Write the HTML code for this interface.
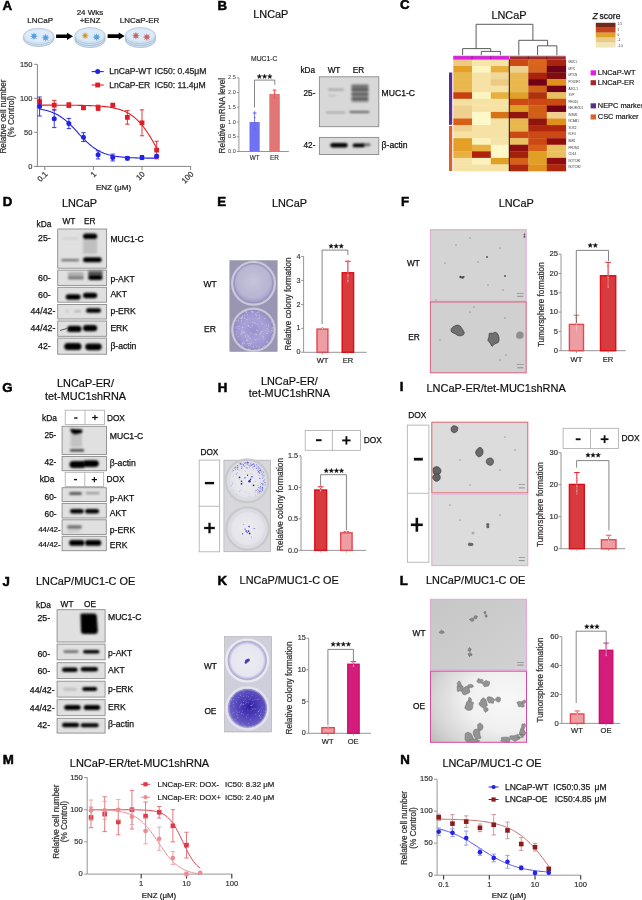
<!DOCTYPE html><html><head><meta charset="utf-8"><style>html,body{margin:0;padding:0;background:#fff;}svg{display:block;}</style></head><body><svg width="642" height="900" viewBox="0 0 642 900" font-family='"Liberation Sans", sans-serif'><defs><filter id="bl" x="-50%" y="-100%" width="200%" height="300%"><feGaussianBlur stdDeviation="0.8"/></filter><filter id="bl2" x="-50%" y="-50%" width="200%" height="200%"><feGaussianBlur stdDeviation="0.6"/></filter><radialGradient id="gE1" cx="0.5" cy="0.45" r="0.55"><stop offset="0" stop-color="#c6c4da"/><stop offset="0.75" stop-color="#b8b4d2"/><stop offset="1" stop-color="#9e98c8"/></radialGradient><radialGradient id="gE2" cx="0.5" cy="0.5" r="0.55"><stop offset="0" stop-color="#9890d0"/><stop offset="0.5" stop-color="#a8a2d8"/><stop offset="0.9" stop-color="#9890cc"/><stop offset="1" stop-color="#a0a0c0"/></radialGradient><radialGradient id="gH"><stop offset="0" stop-color="#ececf0"/><stop offset="0.8" stop-color="#e4e4ea"/><stop offset="1" stop-color="#d0d0da"/></radialGradient><radialGradient id="gK1"><stop offset="0" stop-color="#ececf2"/><stop offset="0.82" stop-color="#e6e6f0"/><stop offset="1" stop-color="#a8a0d8"/></radialGradient><radialGradient id="gK2" cx="0.55" cy="0.45" r="0.55"><stop offset="0" stop-color="#2e1ea0"/><stop offset="0.45" stop-color="#4e3eb8"/><stop offset="0.9" stop-color="#6a5ec4"/><stop offset="1" stop-color="#8a80d0"/></radialGradient><linearGradient id="gLw" x1="0" y1="0" x2="1" y2="1"><stop offset="0" stop-color="#c6c6c6"/><stop offset="1" stop-color="#d2d2d2"/></linearGradient><radialGradient id="gL" cx="0.78" cy="0.42" r="0.95" fx="0.8" fy="0.4"><stop offset="0" stop-color="#f8f8f8"/><stop offset="0.45" stop-color="#f0f0f0"/><stop offset="0.8" stop-color="#d4d4d4"/><stop offset="1" stop-color="#bcbcbc"/></radialGradient><filter id="soft" x="0" y="0" width="642" height="900" filterUnits="userSpaceOnUse"><feGaussianBlur stdDeviation="0.35"/></filter></defs><rect width="642" height="900" fill="#fff"/><g filter="url(#soft)"><text x="2.55" y="10.3" font-size="12.9" font-weight="bold" stroke="#000" stroke-width="0.5" transform="translate(2.55 0) scale(1.03 1) translate(-2.55 0)">A</text>
<text x="40.2" y="23.23" font-size="8" text-anchor="middle" fill="#222" stroke="#222" stroke-width="0.22">LNCaP</text>
<text x="90" y="15.33" font-size="8" text-anchor="middle" fill="#222" stroke="#222" stroke-width="0.22">24 Wks</text>
<text x="90" y="23.23" font-size="8" text-anchor="middle" fill="#222" stroke="#222" stroke-width="0.22">+ENZ</text>
<text x="139.6" y="23.23" font-size="8" text-anchor="middle" fill="#222" stroke="#222" stroke-width="0.22">LNCaP-ER</text>
<ellipse cx="38.7" cy="38.4" rx="15.4" ry="8.1" fill="#cfe0f2" stroke="#8fa8c0" stroke-width="0.6"/>
<ellipse cx="38.7" cy="36.4" rx="15.4" ry="8.1" fill="#d9e8f7" stroke="#9fb4c8" stroke-width="0.6"/>
<ellipse cx="38.7" cy="35.9" rx="14.2" ry="6.9" fill="#dcebf9" stroke="#bcd0e4" stroke-width="0.4"/>
<path d="M34 32.3 L34.8 34.26 L36.76 33.44 L35.94 35.4 L37.9 36.2 L35.94 37 L36.76 38.96 L34.8 38.14 L34 40.1 L33.2 38.14 L31.24 38.96 L32.06 37 L30.1 36.2 L32.06 35.4 L31.24 33.44 L33.2 34.26Z" fill="#5aa8e8" stroke="none" stroke-width="1"/>
<circle cx="34" cy="36.2" r="1.16" fill="#7890a8" stroke="none" stroke-width="1"/>
<path d="M45.6 33.8 L46.4 35.76 L48.36 34.94 L47.54 36.9 L49.5 37.7 L47.54 38.5 L48.36 40.46 L46.4 39.64 L45.6 41.6 L44.8 39.64 L42.84 40.46 L43.66 38.5 L41.7 37.7 L43.66 36.9 L42.84 34.94 L44.8 35.76Z" fill="#5aa8e8" stroke="none" stroke-width="1"/>
<circle cx="45.6" cy="37.7" r="1.16" fill="#7890a8" stroke="none" stroke-width="1"/>
<path d="M56.1 34.5 L67 34.5 L67 32.7 L73 36.3 L67 39.9 L67 38.1 L56.1 38.1 Z" fill="#000" stroke="none" stroke-width="1"/>
<ellipse cx="90" cy="39.6" rx="15.2" ry="8" fill="#cfe0f2" stroke="#8fa8c0" stroke-width="0.6"/>
<ellipse cx="90" cy="37.6" rx="15.2" ry="8" fill="#cfe0f2" stroke="#8fa8c0" stroke-width="0.6"/>
<ellipse cx="90" cy="35.6" rx="15.2" ry="8" fill="#d9e8f7" stroke="#9fb4c8" stroke-width="0.6"/>
<ellipse cx="90" cy="35.1" rx="14" ry="6.8" fill="#dcebf9" stroke="#bcd0e4" stroke-width="0.4"/>
<path d="M85.1 31.8 L85.9 33.76 L87.86 32.94 L87.04 34.9 L89 35.7 L87.04 36.5 L87.86 38.46 L85.9 37.64 L85.1 39.6 L84.3 37.64 L82.34 38.46 L83.16 36.5 L81.2 35.7 L83.16 34.9 L82.34 32.94 L84.3 33.76Z" fill="#e8b040" stroke="none" stroke-width="1"/>
<circle cx="85.1" cy="35.7" r="1.16" fill="#a08860" stroke="none" stroke-width="1"/>
<path d="M96.6 33.2 L97.4 35.16 L99.36 34.34 L98.54 36.3 L100.5 37.1 L98.54 37.9 L99.36 39.86 L97.4 39.04 L96.6 41 L95.8 39.04 L93.84 39.86 L94.66 37.9 L92.7 37.1 L94.66 36.3 L93.84 34.34 L95.8 35.16Z" fill="#5aa8e8" stroke="none" stroke-width="1"/>
<circle cx="96.6" cy="37.1" r="1.16" fill="#7890a8" stroke="none" stroke-width="1"/>
<path d="M107.6 34.3 L118.7 34.3 L118.7 32.5 L124.7 36.1 L118.7 39.7 L118.7 37.9 L107.6 37.9 Z" fill="#000" stroke="none" stroke-width="1"/>
<ellipse cx="140.4" cy="39.6" rx="15.2" ry="8" fill="#cfe0f2" stroke="#8fa8c0" stroke-width="0.6"/>
<ellipse cx="140.4" cy="37.6" rx="15.2" ry="8" fill="#cfe0f2" stroke="#8fa8c0" stroke-width="0.6"/>
<ellipse cx="140.4" cy="35.6" rx="15.2" ry="8" fill="#d9e8f7" stroke="#9fb4c8" stroke-width="0.6"/>
<ellipse cx="140.4" cy="35.1" rx="14" ry="6.8" fill="#dcebf9" stroke="#bcd0e4" stroke-width="0.4"/>
<path d="M135.9 31.8 L136.7 33.76 L138.66 32.94 L137.84 34.9 L139.8 35.7 L137.84 36.5 L138.66 38.46 L136.7 37.64 L135.9 39.6 L135.1 37.64 L133.14 38.46 L133.96 36.5 L132 35.7 L133.96 34.9 L133.14 32.94 L135.1 33.76Z" fill="#d87070" stroke="none" stroke-width="1"/>
<circle cx="135.9" cy="35.7" r="1.16" fill="#907070" stroke="none" stroke-width="1"/>
<path d="M146.8 33.2 L147.6 35.16 L149.56 34.34 L148.74 36.3 L150.7 37.1 L148.74 37.9 L149.56 39.86 L147.6 39.04 L146.8 41 L146 39.04 L144.04 39.86 L144.86 37.9 L142.9 37.1 L144.86 36.3 L144.04 34.34 L146 35.16Z" fill="#d87070" stroke="none" stroke-width="1"/>
<circle cx="146.8" cy="37.1" r="1.16" fill="#907070" stroke="none" stroke-width="1"/>
<line x1="37.4" y1="64.3" x2="37.4" y2="166.9" stroke="#858585" stroke-width="1"/>
<line x1="36.9" y1="166.4" x2="191.2" y2="166.4" stroke="#858585" stroke-width="1"/>
<line x1="34.2" y1="166.4" x2="37.4" y2="166.4" stroke="#858585" stroke-width="1"/>
<text x="32.4" y="168.63" font-size="7.5" text-anchor="end" fill="#333" stroke="#333" stroke-width="0.18">0</text>
<line x1="34.2" y1="132.37" x2="37.4" y2="132.37" stroke="#858585" stroke-width="1"/>
<text x="32.4" y="134.6" font-size="7.5" text-anchor="end" fill="#333" stroke="#333" stroke-width="0.18">50</text>
<line x1="34.2" y1="98.33" x2="37.4" y2="98.33" stroke="#858585" stroke-width="1"/>
<text x="32.4" y="100.57" font-size="7.5" text-anchor="end" fill="#333" stroke="#333" stroke-width="0.18">100</text>
<line x1="34.2" y1="64.3" x2="37.4" y2="64.3" stroke="#858585" stroke-width="1"/>
<text x="32.4" y="66.53" font-size="7.5" text-anchor="end" fill="#333" stroke="#333" stroke-width="0.18">150</text>
<line x1="44.8" y1="166.4" x2="44.8" y2="170" stroke="#858585" stroke-width="1"/>
<text x="48.2" y="174.6" font-size="7.9" text-anchor="end" fill="#333" stroke="#333" stroke-width="0.22" transform="rotate(-45 48.2 174.6)">0.1</text>
<line x1="93.4" y1="166.4" x2="93.4" y2="170" stroke="#858585" stroke-width="1"/>
<text x="96.8" y="174.6" font-size="7.9" text-anchor="end" fill="#333" stroke="#333" stroke-width="0.22" transform="rotate(-45 96.8 174.6)">1</text>
<line x1="142" y1="166.4" x2="142" y2="170" stroke="#858585" stroke-width="1"/>
<text x="145.4" y="174.6" font-size="7.9" text-anchor="end" fill="#333" stroke="#333" stroke-width="0.22" transform="rotate(-45 145.4 174.6)">10</text>
<line x1="190.6" y1="166.4" x2="190.6" y2="170" stroke="#858585" stroke-width="1"/>
<text x="194" y="174.6" font-size="7.9" text-anchor="end" fill="#333" stroke="#333" stroke-width="0.22" transform="rotate(-45 194 174.6)">100</text>
<text x="113.5" y="190.3" font-size="8.1" text-anchor="middle" fill="#222" stroke="#222" stroke-width="0.23">ENZ (μM)</text>
<text x="6.4" y="116.5" font-size="8.2" text-anchor="middle" fill="#333" stroke="#333" stroke-width="0.24" transform="rotate(-90 6.4 116.5)">Relative cell number</text>
<text x="14.4" y="116.5" font-size="8.2" text-anchor="middle" fill="#333" stroke="#333" stroke-width="0.24" transform="rotate(-90 14.4 116.5)">(% Control)</text>
<path d="M39.56 109.05 L40.73 109.24 L41.9 109.44 L43.07 109.67 L44.24 109.92 L45.41 110.19 L46.58 110.48 L47.75 110.81 L48.92 111.16 L50.09 111.54 L51.26 111.95 L52.43 112.4 L53.6 112.89 L54.78 113.41 L55.95 113.98 L57.12 114.59 L58.29 115.25 L59.46 115.95 L60.63 116.7 L61.8 117.49 L62.97 118.34 L64.14 119.24 L65.31 120.18 L66.48 121.17 L67.65 122.21 L68.82 123.29 L70 124.41 L71.17 125.56 L72.34 126.75 L73.51 127.97 L74.68 129.21 L75.85 130.47 L77.02 131.74 L78.19 133.01 L79.36 134.29 L80.53 135.55 L81.7 136.8 L82.87 138.03 L84.04 139.24 L85.21 140.41 L86.39 141.55 L87.56 142.65 L88.73 143.71 L89.9 144.73 L91.07 145.69 L92.24 146.62 L93.41 147.49 L94.58 148.31 L95.75 149.08 L96.92 149.81 L98.09 150.49 L99.26 151.12 L100.43 151.71 L101.61 152.26 L102.78 152.76 L103.95 153.23 L105.12 153.67 L106.29 154.06 L107.46 154.43 L108.63 154.77 L109.8 155.08 L110.97 155.36 L112.14 155.62 L113.31 155.86 L114.48 156.07 L115.65 156.27 L116.82 156.45 L118 156.61 L119.17 156.76 L120.34 156.9 L121.51 157.02 L122.68 157.13 L123.85 157.24 L125.02 157.33 L126.19 157.41 L127.36 157.49 L128.53 157.56 L129.7 157.62 L130.87 157.68 L132.04 157.73 L133.22 157.78 L134.39 157.82 L135.56 157.86 L136.73 157.9 L137.9 157.93 L139.07 157.96 L140.24 157.98 L141.41 158.01 L142.58 158.03 L143.75 158.05 L144.92 158.06 L146.09 158.08 L147.26 158.09 L148.43 158.11 L149.61 158.12 L150.78 158.13 L151.95 158.14 L153.12 158.15 L154.29 158.16 L155.46 158.16 L156.63 158.17" fill="none" stroke="#2323e6" stroke-width="1.1"/>
<path d="M39.56 105.15 L40.73 105.15 L41.9 105.15 L43.07 105.15 L44.24 105.16 L45.41 105.16 L46.58 105.16 L47.75 105.16 L48.92 105.16 L50.09 105.16 L51.26 105.17 L52.43 105.17 L53.6 105.17 L54.78 105.17 L55.95 105.18 L57.12 105.18 L58.29 105.18 L59.46 105.19 L60.63 105.19 L61.8 105.2 L62.97 105.2 L64.14 105.21 L65.31 105.21 L66.48 105.22 L67.65 105.23 L68.82 105.24 L70 105.25 L71.17 105.26 L72.34 105.27 L73.51 105.28 L74.68 105.29 L75.85 105.3 L77.02 105.32 L78.19 105.34 L79.36 105.35 L80.53 105.37 L81.7 105.4 L82.87 105.42 L84.04 105.45 L85.21 105.47 L86.39 105.51 L87.56 105.54 L88.73 105.58 L89.9 105.62 L91.07 105.66 L92.24 105.71 L93.41 105.76 L94.58 105.82 L95.75 105.88 L96.92 105.95 L98.09 106.02 L99.26 106.1 L100.43 106.19 L101.61 106.29 L102.78 106.39 L103.95 106.51 L105.12 106.63 L106.29 106.77 L107.46 106.92 L108.63 107.08 L109.8 107.26 L110.97 107.45 L112.14 107.66 L113.31 107.88 L114.48 108.13 L115.65 108.4 L116.82 108.69 L118 109.01 L119.17 109.35 L120.34 109.73 L121.51 110.13 L122.68 110.57 L123.85 111.04 L125.02 111.56 L126.19 112.11 L127.36 112.71 L128.53 113.35 L129.7 114.05 L130.87 114.8 L132.04 115.6 L133.22 116.46 L134.39 117.38 L135.56 118.37 L136.73 119.42 L137.9 120.55 L139.07 121.74 L140.24 123.01 L141.41 124.35 L142.58 125.77 L143.75 127.26 L144.92 128.83 L146.09 130.48 L147.26 132.2 L148.43 133.99 L149.61 135.85 L150.78 137.78 L151.95 139.77 L153.12 141.81 L154.29 143.9 L155.46 146.04 L156.63 148.21" fill="none" stroke="#e01f26" stroke-width="1.1"/>
<line x1="39.59" y1="99.01" x2="39.59" y2="104.46" stroke="#e01f26" stroke-width="0.9"/>
<line x1="37.39" y1="99.01" x2="41.79" y2="99.01" stroke="#e01f26" stroke-width="0.9"/>
<line x1="37.39" y1="104.46" x2="41.79" y2="104.46" stroke="#e01f26" stroke-width="0.9"/>
<rect x="37.19" y="99.34" width="4.8" height="4.8" fill="#e01f26" stroke="none" stroke-width="1"/>
<line x1="39.59" y1="96.97" x2="39.59" y2="116.03" stroke="#2323e6" stroke-width="0.9"/>
<line x1="37.39" y1="96.97" x2="41.79" y2="96.97" stroke="#2323e6" stroke-width="0.9"/>
<line x1="37.39" y1="116.03" x2="41.79" y2="116.03" stroke="#2323e6" stroke-width="0.9"/>
<circle cx="39.59" cy="106.5" r="2.5" fill="#2323e6" stroke="none" stroke-width="1"/>
<line x1="54.22" y1="100.38" x2="54.22" y2="109.9" stroke="#e01f26" stroke-width="0.9"/>
<line x1="52.02" y1="100.38" x2="56.42" y2="100.38" stroke="#e01f26" stroke-width="0.9"/>
<line x1="52.02" y1="109.9" x2="56.42" y2="109.9" stroke="#e01f26" stroke-width="0.9"/>
<rect x="51.82" y="102.74" width="4.8" height="4.8" fill="#e01f26" stroke="none" stroke-width="1"/>
<line x1="54.22" y1="109.9" x2="54.22" y2="127.6" stroke="#2323e6" stroke-width="0.9"/>
<line x1="52.02" y1="109.9" x2="56.42" y2="109.9" stroke="#2323e6" stroke-width="0.9"/>
<line x1="52.02" y1="127.6" x2="56.42" y2="127.6" stroke="#2323e6" stroke-width="0.9"/>
<circle cx="54.22" cy="118.75" r="2.5" fill="#2323e6" stroke="none" stroke-width="1"/>
<line x1="68.85" y1="102.76" x2="68.85" y2="107.52" stroke="#e01f26" stroke-width="0.9"/>
<line x1="66.65" y1="102.76" x2="71.05" y2="102.76" stroke="#e01f26" stroke-width="0.9"/>
<line x1="66.65" y1="107.52" x2="71.05" y2="107.52" stroke="#e01f26" stroke-width="0.9"/>
<rect x="66.45" y="102.74" width="4.8" height="4.8" fill="#e01f26" stroke="none" stroke-width="1"/>
<line x1="68.85" y1="118.41" x2="68.85" y2="128.62" stroke="#2323e6" stroke-width="0.9"/>
<line x1="66.65" y1="118.41" x2="71.05" y2="118.41" stroke="#2323e6" stroke-width="0.9"/>
<line x1="66.65" y1="128.62" x2="71.05" y2="128.62" stroke="#2323e6" stroke-width="0.9"/>
<circle cx="68.85" cy="123.52" r="2.5" fill="#2323e6" stroke="none" stroke-width="1"/>
<line x1="83.48" y1="106.5" x2="83.48" y2="109.22" stroke="#e01f26" stroke-width="0.9"/>
<line x1="81.28" y1="106.5" x2="85.68" y2="106.5" stroke="#e01f26" stroke-width="0.9"/>
<line x1="81.28" y1="109.22" x2="85.68" y2="109.22" stroke="#e01f26" stroke-width="0.9"/>
<rect x="81.08" y="105.46" width="4.8" height="4.8" fill="#e01f26" stroke="none" stroke-width="1"/>
<line x1="83.48" y1="132.71" x2="83.48" y2="141.56" stroke="#2323e6" stroke-width="0.9"/>
<line x1="81.28" y1="132.71" x2="85.68" y2="132.71" stroke="#2323e6" stroke-width="0.9"/>
<line x1="81.28" y1="141.56" x2="85.68" y2="141.56" stroke="#2323e6" stroke-width="0.9"/>
<circle cx="83.48" cy="137.13" r="2.5" fill="#2323e6" stroke="none" stroke-width="1"/>
<line x1="98.11" y1="105.14" x2="98.11" y2="110.59" stroke="#e01f26" stroke-width="0.9"/>
<line x1="95.91" y1="105.14" x2="100.31" y2="105.14" stroke="#e01f26" stroke-width="0.9"/>
<line x1="95.91" y1="110.59" x2="100.31" y2="110.59" stroke="#e01f26" stroke-width="0.9"/>
<rect x="95.71" y="105.46" width="4.8" height="4.8" fill="#e01f26" stroke="none" stroke-width="1"/>
<line x1="98.11" y1="150.74" x2="98.11" y2="158.91" stroke="#2323e6" stroke-width="0.9"/>
<line x1="95.91" y1="150.74" x2="100.31" y2="150.74" stroke="#2323e6" stroke-width="0.9"/>
<line x1="95.91" y1="158.91" x2="100.31" y2="158.91" stroke="#2323e6" stroke-width="0.9"/>
<circle cx="98.11" cy="154.83" r="2.5" fill="#2323e6" stroke="none" stroke-width="1"/>
<rect x="110.34" y="102.74" width="4.8" height="4.8" fill="#e01f26" stroke="none" stroke-width="1"/>
<line x1="112.74" y1="154.15" x2="112.74" y2="160.95" stroke="#2323e6" stroke-width="0.9"/>
<line x1="110.54" y1="154.15" x2="114.94" y2="154.15" stroke="#2323e6" stroke-width="0.9"/>
<line x1="110.54" y1="160.95" x2="114.94" y2="160.95" stroke="#2323e6" stroke-width="0.9"/>
<circle cx="112.74" cy="157.55" r="2.5" fill="#2323e6" stroke="none" stroke-width="1"/>
<line x1="127.37" y1="110.59" x2="127.37" y2="124.2" stroke="#e01f26" stroke-width="0.9"/>
<line x1="125.17" y1="110.59" x2="129.57" y2="110.59" stroke="#e01f26" stroke-width="0.9"/>
<line x1="125.17" y1="124.2" x2="129.57" y2="124.2" stroke="#e01f26" stroke-width="0.9"/>
<rect x="124.97" y="114.99" width="4.8" height="4.8" fill="#e01f26" stroke="none" stroke-width="1"/>
<line x1="127.37" y1="156.53" x2="127.37" y2="159.93" stroke="#2323e6" stroke-width="0.9"/>
<line x1="125.17" y1="156.53" x2="129.57" y2="156.53" stroke="#2323e6" stroke-width="0.9"/>
<line x1="125.17" y1="159.93" x2="129.57" y2="159.93" stroke="#2323e6" stroke-width="0.9"/>
<circle cx="127.37" cy="158.23" r="2.5" fill="#2323e6" stroke="none" stroke-width="1"/>
<line x1="142" y1="109.9" x2="142" y2="135.77" stroke="#e01f26" stroke-width="0.9"/>
<line x1="139.8" y1="109.9" x2="144.2" y2="109.9" stroke="#e01f26" stroke-width="0.9"/>
<line x1="139.8" y1="135.77" x2="144.2" y2="135.77" stroke="#e01f26" stroke-width="0.9"/>
<rect x="139.6" y="120.44" width="4.8" height="4.8" fill="#e01f26" stroke="none" stroke-width="1"/>
<line x1="142" y1="155.51" x2="142" y2="159.59" stroke="#2323e6" stroke-width="0.9"/>
<line x1="139.8" y1="155.51" x2="144.2" y2="155.51" stroke="#2323e6" stroke-width="0.9"/>
<line x1="139.8" y1="159.59" x2="144.2" y2="159.59" stroke="#2323e6" stroke-width="0.9"/>
<circle cx="142" cy="157.55" r="2.5" fill="#2323e6" stroke="none" stroke-width="1"/>
<line x1="156.63" y1="141.22" x2="156.63" y2="158.91" stroke="#e01f26" stroke-width="0.9"/>
<line x1="154.43" y1="141.22" x2="158.83" y2="141.22" stroke="#e01f26" stroke-width="0.9"/>
<line x1="154.43" y1="158.91" x2="158.83" y2="158.91" stroke="#e01f26" stroke-width="0.9"/>
<rect x="154.23" y="147.66" width="4.8" height="4.8" fill="#e01f26" stroke="none" stroke-width="1"/>
<line x1="156.63" y1="154.83" x2="156.63" y2="157.55" stroke="#2323e6" stroke-width="0.9"/>
<line x1="154.43" y1="154.83" x2="158.83" y2="154.83" stroke="#2323e6" stroke-width="0.9"/>
<line x1="154.43" y1="157.55" x2="158.83" y2="157.55" stroke="#2323e6" stroke-width="0.9"/>
<circle cx="156.63" cy="156.19" r="2.5" fill="#2323e6" stroke="none" stroke-width="1"/>
<line x1="91.7" y1="71.6" x2="103.7" y2="71.6" stroke="#2323e6" stroke-width="1.1"/>
<circle cx="97.7" cy="71.6" r="2.5" fill="#2323e6" stroke="none" stroke-width="1"/>
<text x="109.2" y="74.23" font-size="8.6" text-anchor="start" fill="#222" stroke="#222" stroke-width="0.25">LnCaP-WT</text>
<text x="154.6" y="74.23" font-size="8.6" text-anchor="start" fill="#222" stroke="#222" stroke-width="0.25">IC50: 0.45μM</text>
<line x1="91.7" y1="85" x2="103.7" y2="85" stroke="#e01f26" stroke-width="1.1"/>
<rect x="95.3" y="82.6" width="4.8" height="4.8" fill="#e01f26" stroke="none" stroke-width="1"/>
<text x="109.2" y="87.63" font-size="8.6" text-anchor="start" fill="#222" stroke="#222" stroke-width="0.25">LnCaP-ER</text>
<text x="154.6" y="87.63" font-size="8.6" text-anchor="start" fill="#222" stroke="#222" stroke-width="0.25">IC50: 11.4μM</text>
<text x="217.45" y="10.4" font-size="12.9" font-weight="bold" stroke="#000" stroke-width="0.5" transform="translate(217.45 0) scale(1.03 1) translate(-217.45 0)">B</text>
<text x="270.8" y="18.35" font-size="10.9" text-anchor="middle" fill="#111" stroke="#111" stroke-width="0.2">LNCaP</text>
<text x="264.2" y="61.26" font-size="6.8" text-anchor="middle" fill="#222" stroke="#222" stroke-width="0.13">MUC1-C</text>
<line x1="238.9" y1="77.75" x2="238.9" y2="151.5" stroke="#8a8a8a" stroke-width="0.9"/>
<line x1="238.9" y1="151.5" x2="288.8" y2="151.5" stroke="#8a8a8a" stroke-width="0.9"/>
<line x1="236.9" y1="151.5" x2="238.9" y2="151.5" stroke="#8a8a8a" stroke-width="0.9"/>
<text x="235.8" y="153.04" font-size="5.6" text-anchor="end" fill="#444" stroke="#444" stroke-width="0.03">0.0</text>
<line x1="236.9" y1="136.75" x2="238.9" y2="136.75" stroke="#8a8a8a" stroke-width="0.9"/>
<text x="235.8" y="138.29" font-size="5.6" text-anchor="end" fill="#444" stroke="#444" stroke-width="0.03">0.5</text>
<line x1="236.9" y1="122" x2="238.9" y2="122" stroke="#8a8a8a" stroke-width="0.9"/>
<text x="235.8" y="123.54" font-size="5.6" text-anchor="end" fill="#444" stroke="#444" stroke-width="0.03">1.0</text>
<line x1="236.9" y1="107.25" x2="238.9" y2="107.25" stroke="#8a8a8a" stroke-width="0.9"/>
<text x="235.8" y="108.79" font-size="5.6" text-anchor="end" fill="#444" stroke="#444" stroke-width="0.03">1.5</text>
<line x1="236.9" y1="92.5" x2="238.9" y2="92.5" stroke="#8a8a8a" stroke-width="0.9"/>
<text x="235.8" y="94.04" font-size="5.6" text-anchor="end" fill="#444" stroke="#444" stroke-width="0.03">2.0</text>
<line x1="236.9" y1="77.75" x2="238.9" y2="77.75" stroke="#8a8a8a" stroke-width="0.9"/>
<text x="235.8" y="79.29" font-size="5.6" text-anchor="end" fill="#444" stroke="#444" stroke-width="0.03">2.5</text>
<text x="224.8" y="115.6" font-size="8.3" text-anchor="middle" fill="#333" stroke="#333" stroke-width="0.25" transform="rotate(-90 224.8 115.6)">Relative mRNA level</text>
<rect x="249.5" y="122" width="10.2" height="29.5" fill="#6f6ff2" stroke="none" stroke-width="1"/>
<rect x="269.3" y="93.97" width="10.5" height="57.53" fill="#e27575" stroke="none" stroke-width="1"/>
<line x1="254.6" y1="113.15" x2="254.6" y2="130.26" stroke="#6a6af0" stroke-width="0.9"/>
<line x1="252.6" y1="113.15" x2="256.6" y2="113.15" stroke="#6a6af0" stroke-width="0.9"/>
<circle cx="254.6" cy="112.27" r="0.9" fill="#6a6af0" stroke="none" stroke-width="1"/>
<circle cx="254.6" cy="117.58" r="0.9" fill="#6a6af0" stroke="none" stroke-width="1"/>
<circle cx="254.6" cy="129.38" r="0.9" fill="#6a6af0" stroke="none" stroke-width="1"/>
<line x1="274.5" y1="90.14" x2="274.5" y2="97.81" stroke="#e05a5a" stroke-width="0.9"/>
<line x1="272.5" y1="90.14" x2="276.5" y2="90.14" stroke="#e05a5a" stroke-width="0.9"/>
<circle cx="274.5" cy="90.44" r="0.9" fill="#e05a5a" stroke="none" stroke-width="1"/>
<circle cx="274.5" cy="93.09" r="0.9" fill="#e05a5a" stroke="none" stroke-width="1"/>
<circle cx="274.5" cy="97.81" r="0.9" fill="#e05a5a" stroke="none" stroke-width="1"/>
<path d="M254.5 107.4 L254.5 80.1 L274.8 80.1 L274.8 84.8" fill="none" stroke="#555" stroke-width="0.7"/>
<path d="M259.4 74.05 L260.02 75.65 L261.73 75.74 L260.4 76.82 L260.84 78.48 L259.4 77.55 L257.96 78.48 L258.4 76.82 L257.07 75.74 L258.78 75.65Z" fill="#111" stroke="#111" stroke-width="0.35"/>
<path d="M264.6 74.05 L265.22 75.65 L266.93 75.74 L265.6 76.82 L266.04 78.48 L264.6 77.55 L263.16 78.48 L263.6 76.82 L262.27 75.74 L263.98 75.65Z" fill="#111" stroke="#111" stroke-width="0.35"/>
<path d="M269.8 74.05 L270.42 75.65 L272.13 75.74 L270.8 76.82 L271.24 78.48 L269.8 77.55 L268.36 78.48 L268.8 76.82 L267.47 75.74 L269.18 75.65Z" fill="#111" stroke="#111" stroke-width="0.35"/>
<text x="254.6" y="160.13" font-size="6.4" text-anchor="middle" fill="#222" stroke="#222" stroke-width="0.1">WT</text>
<text x="274.5" y="160.13" font-size="6.4" text-anchor="middle" fill="#222" stroke="#222" stroke-width="0.1">ER</text>
<text x="300.5" y="72.88" font-size="8.2" text-anchor="start" fill="#111" stroke="#111" stroke-width="0.24">kDa</text>
<text x="334" y="72.88" font-size="8.2" text-anchor="middle" fill="#111" stroke="#111" stroke-width="0.24">WT</text>
<text x="358.4" y="72.88" font-size="8.2" text-anchor="middle" fill="#111" stroke="#111" stroke-width="0.24">ER</text>
<text x="315.4" y="95.69" font-size="8.2" text-anchor="end" fill="#111" stroke="#111" stroke-width="0.24">25-</text>
<text x="315.4" y="147.79" font-size="8.2" text-anchor="end" fill="#111" stroke="#111" stroke-width="0.24">42-</text>
<text x="381.6" y="95.83" font-size="8.6" text-anchor="start" fill="#111" stroke="#111" stroke-width="0.25">MUC1-C</text>
<text x="381.6" y="147.93" font-size="8.6" text-anchor="start" fill="#111" stroke="#111" stroke-width="0.25">β-actin</text>
<rect x="319.4" y="76.8" width="59.4" height="49.9" fill="#d8d8d8" stroke="#8a8a8a" stroke-width="0.9"/>
<rect x="319.4" y="137.4" width="59.4" height="17.1" fill="#dadada" stroke="#8a8a8a" stroke-width="0.9"/>
<rect x="328" y="88.8" width="16" height="1.6" fill="#000" stroke="none" stroke-width="1" rx="0.8" opacity="0.28" filter="url(#bl)"/>
<rect x="328" y="95" width="8" height="1.2" fill="#000" stroke="none" stroke-width="1" rx="0.6" opacity="0.15" filter="url(#bl)"/>
<rect x="326" y="111.7" width="19.5" height="1.6" fill="#000" stroke="none" stroke-width="1" rx="0.8" opacity="0.28" filter="url(#bl)"/>
<rect x="351.5" y="84.2" width="16.9" height="18" fill="#000" stroke="none" stroke-width="1" opacity="0.3" filter="url(#bl)"/>
<rect x="351.5" y="85.4" width="16.9" height="2" fill="#000" stroke="none" stroke-width="1" rx="1" opacity="0.35" filter="url(#bl)"/>
<rect x="351.5" y="88.4" width="16.9" height="2.4" fill="#000" stroke="none" stroke-width="1" rx="1.2" opacity="0.5" filter="url(#bl)"/>
<rect x="351.5" y="93" width="16.9" height="2.4" fill="#000" stroke="none" stroke-width="1" rx="1.2" opacity="0.4" filter="url(#bl)"/>
<rect x="351.5" y="97.6" width="16.9" height="2.6" fill="#000" stroke="none" stroke-width="1" rx="1.3" opacity="0.4" filter="url(#bl)"/>
<rect x="349.4" y="110.9" width="20.1" height="2.2" fill="#000" stroke="none" stroke-width="1" rx="1.1" opacity="0.55" filter="url(#bl)"/>
<rect x="330.3" y="143" width="17.4" height="4.4" fill="#000" stroke="none" stroke-width="1" rx="2.2" opacity="1" filter="url(#bl)"/>
<rect x="352.6" y="143.5" width="11.9" height="3.8" fill="#000" stroke="none" stroke-width="1" rx="1.9" opacity="1" filter="url(#bl)"/>
<rect x="362" y="143.3" width="8.6" height="3" fill="#000" stroke="none" stroke-width="1" rx="1.5" opacity="0.5" filter="url(#bl)"/>
<text x="400.05" y="9.1" font-size="12.9" font-weight="bold" stroke="#000" stroke-width="0.5" transform="translate(400.05 0) scale(1.03 1) translate(-400.05 0)">C</text>
<text x="509" y="18.75" font-size="10.9" text-anchor="middle" fill="#111" stroke="#111" stroke-width="0.2">LNCaP</text>
<rect x="453.3" y="59.4" width="19" height="6.86" fill="#eecb85" stroke="none" stroke-width="1"/>
<rect x="472" y="59.4" width="19.1" height="6.86" fill="#f7e6a8" stroke="none" stroke-width="1"/>
<rect x="490.8" y="59.4" width="18.8" height="6.86" fill="#f5e2a4" stroke="none" stroke-width="1"/>
<rect x="509.3" y="59.4" width="19.3" height="6.86" fill="#cc4a12" stroke="none" stroke-width="1"/>
<rect x="528.3" y="59.4" width="18.8" height="6.86" fill="#d9661a" stroke="none" stroke-width="1"/>
<rect x="546.8" y="59.4" width="19.3" height="6.86" fill="#a8260e" stroke="none" stroke-width="1"/>
<text x="568.4" y="63.28" font-size="3" text-anchor="start" fill="#333">MUC1</text>
<rect x="453.3" y="65.96" width="19" height="6.86" fill="#e4a028" stroke="none" stroke-width="1"/>
<rect x="472" y="65.96" width="19.1" height="6.86" fill="#fdf5c0" stroke="none" stroke-width="1"/>
<rect x="490.8" y="65.96" width="18.8" height="6.86" fill="#e8b040" stroke="none" stroke-width="1"/>
<rect x="509.3" y="65.96" width="19.3" height="6.86" fill="#f0d090" stroke="none" stroke-width="1"/>
<rect x="528.3" y="65.96" width="18.8" height="6.86" fill="#d8641a" stroke="none" stroke-width="1"/>
<rect x="546.8" y="65.96" width="19.3" height="6.86" fill="#700018" stroke="none" stroke-width="1"/>
<text x="568.4" y="69.84" font-size="3" text-anchor="start" fill="#333">MYC</text>
<rect x="453.3" y="72.53" width="19" height="6.86" fill="#e8b850" stroke="none" stroke-width="1"/>
<rect x="472" y="72.53" width="19.1" height="6.86" fill="#f5e2a4" stroke="none" stroke-width="1"/>
<rect x="490.8" y="72.53" width="18.8" height="6.86" fill="#f0d898" stroke="none" stroke-width="1"/>
<rect x="509.3" y="72.53" width="19.3" height="6.86" fill="#e8b850" stroke="none" stroke-width="1"/>
<rect x="528.3" y="72.53" width="18.8" height="6.86" fill="#a82010" stroke="none" stroke-width="1"/>
<rect x="546.8" y="72.53" width="19.3" height="6.86" fill="#801010" stroke="none" stroke-width="1"/>
<text x="568.4" y="76.41" font-size="3" text-anchor="start" fill="#333">MYCN</text>
<rect x="453.3" y="79.09" width="19" height="6.86" fill="#e8b850" stroke="none" stroke-width="1"/>
<rect x="472" y="79.09" width="19.1" height="6.86" fill="#f5e2a4" stroke="none" stroke-width="1"/>
<rect x="490.8" y="79.09" width="18.8" height="6.86" fill="#eccb80" stroke="none" stroke-width="1"/>
<rect x="509.3" y="79.09" width="19.3" height="6.86" fill="#e8b850" stroke="none" stroke-width="1"/>
<rect x="528.3" y="79.09" width="18.8" height="6.86" fill="#700018" stroke="none" stroke-width="1"/>
<rect x="546.8" y="79.09" width="19.3" height="6.86" fill="#e0901e" stroke="none" stroke-width="1"/>
<text x="568.4" y="82.97" font-size="3" text-anchor="start" fill="#333">POU3F2</text>
<rect x="453.3" y="85.66" width="19" height="6.86" fill="#e8b850" stroke="none" stroke-width="1"/>
<rect x="472" y="85.66" width="19.1" height="6.86" fill="#f5e2a4" stroke="none" stroke-width="1"/>
<rect x="490.8" y="85.66" width="18.8" height="6.86" fill="#f5e2a4" stroke="none" stroke-width="1"/>
<rect x="509.3" y="85.66" width="19.3" height="6.86" fill="#e8b850" stroke="none" stroke-width="1"/>
<rect x="528.3" y="85.66" width="18.8" height="6.86" fill="#d06018" stroke="none" stroke-width="1"/>
<rect x="546.8" y="85.66" width="19.3" height="6.86" fill="#700018" stroke="none" stroke-width="1"/>
<text x="568.4" y="89.53" font-size="3" text-anchor="start" fill="#333">ASCL1</text>
<rect x="453.3" y="92.22" width="19" height="6.86" fill="#c8400e" stroke="none" stroke-width="1"/>
<rect x="472" y="92.22" width="19.1" height="6.86" fill="#fdf5c0" stroke="none" stroke-width="1"/>
<rect x="490.8" y="92.22" width="18.8" height="6.86" fill="#e8b040" stroke="none" stroke-width="1"/>
<rect x="509.3" y="92.22" width="19.3" height="6.86" fill="#e0a028" stroke="none" stroke-width="1"/>
<rect x="528.3" y="92.22" width="18.8" height="6.86" fill="#b03010" stroke="none" stroke-width="1"/>
<rect x="546.8" y="92.22" width="19.3" height="6.86" fill="#e8c060" stroke="none" stroke-width="1"/>
<text x="568.4" y="96.1" font-size="3" text-anchor="start" fill="#333">SYP</text>
<rect x="453.3" y="98.79" width="19" height="6.86" fill="#f5e0a0" stroke="none" stroke-width="1"/>
<rect x="472" y="98.79" width="19.1" height="6.86" fill="#f5e2a4" stroke="none" stroke-width="1"/>
<rect x="490.8" y="98.79" width="18.8" height="6.86" fill="#f5e2a4" stroke="none" stroke-width="1"/>
<rect x="509.3" y="98.79" width="19.3" height="6.86" fill="#cc4a12" stroke="none" stroke-width="1"/>
<rect x="528.3" y="98.79" width="18.8" height="6.86" fill="#cc4a12" stroke="none" stroke-width="1"/>
<rect x="546.8" y="98.79" width="19.3" height="6.86" fill="#cc4a12" stroke="none" stroke-width="1"/>
<text x="568.4" y="102.66" font-size="3" text-anchor="start" fill="#333">PEG10</text>
<rect x="453.3" y="105.35" width="19" height="6.86" fill="#efd090" stroke="none" stroke-width="1"/>
<rect x="472" y="105.35" width="19.1" height="6.86" fill="#f5e2a4" stroke="none" stroke-width="1"/>
<rect x="490.8" y="105.35" width="18.8" height="6.86" fill="#f5e2a4" stroke="none" stroke-width="1"/>
<rect x="509.3" y="105.35" width="19.3" height="6.86" fill="#e0a028" stroke="none" stroke-width="1"/>
<rect x="528.3" y="105.35" width="18.8" height="6.86" fill="#d06018" stroke="none" stroke-width="1"/>
<rect x="546.8" y="105.35" width="19.3" height="6.86" fill="#700018" stroke="none" stroke-width="1"/>
<text x="568.4" y="109.23" font-size="3" text-anchor="start" fill="#333">NEUROD1</text>
<rect x="453.3" y="111.92" width="19" height="6.86" fill="#efd090" stroke="none" stroke-width="1"/>
<rect x="472" y="111.92" width="19.1" height="6.86" fill="#fdf8c8" stroke="none" stroke-width="1"/>
<rect x="490.8" y="111.92" width="18.8" height="6.86" fill="#d87018" stroke="none" stroke-width="1"/>
<rect x="509.3" y="111.92" width="19.3" height="6.86" fill="#901810" stroke="none" stroke-width="1"/>
<rect x="528.3" y="111.92" width="18.8" height="6.86" fill="#d06018" stroke="none" stroke-width="1"/>
<rect x="546.8" y="111.92" width="19.3" height="6.86" fill="#f0d090" stroke="none" stroke-width="1"/>
<text x="568.4" y="115.79" font-size="3" text-anchor="start" fill="#333">INSM1</text>
<rect x="453.3" y="118.48" width="19" height="6.86" fill="#d86018" stroke="none" stroke-width="1"/>
<rect x="472" y="118.48" width="19.1" height="6.86" fill="#fdf8c8" stroke="none" stroke-width="1"/>
<rect x="490.8" y="118.48" width="18.8" height="6.86" fill="#f5e2a4" stroke="none" stroke-width="1"/>
<rect x="509.3" y="118.48" width="19.3" height="6.86" fill="#e8b850" stroke="none" stroke-width="1"/>
<rect x="528.3" y="118.48" width="18.8" height="6.86" fill="#901810" stroke="none" stroke-width="1"/>
<rect x="546.8" y="118.48" width="19.3" height="6.86" fill="#e0901e" stroke="none" stroke-width="1"/>
<text x="568.4" y="122.36" font-size="3" text-anchor="start" fill="#333">NCAM1</text>
<rect x="453.3" y="125.05" width="19" height="6.86" fill="#efd090" stroke="none" stroke-width="1"/>
<rect x="472" y="125.05" width="19.1" height="6.86" fill="#f5e2a4" stroke="none" stroke-width="1"/>
<rect x="490.8" y="125.05" width="18.8" height="6.86" fill="#f5e2a4" stroke="none" stroke-width="1"/>
<rect x="509.3" y="125.05" width="19.3" height="6.86" fill="#e8b850" stroke="none" stroke-width="1"/>
<rect x="528.3" y="125.05" width="18.8" height="6.86" fill="#b02810" stroke="none" stroke-width="1"/>
<rect x="546.8" y="125.05" width="19.3" height="6.86" fill="#b02810" stroke="none" stroke-width="1"/>
<text x="568.4" y="128.92" font-size="3" text-anchor="start" fill="#333">SOX2</text>
<rect x="453.3" y="131.61" width="19" height="6.86" fill="#f5e2a4" stroke="none" stroke-width="1"/>
<rect x="472" y="131.61" width="19.1" height="6.86" fill="#f5e2a4" stroke="none" stroke-width="1"/>
<rect x="490.8" y="131.61" width="18.8" height="6.86" fill="#f5e2a4" stroke="none" stroke-width="1"/>
<rect x="509.3" y="131.61" width="19.3" height="6.86" fill="#cc4a12" stroke="none" stroke-width="1"/>
<rect x="528.3" y="131.61" width="18.8" height="6.86" fill="#cc4a12" stroke="none" stroke-width="1"/>
<rect x="546.8" y="131.61" width="19.3" height="6.86" fill="#cc4a12" stroke="none" stroke-width="1"/>
<text x="568.4" y="135.49" font-size="3" text-anchor="start" fill="#333">KLF4</text>
<rect x="453.3" y="138.18" width="19" height="6.86" fill="#e4a028" stroke="none" stroke-width="1"/>
<rect x="472" y="138.18" width="19.1" height="6.86" fill="#fdf2bc" stroke="none" stroke-width="1"/>
<rect x="490.8" y="138.18" width="18.8" height="6.86" fill="#f5e2a4" stroke="none" stroke-width="1"/>
<rect x="509.3" y="138.18" width="19.3" height="6.86" fill="#e8c060" stroke="none" stroke-width="1"/>
<rect x="528.3" y="138.18" width="18.8" height="6.86" fill="#cc4a12" stroke="none" stroke-width="1"/>
<rect x="546.8" y="138.18" width="19.3" height="6.86" fill="#901010" stroke="none" stroke-width="1"/>
<text x="568.4" y="142.05" font-size="3" text-anchor="start" fill="#333">BMI1</text>
<rect x="453.3" y="144.74" width="19" height="6.86" fill="#e4a028" stroke="none" stroke-width="1"/>
<rect x="472" y="144.74" width="19.1" height="6.86" fill="#e8b040" stroke="none" stroke-width="1"/>
<rect x="490.8" y="144.74" width="18.8" height="6.86" fill="#fdf8c8" stroke="none" stroke-width="1"/>
<rect x="509.3" y="144.74" width="19.3" height="6.86" fill="#901010" stroke="none" stroke-width="1"/>
<rect x="528.3" y="144.74" width="18.8" height="6.86" fill="#d86018" stroke="none" stroke-width="1"/>
<rect x="546.8" y="144.74" width="19.3" height="6.86" fill="#e8c060" stroke="none" stroke-width="1"/>
<text x="568.4" y="148.62" font-size="3" text-anchor="start" fill="#333">PROM1</text>
<rect x="453.3" y="151.31" width="19" height="6.86" fill="#e8b040" stroke="none" stroke-width="1"/>
<rect x="472" y="151.31" width="19.1" height="6.86" fill="#b02010" stroke="none" stroke-width="1"/>
<rect x="490.8" y="151.31" width="18.8" height="6.86" fill="#fdf8c8" stroke="none" stroke-width="1"/>
<rect x="509.3" y="151.31" width="19.3" height="6.86" fill="#a02010" stroke="none" stroke-width="1"/>
<rect x="528.3" y="151.31" width="18.8" height="6.86" fill="#e0a028" stroke="none" stroke-width="1"/>
<rect x="546.8" y="151.31" width="19.3" height="6.86" fill="#e8c060" stroke="none" stroke-width="1"/>
<text x="568.4" y="155.18" font-size="3" text-anchor="start" fill="#333">CD44</text>
<rect x="453.3" y="157.87" width="19" height="6.86" fill="#f5e2a4" stroke="none" stroke-width="1"/>
<rect x="472" y="157.87" width="19.1" height="6.86" fill="#fdf2bc" stroke="none" stroke-width="1"/>
<rect x="490.8" y="157.87" width="18.8" height="6.86" fill="#e0a028" stroke="none" stroke-width="1"/>
<rect x="509.3" y="157.87" width="19.3" height="6.86" fill="#d86018" stroke="none" stroke-width="1"/>
<rect x="528.3" y="157.87" width="18.8" height="6.86" fill="#e0a028" stroke="none" stroke-width="1"/>
<rect x="546.8" y="157.87" width="19.3" height="6.86" fill="#901010" stroke="none" stroke-width="1"/>
<text x="568.4" y="161.75" font-size="3" text-anchor="start" fill="#333">NOTCH1</text>
<rect x="453.3" y="164.44" width="19" height="6.86" fill="#f5e2a4" stroke="none" stroke-width="1"/>
<rect x="472" y="164.44" width="19.1" height="6.86" fill="#f5e2a4" stroke="none" stroke-width="1"/>
<rect x="490.8" y="164.44" width="18.8" height="6.86" fill="#f5e2a4" stroke="none" stroke-width="1"/>
<rect x="509.3" y="164.44" width="19.3" height="6.86" fill="#b02810" stroke="none" stroke-width="1"/>
<rect x="528.3" y="164.44" width="18.8" height="6.86" fill="#e0901e" stroke="none" stroke-width="1"/>
<rect x="546.8" y="164.44" width="19.3" height="6.86" fill="#b02810" stroke="none" stroke-width="1"/>
<text x="568.4" y="168.31" font-size="3" text-anchor="start" fill="#333">NOTCH2</text>
<line x1="509.3" y1="59.4" x2="509.3" y2="171" stroke="#111" stroke-width="1"/>
<rect x="453.5" y="56.1" width="55.5" height="3.2" fill="#e21ee6" stroke="none" stroke-width="1"/>
<rect x="509.6" y="56.3" width="56" height="3" fill="#a8282e" stroke="none" stroke-width="1"/>
<line x1="472" y1="56.1" x2="472" y2="59.3" stroke="#5a1060" stroke-width="0.6"/>
<line x1="490.8" y1="56.1" x2="490.8" y2="59.3" stroke="#5a1060" stroke-width="0.6"/>
<line x1="528.3" y1="56.3" x2="528.3" y2="59.3" stroke="#501010" stroke-width="0.6"/>
<line x1="546.8" y1="56.3" x2="546.8" y2="59.3" stroke="#501010" stroke-width="0.6"/>
<rect x="453.5" y="56" width="112.1" height="3.4" fill="none" stroke="#555" stroke-width="0.4"/>
<rect x="449" y="72.5" width="3.2" height="52.3" fill="#5b2d8e" stroke="none" stroke-width="1"/>
<rect x="449" y="126" width="3.2" height="45" fill="#e0602c" stroke="none" stroke-width="1"/>
<path d="M462.6 55.1 L462.6 48.6 L490.7 48.6 L490.7 51.4" fill="none" stroke="#4a4a4a" stroke-width="0.9"/>
<path d="M481.3 55.1 L481.3 51.4 L500.4 51.4 L500.4 55.1" fill="none" stroke="#4a4a4a" stroke-width="0.9"/>
<path d="M476.1 48.6 L476.1 24.3 L532.9 24.3 L532.9 40.3" fill="none" stroke="#4a4a4a" stroke-width="0.9"/>
<path d="M518.8 55.3 L518.8 40.3 L547.6 40.3 L547.6 45.8" fill="none" stroke="#4a4a4a" stroke-width="0.9"/>
<path d="M537.6 55.3 L537.6 45.8 L556.9 45.8 L556.9 55.3" fill="none" stroke="#4a4a4a" stroke-width="0.9"/>
<text x="592.6" y="18.6" font-size="8.6" text-anchor="start" fill="#111" stroke="#111" stroke-width="0.25" style="font-style:italic">Z</text>
<text x="599.6" y="18.6" font-size="8.5" text-anchor="start" fill="#111" stroke="#111" stroke-width="0.25">score</text>
<rect x="595.8" y="22.8" width="19.7" height="4.96" fill="#6e2a1c" stroke="none" stroke-width="1"/>
<text x="617.6" y="24.75" font-size="3.2" text-anchor="start" fill="#333">1.5</text>
<rect x="595.8" y="27.76" width="19.7" height="4.96" fill="#c4441a" stroke="none" stroke-width="1"/>
<text x="617.6" y="30.91" font-size="3.2" text-anchor="start" fill="#333">1</text>
<rect x="595.8" y="32.72" width="19.7" height="4.96" fill="#dea42a" stroke="none" stroke-width="1"/>
<text x="617.6" y="35.87" font-size="3.2" text-anchor="start" fill="#333">0</text>
<rect x="595.8" y="37.68" width="19.7" height="4.96" fill="#e8cc86" stroke="none" stroke-width="1"/>
<text x="617.6" y="40.83" font-size="3.2" text-anchor="start" fill="#333">-1</text>
<rect x="595.8" y="42.64" width="19.7" height="4.96" fill="#f3e6b6" stroke="none" stroke-width="1"/>
<text x="617.6" y="46.99" font-size="3.2" text-anchor="start" fill="#333">-1.5</text>
<rect x="590.6" y="70.3" width="5.4" height="5.1" fill="#e81ee8" stroke="none" stroke-width="1"/>
<text x="597.8" y="75.1" font-size="7.4" text-anchor="start" fill="#111" stroke="#111" stroke-width="0.18">LNCaP-WT</text>
<rect x="590.6" y="80.2" width="5.4" height="5.1" fill="#a8282e" stroke="none" stroke-width="1"/>
<text x="597.8" y="85" font-size="7.4" text-anchor="start" fill="#111" stroke="#111" stroke-width="0.18">LNCaP-ER</text>
<rect x="590.6" y="103.3" width="5.4" height="5.1" fill="#5b2d8e" stroke="none" stroke-width="1"/>
<text x="597.8" y="108" font-size="7.4" text-anchor="start" fill="#111" stroke="#111" stroke-width="0.18">NEPC marker</text>
<rect x="590.6" y="114.4" width="5.4" height="5.1" fill="#e0602c" stroke="none" stroke-width="1"/>
<text x="597.8" y="119.2" font-size="7.4" text-anchor="start" fill="#111" stroke="#111" stroke-width="0.18">CSC marker</text>
<text x="2.65" y="206" font-size="12.9" font-weight="bold" stroke="#000" stroke-width="0.5" transform="translate(2.65 0) scale(1.03 1) translate(-2.65 0)">D</text>
<text x="79.5" y="206.75" font-size="10.9" text-anchor="middle" fill="#111" stroke="#111" stroke-width="0.2">LNCaP</text>
<text x="36.6" y="226.65" font-size="8.3" text-anchor="start" fill="#111" stroke="#111" stroke-width="0.25">kDa</text>
<text x="68.9" y="224.25" font-size="8.3" text-anchor="middle" fill="#111" stroke="#111" stroke-width="0.25">WT</text>
<text x="89.7" y="224.25" font-size="8.3" text-anchor="middle" fill="#111" stroke="#111" stroke-width="0.25">ER</text>
<rect x="57.7" y="229" width="48.9" height="39.2" fill="#e0e0e0" stroke="#8c8c8c" stroke-width="0.9"/>
<text x="110.4" y="242.23" font-size="8.6" text-anchor="start" fill="#111" stroke="#111" stroke-width="0.25">MUC1-C</text>
<text x="50.8" y="241.01" font-size="8.8" text-anchor="end" fill="#111" stroke="#111" stroke-width="0.25">25-</text>
<rect x="57.7" y="270.1" width="48.9" height="15.3" fill="#e0e0e0" stroke="#8c8c8c" stroke-width="0.9"/>
<text x="110.4" y="282.03" font-size="8.6" text-anchor="start" fill="#111" stroke="#111" stroke-width="0.25">p-AKT</text>
<text x="50.8" y="280.71" font-size="8.8" text-anchor="end" fill="#111" stroke="#111" stroke-width="0.25">60-</text>
<rect x="57.7" y="287.3" width="48.9" height="14.9" fill="#e0e0e0" stroke="#8c8c8c" stroke-width="0.9"/>
<text x="110.4" y="297.43" font-size="8.6" text-anchor="start" fill="#111" stroke="#111" stroke-width="0.25">AKT</text>
<text x="50.8" y="297.51" font-size="8.8" text-anchor="end" fill="#111" stroke="#111" stroke-width="0.25">60-</text>
<rect x="57.7" y="304.5" width="48.9" height="14.5" fill="#e0e0e0" stroke="#8c8c8c" stroke-width="0.9"/>
<text x="110.4" y="314.23" font-size="8.6" text-anchor="start" fill="#111" stroke="#111" stroke-width="0.25">p-ERK</text>
<text x="55.4" y="314.31" font-size="8.8" text-anchor="end" fill="#111" stroke="#111" stroke-width="0.25">44/42-</text>
<rect x="57.7" y="321" width="48.9" height="15.3" fill="#e0e0e0" stroke="#8c8c8c" stroke-width="0.9"/>
<text x="110.4" y="331.03" font-size="8.6" text-anchor="start" fill="#111" stroke="#111" stroke-width="0.25">ERK</text>
<text x="55.4" y="331.11" font-size="8.8" text-anchor="end" fill="#111" stroke="#111" stroke-width="0.25">44/42-</text>
<rect x="57.7" y="338.1" width="48.9" height="16.1" fill="#e0e0e0" stroke="#8c8c8c" stroke-width="0.9"/>
<text x="110.4" y="348.83" font-size="8.6" text-anchor="start" fill="#111" stroke="#111" stroke-width="0.25">β-actin</text>
<text x="50.8" y="348.91" font-size="8.8" text-anchor="end" fill="#111" stroke="#111" stroke-width="0.25">42-</text>
<rect x="61.2" y="259.1" width="18" height="2.2" fill="#000" stroke="none" stroke-width="1" rx="1.1" opacity="0.5" filter="url(#bl)"/>
<rect x="62" y="237.5" width="16" height="2" fill="#000" stroke="none" stroke-width="1" rx="1" opacity="0.08" filter="url(#bl)"/>
<rect x="83" y="233.4" width="14.2" height="5.6" fill="#000" stroke="none" stroke-width="1" rx="2.8" opacity="1" filter="url(#bl)"/>
<rect x="83" y="239" width="14.2" height="15" fill="#000" stroke="none" stroke-width="1" opacity="0.14" filter="url(#bl)"/>
<rect x="83" y="257.3" width="18.7" height="5" fill="#000" stroke="none" stroke-width="1" rx="2.5" opacity="1" filter="url(#bl)"/>
<rect x="68" y="272.2" width="15.7" height="7.5" fill="#000" stroke="none" stroke-width="1" opacity="0.22" filter="url(#bl)"/>
<rect x="68" y="276.7" width="15.7" height="2.2" fill="#000" stroke="none" stroke-width="1" rx="1.1" opacity="0.35" filter="url(#bl)"/>
<rect x="88.2" y="270.8" width="14.3" height="5.2" fill="#000" stroke="none" stroke-width="1" opacity="0.6" filter="url(#bl)"/>
<rect x="88.2" y="275" width="14.3" height="5" fill="#000" stroke="none" stroke-width="1" rx="2.5" opacity="1" filter="url(#bl)"/>
<rect x="65.7" y="294.2" width="15" height="5.6" fill="#000" stroke="none" stroke-width="1" rx="2.8" opacity="1" filter="url(#bl)"/>
<rect x="83" y="292.7" width="14.2" height="5.6" fill="#000" stroke="none" stroke-width="1" rx="2.8" opacity="1" filter="url(#bl)"/>
<rect x="65.5" y="310.6" width="3" height="1.4" fill="#000" stroke="none" stroke-width="1" rx="0.7" opacity="0.2" filter="url(#bl)"/>
<rect x="74" y="310.5" width="7" height="1.6" fill="#000" stroke="none" stroke-width="1" rx="0.8" opacity="0.28" filter="url(#bl)"/>
<rect x="86" y="308.3" width="15" height="4.4" fill="#000" stroke="none" stroke-width="1" rx="2.2" opacity="1" filter="url(#bl)"/>
<rect x="67.2" y="325.7" width="14.3" height="6.4" fill="#000" stroke="none" stroke-width="1" rx="3.2" opacity="1" filter="url(#bl)"/>
<rect x="83" y="324.9" width="14.2" height="6.4" fill="#000" stroke="none" stroke-width="1" rx="3.2" opacity="1" filter="url(#bl)"/>
<line x1="60" y1="330.5" x2="66.5" y2="328.5" stroke="#222" stroke-width="0.7"/>
<rect x="64.2" y="343" width="17.3" height="7" fill="#000" stroke="none" stroke-width="1" rx="3.5" opacity="1" filter="url(#bl)"/>
<rect x="85.2" y="343.4" width="16.5" height="6.8" fill="#000" stroke="none" stroke-width="1" rx="3.4" opacity="1" filter="url(#bl)"/>
<text x="217.25" y="206" font-size="12.9" font-weight="bold" stroke="#000" stroke-width="0.5" transform="translate(217.25 0) scale(1.03 1) translate(-217.25 0)">E</text>
<text x="289.5" y="206.75" font-size="10.9" text-anchor="middle" fill="#111" stroke="#111" stroke-width="0.2">LNCaP</text>
<text x="210.1" y="286.93" font-size="8.6" text-anchor="middle" fill="#111" stroke="#111" stroke-width="0.25">WT</text>
<text x="210.1" y="331.93" font-size="8.6" text-anchor="middle" fill="#111" stroke="#111" stroke-width="0.25">ER</text>
<rect x="229.8" y="260.5" width="47.4" height="91.1" fill="#9896b2" stroke="#999" stroke-width="0.5"/>
<circle cx="253.5" cy="283.3" r="21.4" fill="none" stroke="#cfcde0" stroke-width="2.2" opacity="0.9"/>
<circle cx="253.5" cy="283.3" r="19.8" fill="url(#gE1)" stroke="none" stroke-width="1"/>
<circle cx="253.5" cy="283.3" r="19.2" fill="none" stroke="#8e8aac" stroke-width="0.8" opacity="0.7"/>
<circle cx="253.5" cy="329.8" r="21.2" fill="none" stroke="#cccbde" stroke-width="2.2" opacity="0.9"/>
<circle cx="253.5" cy="329.8" r="19.6" fill="url(#gE2)" stroke="none" stroke-width="1"/>
<circle cx="253.5" cy="329.8" r="19" fill="none" stroke="#8e8aac" stroke-width="0.8" opacity="0.7"/>
<circle cx="241.16" cy="318.48" r="0.6" fill="#e0e0f0" stroke="none" stroke-width="1" opacity="0.6"/>
<circle cx="258.94" cy="311.86" r="0.6" fill="#e0e0f0" stroke="none" stroke-width="1" opacity="0.6"/>
<circle cx="252.28" cy="311.33" r="0.6" fill="#e0e0f0" stroke="none" stroke-width="1" opacity="0.6"/>
<circle cx="266.92" cy="332.97" r="0.6" fill="#e0e0f0" stroke="none" stroke-width="1" opacity="0.6"/>
<circle cx="268.6" cy="324.89" r="0.6" fill="#e0e0f0" stroke="none" stroke-width="1" opacity="0.6"/>
<circle cx="258.97" cy="326.58" r="0.6" fill="#e0e0f0" stroke="none" stroke-width="1" opacity="0.6"/>
<circle cx="243.76" cy="332.42" r="0.6" fill="#e0e0f0" stroke="none" stroke-width="1" opacity="0.6"/>
<circle cx="238.92" cy="326.39" r="0.6" fill="#e0e0f0" stroke="none" stroke-width="1" opacity="0.6"/>
<circle cx="262.78" cy="331.27" r="0.6" fill="#e0e0f0" stroke="none" stroke-width="1" opacity="0.6"/>
<circle cx="249.97" cy="349.32" r="0.6" fill="#e0e0f0" stroke="none" stroke-width="1" opacity="0.6"/>
<circle cx="254.29" cy="322.55" r="0.6" fill="#e0e0f0" stroke="none" stroke-width="1" opacity="0.6"/>
<circle cx="255.67" cy="323.37" r="0.6" fill="#e0e0f0" stroke="none" stroke-width="1" opacity="0.6"/>
<circle cx="248.23" cy="325.71" r="0.6" fill="#e0e0f0" stroke="none" stroke-width="1" opacity="0.6"/>
<circle cx="272.17" cy="330.71" r="0.6" fill="#e0e0f0" stroke="none" stroke-width="1" opacity="0.6"/>
<circle cx="255.84" cy="339.48" r="0.6" fill="#e0e0f0" stroke="none" stroke-width="1" opacity="0.6"/>
<circle cx="272.07" cy="328.44" r="0.6" fill="#e0e0f0" stroke="none" stroke-width="1" opacity="0.6"/>
<circle cx="248.71" cy="349.52" r="0.6" fill="#e0e0f0" stroke="none" stroke-width="1" opacity="0.6"/>
<circle cx="237.53" cy="326.48" r="0.6" fill="#e0e0f0" stroke="none" stroke-width="1" opacity="0.6"/>
<circle cx="258.94" cy="349.12" r="0.6" fill="#e0e0f0" stroke="none" stroke-width="1" opacity="0.6"/>
<circle cx="246.34" cy="312.19" r="0.6" fill="#e0e0f0" stroke="none" stroke-width="1" opacity="0.6"/>
<circle cx="262.08" cy="323.73" r="0.6" fill="#e0e0f0" stroke="none" stroke-width="1" opacity="0.6"/>
<circle cx="248.26" cy="336.74" r="0.6" fill="#e0e0f0" stroke="none" stroke-width="1" opacity="0.6"/>
<circle cx="256.61" cy="334.55" r="0.6" fill="#e0e0f0" stroke="none" stroke-width="1" opacity="0.6"/>
<circle cx="248.57" cy="345.23" r="0.6" fill="#e0e0f0" stroke="none" stroke-width="1" opacity="0.6"/>
<circle cx="269.96" cy="330.85" r="0.6" fill="#e0e0f0" stroke="none" stroke-width="1" opacity="0.6"/>
<circle cx="247.66" cy="339.98" r="0.6" fill="#e0e0f0" stroke="none" stroke-width="1" opacity="0.6"/>
<circle cx="259.29" cy="317.9" r="0.6" fill="#e0e0f0" stroke="none" stroke-width="1" opacity="0.6"/>
<circle cx="247.93" cy="343.21" r="0.6" fill="#e0e0f0" stroke="none" stroke-width="1" opacity="0.6"/>
<circle cx="252.16" cy="325.92" r="0.6" fill="#e0e0f0" stroke="none" stroke-width="1" opacity="0.6"/>
<circle cx="256.49" cy="330.03" r="0.6" fill="#e0e0f0" stroke="none" stroke-width="1" opacity="0.6"/>
<circle cx="253.48" cy="312.12" r="0.6" fill="#e0e0f0" stroke="none" stroke-width="1" opacity="0.6"/>
<circle cx="271.14" cy="332.51" r="0.6" fill="#e0e0f0" stroke="none" stroke-width="1" opacity="0.6"/>
<circle cx="243.36" cy="341.84" r="0.6" fill="#e0e0f0" stroke="none" stroke-width="1" opacity="0.6"/>
<circle cx="257.82" cy="330.75" r="0.6" fill="#e0e0f0" stroke="none" stroke-width="1" opacity="0.6"/>
<circle cx="261.72" cy="348.23" r="0.6" fill="#e0e0f0" stroke="none" stroke-width="1" opacity="0.6"/>
<circle cx="259.23" cy="346.91" r="0.6" fill="#e0e0f0" stroke="none" stroke-width="1" opacity="0.6"/>
<circle cx="271.05" cy="322.2" r="0.6" fill="#e0e0f0" stroke="none" stroke-width="1" opacity="0.6"/>
<circle cx="246.84" cy="340.38" r="0.6" fill="#e0e0f0" stroke="none" stroke-width="1" opacity="0.6"/>
<circle cx="236.1" cy="327.78" r="0.6" fill="#e0e0f0" stroke="none" stroke-width="1" opacity="0.6"/>
<circle cx="266.97" cy="341.36" r="0.6" fill="#e0e0f0" stroke="none" stroke-width="1" opacity="0.6"/>
<circle cx="258.92" cy="312.77" r="0.6" fill="#e0e0f0" stroke="none" stroke-width="1" opacity="0.6"/>
<circle cx="272.44" cy="334.94" r="0.6" fill="#e0e0f0" stroke="none" stroke-width="1" opacity="0.6"/>
<circle cx="263.31" cy="336.83" r="0.6" fill="#e0e0f0" stroke="none" stroke-width="1" opacity="0.6"/>
<circle cx="238.8" cy="318.21" r="0.6" fill="#e0e0f0" stroke="none" stroke-width="1" opacity="0.6"/>
<circle cx="243.2" cy="346.74" r="0.6" fill="#e0e0f0" stroke="none" stroke-width="1" opacity="0.6"/>
<circle cx="242.77" cy="327.37" r="0.6" fill="#e0e0f0" stroke="none" stroke-width="1" opacity="0.6"/>
<circle cx="250.07" cy="338.19" r="0.6" fill="#e0e0f0" stroke="none" stroke-width="1" opacity="0.6"/>
<circle cx="260.3" cy="334.14" r="0.6" fill="#e0e0f0" stroke="none" stroke-width="1" opacity="0.6"/>
<circle cx="246.05" cy="311.97" r="0.6" fill="#e0e0f0" stroke="none" stroke-width="1" opacity="0.6"/>
<circle cx="255.83" cy="334.24" r="0.6" fill="#e0e0f0" stroke="none" stroke-width="1" opacity="0.6"/>
<circle cx="268.06" cy="329.28" r="0.6" fill="#e0e0f0" stroke="none" stroke-width="1" opacity="0.6"/>
<circle cx="245.41" cy="335.93" r="0.6" fill="#e0e0f0" stroke="none" stroke-width="1" opacity="0.6"/>
<circle cx="238.4" cy="320.38" r="0.6" fill="#e0e0f0" stroke="none" stroke-width="1" opacity="0.6"/>
<circle cx="241.01" cy="334.07" r="0.6" fill="#e0e0f0" stroke="none" stroke-width="1" opacity="0.6"/>
<circle cx="271.48" cy="337.06" r="0.6" fill="#e0e0f0" stroke="none" stroke-width="1" opacity="0.6"/>
<circle cx="267.25" cy="333.37" r="0.6" fill="#e0e0f0" stroke="none" stroke-width="1" opacity="0.6"/>
<circle cx="257.31" cy="324.36" r="0.6" fill="#e0e0f0" stroke="none" stroke-width="1" opacity="0.6"/>
<circle cx="251.26" cy="311.14" r="0.6" fill="#e0e0f0" stroke="none" stroke-width="1" opacity="0.6"/>
<circle cx="241.38" cy="317.53" r="0.6" fill="#e0e0f0" stroke="none" stroke-width="1" opacity="0.6"/>
<circle cx="263.83" cy="338.69" r="0.6" fill="#e0e0f0" stroke="none" stroke-width="1" opacity="0.6"/>
<circle cx="264.37" cy="345.32" r="0.6" fill="#e0e0f0" stroke="none" stroke-width="1" opacity="0.6"/>
<circle cx="249.76" cy="343.43" r="0.6" fill="#e0e0f0" stroke="none" stroke-width="1" opacity="0.6"/>
<circle cx="271.96" cy="330.42" r="0.6" fill="#e0e0f0" stroke="none" stroke-width="1" opacity="0.6"/>
<circle cx="266.82" cy="328.48" r="0.6" fill="#e0e0f0" stroke="none" stroke-width="1" opacity="0.6"/>
<circle cx="236.47" cy="331.77" r="0.6" fill="#e0e0f0" stroke="none" stroke-width="1" opacity="0.6"/>
<circle cx="242.8" cy="331.92" r="0.6" fill="#e0e0f0" stroke="none" stroke-width="1" opacity="0.6"/>
<circle cx="247.2" cy="334.85" r="0.6" fill="#e0e0f0" stroke="none" stroke-width="1" opacity="0.6"/>
<circle cx="239.26" cy="344.38" r="0.6" fill="#e0e0f0" stroke="none" stroke-width="1" opacity="0.6"/>
<circle cx="268.83" cy="326.54" r="0.6" fill="#e0e0f0" stroke="none" stroke-width="1" opacity="0.6"/>
<circle cx="241.86" cy="330.55" r="0.6" fill="#e0e0f0" stroke="none" stroke-width="1" opacity="0.6"/>
<circle cx="262.34" cy="336.04" r="0.6" fill="#e0e0f0" stroke="none" stroke-width="1" opacity="0.6"/>
<circle cx="257.22" cy="312.25" r="0.6" fill="#e0e0f0" stroke="none" stroke-width="1" opacity="0.6"/>
<circle cx="242.08" cy="344.07" r="0.6" fill="#e0e0f0" stroke="none" stroke-width="1" opacity="0.6"/>
<circle cx="256.1" cy="314.04" r="0.6" fill="#e0e0f0" stroke="none" stroke-width="1" opacity="0.6"/>
<circle cx="244.53" cy="315.55" r="0.6" fill="#e0e0f0" stroke="none" stroke-width="1" opacity="0.6"/>
<circle cx="242.52" cy="343.2" r="0.6" fill="#e0e0f0" stroke="none" stroke-width="1" opacity="0.6"/>
<circle cx="250.81" cy="344.18" r="0.6" fill="#e0e0f0" stroke="none" stroke-width="1" opacity="0.6"/>
<circle cx="255.56" cy="314" r="0.6" fill="#e0e0f0" stroke="none" stroke-width="1" opacity="0.6"/>
<circle cx="248.21" cy="349.21" r="0.6" fill="#e0e0f0" stroke="none" stroke-width="1" opacity="0.6"/>
<circle cx="244.52" cy="318.19" r="0.6" fill="#e0e0f0" stroke="none" stroke-width="1" opacity="0.6"/>
<circle cx="268.25" cy="331.58" r="0.6" fill="#e0e0f0" stroke="none" stroke-width="1" opacity="0.6"/>
<circle cx="253.43" cy="346.89" r="0.6" fill="#e0e0f0" stroke="none" stroke-width="1" opacity="0.6"/>
<circle cx="235.91" cy="334.67" r="0.6" fill="#e0e0f0" stroke="none" stroke-width="1" opacity="0.6"/>
<circle cx="242.77" cy="316.22" r="0.6" fill="#e0e0f0" stroke="none" stroke-width="1" opacity="0.6"/>
<circle cx="244.24" cy="343.61" r="0.6" fill="#e0e0f0" stroke="none" stroke-width="1" opacity="0.6"/>
<circle cx="252.11" cy="312.35" r="0.6" fill="#e0e0f0" stroke="none" stroke-width="1" opacity="0.6"/>
<circle cx="242.7" cy="345.35" r="0.6" fill="#e0e0f0" stroke="none" stroke-width="1" opacity="0.6"/>
<circle cx="264.85" cy="318.4" r="0.6" fill="#e0e0f0" stroke="none" stroke-width="1" opacity="0.6"/>
<circle cx="272.84" cy="327.58" r="0.6" fill="#e0e0f0" stroke="none" stroke-width="1" opacity="0.6"/>
<circle cx="239.04" cy="328.85" r="0.6" fill="#e0e0f0" stroke="none" stroke-width="1" opacity="0.6"/>
<circle cx="262.7" cy="346.31" r="0.6" fill="#e0e0f0" stroke="none" stroke-width="1" opacity="0.6"/>
<circle cx="266.26" cy="325.2" r="0.6" fill="#e0e0f0" stroke="none" stroke-width="1" opacity="0.6"/>
<circle cx="247.4" cy="314.67" r="0.6" fill="#e0e0f0" stroke="none" stroke-width="1" opacity="0.6"/>
<circle cx="252.48" cy="322.27" r="0.6" fill="#e0e0f0" stroke="none" stroke-width="1" opacity="0.6"/>
<circle cx="256.39" cy="315.53" r="0.6" fill="#e0e0f0" stroke="none" stroke-width="1" opacity="0.6"/>
<circle cx="246.93" cy="319.31" r="0.6" fill="#e0e0f0" stroke="none" stroke-width="1" opacity="0.6"/>
<circle cx="240.95" cy="318.15" r="0.6" fill="#e0e0f0" stroke="none" stroke-width="1" opacity="0.6"/>
<circle cx="242.42" cy="317.64" r="0.6" fill="#e0e0f0" stroke="none" stroke-width="1" opacity="0.6"/>
<circle cx="261.38" cy="331.88" r="0.6" fill="#e0e0f0" stroke="none" stroke-width="1" opacity="0.6"/>
<circle cx="238.47" cy="336.34" r="0.6" fill="#e0e0f0" stroke="none" stroke-width="1" opacity="0.6"/>
<circle cx="256.7" cy="346.75" r="0.6" fill="#e0e0f0" stroke="none" stroke-width="1" opacity="0.6"/>
<circle cx="250.72" cy="327.5" r="0.6" fill="#e0e0f0" stroke="none" stroke-width="1" opacity="0.6"/>
<circle cx="244.14" cy="332.19" r="0.6" fill="#e0e0f0" stroke="none" stroke-width="1" opacity="0.6"/>
<circle cx="260.39" cy="332.94" r="0.6" fill="#e0e0f0" stroke="none" stroke-width="1" opacity="0.6"/>
<circle cx="250" cy="338.27" r="0.6" fill="#e0e0f0" stroke="none" stroke-width="1" opacity="0.6"/>
<circle cx="254.82" cy="334.04" r="0.6" fill="#e0e0f0" stroke="none" stroke-width="1" opacity="0.6"/>
<circle cx="241.46" cy="333.17" r="0.6" fill="#e0e0f0" stroke="none" stroke-width="1" opacity="0.6"/>
<circle cx="241.77" cy="320.57" r="0.6" fill="#e0e0f0" stroke="none" stroke-width="1" opacity="0.6"/>
<circle cx="254.95" cy="349.45" r="0.6" fill="#e0e0f0" stroke="none" stroke-width="1" opacity="0.6"/>
<circle cx="266.23" cy="330.55" r="0.6" fill="#e0e0f0" stroke="none" stroke-width="1" opacity="0.6"/>
<circle cx="251.22" cy="343.1" r="0.6" fill="#e0e0f0" stroke="none" stroke-width="1" opacity="0.6"/>
<circle cx="267.17" cy="342.57" r="0.6" fill="#e0e0f0" stroke="none" stroke-width="1" opacity="0.6"/>
<circle cx="250.83" cy="333.2" r="0.6" fill="#e0e0f0" stroke="none" stroke-width="1" opacity="0.6"/>
<circle cx="248.84" cy="326.47" r="0.6" fill="#e0e0f0" stroke="none" stroke-width="1" opacity="0.6"/>
<circle cx="242.32" cy="327.23" r="0.6" fill="#e0e0f0" stroke="none" stroke-width="1" opacity="0.6"/>
<circle cx="236.4" cy="320.97" r="0.6" fill="#e0e0f0" stroke="none" stroke-width="1" opacity="0.6"/>
<circle cx="258.9" cy="318.73" r="0.6" fill="#e0e0f0" stroke="none" stroke-width="1" opacity="0.6"/>
<circle cx="259.68" cy="315.71" r="0.6" fill="#e0e0f0" stroke="none" stroke-width="1" opacity="0.6"/>
<circle cx="248.36" cy="336.01" r="0.6" fill="#e0e0f0" stroke="none" stroke-width="1" opacity="0.6"/>
<circle cx="241.13" cy="321.99" r="0.6" fill="#e0e0f0" stroke="none" stroke-width="1" opacity="0.6"/>
<line x1="303.6" y1="256.5" x2="303.6" y2="352.3" stroke="#8a8a8a" stroke-width="0.9"/>
<line x1="303.6" y1="352.3" x2="366.7" y2="352.3" stroke="#8a8a8a" stroke-width="0.9"/>
<line x1="301.2" y1="352.3" x2="303.6" y2="352.3" stroke="#8a8a8a" stroke-width="0.9"/>
<text x="300.6" y="354.42" font-size="7.2" text-anchor="end" fill="#333" stroke="#333" stroke-width="0.16">0</text>
<line x1="301.2" y1="328.35" x2="303.6" y2="328.35" stroke="#8a8a8a" stroke-width="0.9"/>
<text x="300.6" y="330.47" font-size="7.2" text-anchor="end" fill="#333" stroke="#333" stroke-width="0.16">1</text>
<line x1="301.2" y1="304.4" x2="303.6" y2="304.4" stroke="#8a8a8a" stroke-width="0.9"/>
<text x="300.6" y="306.52" font-size="7.2" text-anchor="end" fill="#333" stroke="#333" stroke-width="0.16">2</text>
<line x1="301.2" y1="280.45" x2="303.6" y2="280.45" stroke="#8a8a8a" stroke-width="0.9"/>
<text x="300.6" y="282.57" font-size="7.2" text-anchor="end" fill="#333" stroke="#333" stroke-width="0.16">3</text>
<line x1="301.2" y1="256.5" x2="303.6" y2="256.5" stroke="#8a8a8a" stroke-width="0.9"/>
<text x="300.6" y="258.62" font-size="7.2" text-anchor="end" fill="#333" stroke="#333" stroke-width="0.16">4</text>
<rect x="317" y="329.05" width="10.9" height="23.25" fill="#ee9ea2" stroke="#e04850" stroke-width="1.4"/>
<line x1="322.45" y1="352.3" x2="322.45" y2="354.5" stroke="#8a8a8a" stroke-width="0.8"/>
<circle cx="322.45" cy="328.35" r="0.8" fill="#fff" stroke="#e04850" stroke-width="0.4"/>
<circle cx="322.45" cy="328.35" r="0.8" fill="#fff" stroke="#e04850" stroke-width="0.4"/>
<circle cx="322.45" cy="328.35" r="0.8" fill="#fff" stroke="#e04850" stroke-width="0.4"/>
<rect x="342.2" y="272.77" width="11.4" height="79.53" fill="#d83a3e" stroke="#dc0a14" stroke-width="1.4"/>
<line x1="347.9" y1="352.3" x2="347.9" y2="354.5" stroke="#8a8a8a" stroke-width="0.8"/>
<line x1="347.9" y1="261.29" x2="347.9" y2="272.07" stroke="#dc0a14" stroke-width="0.9"/>
<line x1="345.1" y1="261.29" x2="350.7" y2="261.29" stroke="#dc0a14" stroke-width="0.9"/>
<line x1="347.9" y1="272.07" x2="347.9" y2="282.85" stroke="#fff" stroke-width="0.6" opacity="0.6"/>
<circle cx="347.9" cy="261.29" r="0.8" fill="#fff" stroke="#dc0a14" stroke-width="0.4"/>
<circle cx="347.9" cy="275.66" r="0.8" fill="#fff" stroke="#dc0a14" stroke-width="0.4"/>
<circle cx="347.9" cy="280.45" r="0.8" fill="#fff" stroke="#dc0a14" stroke-width="0.4"/>
<path d="M322.1 324 L322.1 250.1 L347.9 250.1 L347.9 255" fill="none" stroke="#666" stroke-width="0.8"/>
<path d="M331.1 243.75 L331.72 245.35 L333.43 245.44 L332.1 246.52 L332.54 248.18 L331.1 247.25 L329.66 248.18 L330.1 246.52 L328.77 245.44 L330.48 245.35Z" fill="#111" stroke="#111" stroke-width="0.35"/>
<path d="M336.2 243.75 L336.82 245.35 L338.53 245.44 L337.2 246.52 L337.64 248.18 L336.2 247.25 L334.76 248.18 L335.2 246.52 L333.87 245.44 L335.58 245.35Z" fill="#111" stroke="#111" stroke-width="0.35"/>
<path d="M341.3 243.75 L341.92 245.35 L343.63 245.44 L342.3 246.52 L342.74 248.18 L341.3 247.25 L339.86 248.18 L340.3 246.52 L338.97 245.44 L340.68 245.35Z" fill="#111" stroke="#111" stroke-width="0.35"/>
<text x="322.5" y="363.23" font-size="7.5" text-anchor="middle" fill="#222" stroke="#222" stroke-width="0.18">WT</text>
<text x="347.9" y="363.23" font-size="7.5" text-anchor="middle" fill="#222" stroke="#222" stroke-width="0.18">ER</text>
<text x="291.2" y="304" font-size="8.3" text-anchor="middle" fill="#333" stroke="#333" stroke-width="0.25" transform="rotate(-90 291.2 304)">Relative colony formation</text>
<text x="401.05" y="206" font-size="12.9" font-weight="bold" stroke="#000" stroke-width="0.5" transform="translate(401.05 0) scale(1.03 1) translate(-401.05 0)">F</text>
<text x="516.2" y="206.75" font-size="10.9" text-anchor="middle" fill="#111" stroke="#111" stroke-width="0.2">LNCaP</text>
<text x="413.4" y="266.03" font-size="8.3" text-anchor="middle" fill="#111" stroke="#111" stroke-width="0.25">WT</text>
<text x="414" y="340.03" font-size="8.3" text-anchor="middle" fill="#111" stroke="#111" stroke-width="0.25">ER</text>
<rect x="430.4" y="229.7" width="95.8" height="71.6" fill="#d4d4d4" stroke="none" stroke-width="1"/>
<g opacity="1" filter="url(#bl2)"><circle cx="460.5" cy="277" r="1.2" fill="#4a4a4a"/><circle cx="462.5" cy="277.5" r="1.3" fill="#4a4a4a"/><circle cx="463.8" cy="276.8" r="0.9" fill="#4a4a4a"/></g>
<g opacity="1" filter="url(#bl2)"><circle cx="487" cy="257" r="1" fill="#555"/></g>
<g opacity="1" filter="url(#bl2)"><circle cx="505" cy="276" r="0.9" fill="#444"/></g>
<g opacity="1" filter="url(#bl2)"><circle cx="524.5" cy="234.5" r="0.9" fill="#555"/><circle cx="524.5" cy="236.8" r="1" fill="#555"/></g>
<circle cx="456" cy="245" r="0.55" fill="#555" stroke="none" stroke-width="1"/>
<circle cx="470" cy="238" r="0.55" fill="#555" stroke="none" stroke-width="1"/>
<circle cx="478" cy="262" r="0.55" fill="#555" stroke="none" stroke-width="1"/>
<circle cx="500" cy="248" r="0.55" fill="#555" stroke="none" stroke-width="1"/>
<circle cx="445" cy="263" r="0.55" fill="#555" stroke="none" stroke-width="1"/>
<circle cx="503" cy="290" r="0.55" fill="#555" stroke="none" stroke-width="1"/>
<circle cx="436" cy="300" r="0.55" fill="#555" stroke="none" stroke-width="1"/>
<circle cx="488" cy="285" r="0.55" fill="#555" stroke="none" stroke-width="1"/>
<line x1="517.2" y1="296.3" x2="523.2" y2="296.3" stroke="#444" stroke-width="0.5"/>
<text x="520.2" y="293.8" font-size="2.2" text-anchor="middle" fill="#444">100μM</text>
<rect x="430.4" y="229.7" width="95.8" height="71.6" fill="none" stroke="#e2a6cc" stroke-width="1"/>
<rect x="430.4" y="302" width="95.8" height="70.8" fill="#d0d0d0" stroke="none" stroke-width="1"/>
<g opacity="1" filter="url(#bl2)"><circle cx="520" cy="335.2" r="3.6" fill="#8e8e8e"/><circle cx="518.5" cy="336.2" r="2.4" fill="#8e8e8e"/></g>
<path d="M462.56 329.39 Q463.28 330.3 464.04 332.04 Q464.8 333.79 463.17 334.87 Q461.55 335.94 459.63 335.85 Q457.7 335.75 456.53 334.66 Q455.36 333.57 453.19 332.91 Q451.02 332.25 450.98 330.29 Q450.95 328.33 452.66 327.18 Q454.37 326.03 456.03 325.38 Q457.69 324.73 459.19 325.51 Q460.7 326.28 461.27 327.38 Q461.84 328.48 462.56 329.39 Z" fill="#707070" stroke="#383838" stroke-width="0.7" filter="url(#bl2)"/>
<path d="M498.73 336.54 Q499.2 338.6 498.91 340.81 Q498.62 343.02 496.68 343.14 Q494.74 343.27 493.35 345.34 Q491.96 347.41 491.09 344.97 Q490.22 342.52 488.71 341.6 Q487.2 340.68 488.25 338.98 Q489.3 337.27 489.06 334.99 Q488.83 332.71 490.62 333.19 Q492.42 333.66 493.99 332.7 Q495.57 331.73 496.91 333.1 Q498.26 334.47 498.73 336.54 Z" fill="#707070" stroke="#383838" stroke-width="0.7" filter="url(#bl2)"/>
<circle cx="440" cy="340" r="0.55" fill="#555" stroke="none" stroke-width="1"/>
<circle cx="505" cy="318" r="0.55" fill="#555" stroke="none" stroke-width="1"/>
<circle cx="500" cy="360" r="0.55" fill="#555" stroke="none" stroke-width="1"/>
<circle cx="470" cy="312" r="0.55" fill="#555" stroke="none" stroke-width="1"/>
<circle cx="506" cy="355" r="0.55" fill="#555" stroke="none" stroke-width="1"/>
<circle cx="474" cy="307" r="0.55" fill="#555" stroke="none" stroke-width="1"/>
<line x1="517.2" y1="367.8" x2="523.2" y2="367.8" stroke="#444" stroke-width="0.5"/>
<text x="520.2" y="365.3" font-size="2.2" text-anchor="middle" fill="#444">100μM</text>
<rect x="430.4" y="302" width="95.8" height="70.8" fill="none" stroke="#d8607e" stroke-width="1"/>
<line x1="561" y1="254.2" x2="561" y2="350.7" stroke="#8a8a8a" stroke-width="0.9"/>
<line x1="561" y1="350.7" x2="625.7" y2="350.7" stroke="#8a8a8a" stroke-width="0.9"/>
<line x1="558.6" y1="350.7" x2="561" y2="350.7" stroke="#8a8a8a" stroke-width="0.9"/>
<text x="558" y="352.97" font-size="7.6" text-anchor="end" fill="#333" stroke="#333" stroke-width="0.19">0</text>
<line x1="558.6" y1="331.4" x2="561" y2="331.4" stroke="#8a8a8a" stroke-width="0.9"/>
<text x="558" y="333.67" font-size="7.6" text-anchor="end" fill="#333" stroke="#333" stroke-width="0.19">5</text>
<line x1="558.6" y1="312.1" x2="561" y2="312.1" stroke="#8a8a8a" stroke-width="0.9"/>
<text x="558" y="314.37" font-size="7.6" text-anchor="end" fill="#333" stroke="#333" stroke-width="0.19">10</text>
<line x1="558.6" y1="292.8" x2="561" y2="292.8" stroke="#8a8a8a" stroke-width="0.9"/>
<text x="558" y="295.07" font-size="7.6" text-anchor="end" fill="#333" stroke="#333" stroke-width="0.19">15</text>
<line x1="558.6" y1="273.5" x2="561" y2="273.5" stroke="#8a8a8a" stroke-width="0.9"/>
<text x="558" y="275.77" font-size="7.6" text-anchor="end" fill="#333" stroke="#333" stroke-width="0.19">20</text>
<line x1="558.6" y1="254.2" x2="561" y2="254.2" stroke="#8a8a8a" stroke-width="0.9"/>
<text x="558" y="256.47" font-size="7.6" text-anchor="end" fill="#333" stroke="#333" stroke-width="0.19">25</text>
<rect x="569.4" y="324.38" width="14.1" height="26.32" fill="#ee9ea2" stroke="#e04850" stroke-width="1.4"/>
<line x1="576.45" y1="350.7" x2="576.45" y2="352.9" stroke="#8a8a8a" stroke-width="0.8"/>
<line x1="576.45" y1="315.19" x2="576.45" y2="323.68" stroke="#e04850" stroke-width="0.9"/>
<line x1="573.65" y1="315.19" x2="579.25" y2="315.19" stroke="#e04850" stroke-width="0.9"/>
<line x1="576.45" y1="323.68" x2="576.45" y2="332.17" stroke="#fff" stroke-width="0.6" opacity="0.6"/>
<circle cx="576.45" cy="331.4" r="0.8" fill="#fff" stroke="#e04850" stroke-width="0.4"/>
<circle cx="576.45" cy="323.68" r="0.8" fill="#fff" stroke="#e04850" stroke-width="0.4"/>
<circle cx="576.45" cy="317.89" r="0.8" fill="#fff" stroke="#e04850" stroke-width="0.4"/>
<rect x="600.5" y="275.74" width="15.2" height="74.96" fill="#d83a3e" stroke="#dc0a14" stroke-width="1.4"/>
<line x1="608.1" y1="350.7" x2="608.1" y2="352.9" stroke="#8a8a8a" stroke-width="0.8"/>
<line x1="608.1" y1="262.31" x2="608.1" y2="275.04" stroke="#dc0a14" stroke-width="0.9"/>
<line x1="605.3" y1="262.31" x2="610.9" y2="262.31" stroke="#dc0a14" stroke-width="0.9"/>
<line x1="608.1" y1="275.04" x2="608.1" y2="287.78" stroke="#fff" stroke-width="0.6" opacity="0.6"/>
<circle cx="608.1" cy="265.78" r="0.8" fill="#fff" stroke="#dc0a14" stroke-width="0.4"/>
<circle cx="608.1" cy="277.36" r="0.8" fill="#fff" stroke="#dc0a14" stroke-width="0.4"/>
<circle cx="608.1" cy="287.01" r="0.8" fill="#fff" stroke="#dc0a14" stroke-width="0.4"/>
<path d="M576.3 323 L576.3 250.4 L608.5 250.4 L608.5 261" fill="none" stroke="#666" stroke-width="0.8"/>
<path d="M590.25 242.95 L590.87 244.55 L592.58 244.64 L591.25 245.72 L591.69 247.38 L590.25 246.45 L588.81 247.38 L589.25 245.72 L587.92 244.64 L589.63 244.55Z" fill="#111" stroke="#111" stroke-width="0.35"/>
<path d="M595.35 242.95 L595.97 244.55 L597.68 244.64 L596.35 245.72 L596.79 247.38 L595.35 246.45 L593.91 247.38 L594.35 245.72 L593.02 244.64 L594.73 244.55Z" fill="#111" stroke="#111" stroke-width="0.35"/>
<text x="576.5" y="362.47" font-size="7.6" text-anchor="middle" fill="#222" stroke="#222" stroke-width="0.19">WT</text>
<text x="608" y="362.47" font-size="7.6" text-anchor="middle" fill="#222" stroke="#222" stroke-width="0.19">ER</text>
<text x="544" y="304.7" font-size="8.2" text-anchor="middle" fill="#333" stroke="#333" stroke-width="0.24" transform="rotate(-90 544 304.7)">Tumorsphere formation</text>
<text x="2.25" y="392.1" font-size="12.9" font-weight="bold" stroke="#000" stroke-width="0.5" transform="translate(2.25 0) scale(1.03 1) translate(-2.25 0)">G</text>
<text x="85.5" y="386.55" font-size="10.9" text-anchor="middle" fill="#111" stroke="#111" stroke-width="0.2">LNCaP-ER/</text>
<text x="85.5" y="399.65" font-size="10.9" text-anchor="middle" fill="#111" stroke="#111" stroke-width="0.2">tet-MUC1shRNA</text>
<rect x="65.2" y="410.2" width="39.2" height="14.2" fill="#fff" stroke="#aaa" stroke-width="0.8"/>
<line x1="85" y1="410.2" x2="85" y2="424.4" stroke="#aaa" stroke-width="0.8"/>
<rect x="74.2" y="417.3" width="3.3" height="1.4" fill="#111" stroke="none" stroke-width="1"/>
<rect x="92.1" y="416.9" width="5.7" height="1.2" fill="#111" stroke="none" stroke-width="1"/>
<rect x="94.35" y="414.9" width="1.2" height="5.2" fill="#111" stroke="none" stroke-width="1"/>
<text x="42" y="420.73" font-size="8.3" text-anchor="start" fill="#111" stroke="#111" stroke-width="0.25">kDa</text>
<text x="106.9" y="420.73" font-size="8.3" text-anchor="start" fill="#111" stroke="#111" stroke-width="0.25">DOX</text>
<rect x="62.1" y="426.3" width="44.4" height="28.3" fill="#e0e0e0" stroke="#8c8c8c" stroke-width="0.9"/>
<rect x="62.1" y="456.5" width="44.4" height="14.2" fill="#e0e0e0" stroke="#8c8c8c" stroke-width="0.9"/>
<text x="56.4" y="437.93" font-size="8.3" text-anchor="end" fill="#111" stroke="#111" stroke-width="0.25">25-</text>
<text x="56.4" y="465.03" font-size="8.3" text-anchor="end" fill="#111" stroke="#111" stroke-width="0.25">42-</text>
<text x="109.8" y="439.03" font-size="8.6" text-anchor="start" fill="#111" stroke="#111" stroke-width="0.25">MUC1-C</text>
<text x="109.8" y="466.13" font-size="8.6" text-anchor="start" fill="#111" stroke="#111" stroke-width="0.25">β-actin</text>
<path d="M70.0 428.8 L82.4 429.6 L82.0 433.0 L75.0 434.6 L71.5 433.0 Z" fill="#000" stroke="none" stroke-width="1" filter="url(#bl)"/>
<rect x="70.5" y="434" width="11.5" height="13" fill="#000" stroke="none" stroke-width="1" opacity="0.13" filter="url(#bl)"/>
<rect x="69.9" y="449.2" width="14.2" height="2.4" fill="#000" stroke="none" stroke-width="1" rx="1.2" opacity="0.8" filter="url(#bl)"/>
<rect x="69.5" y="460.9" width="16" height="7" fill="#000" stroke="none" stroke-width="1" rx="3.5" opacity="1" filter="url(#bl)"/>
<rect x="83" y="460.3" width="15.8" height="6.6" fill="#000" stroke="none" stroke-width="1" rx="3.3" opacity="1" filter="url(#bl)"/>
<rect x="65.2" y="472.3" width="38.5" height="14.2" fill="#fff" stroke="#aaa" stroke-width="0.8"/>
<line x1="84.8" y1="472.3" x2="84.8" y2="486.5" stroke="#aaa" stroke-width="0.8"/>
<rect x="74" y="478.9" width="3" height="1.4" fill="#111" stroke="none" stroke-width="1"/>
<rect x="91.7" y="479" width="5.3" height="1.2" fill="#111" stroke="none" stroke-width="1"/>
<rect x="93.75" y="477" width="1.2" height="5.2" fill="#111" stroke="none" stroke-width="1"/>
<text x="39.7" y="482.13" font-size="8.3" text-anchor="start" fill="#111" stroke="#111" stroke-width="0.25">kDa</text>
<text x="106.6" y="482.13" font-size="8.3" text-anchor="start" fill="#111" stroke="#111" stroke-width="0.25">DOX</text>
<rect x="62.1" y="487.7" width="44.2" height="13.8" fill="#e0e0e0" stroke="#8c8c8c" stroke-width="0.9"/>
<text x="109.8" y="500.93" font-size="8.6" text-anchor="start" fill="#111" stroke="#111" stroke-width="0.25">p-AKT</text>
<text x="56.6" y="499.93" font-size="8.3" text-anchor="end" fill="#111" stroke="#111" stroke-width="0.25">60-</text>
<rect x="62.1" y="503.4" width="44.2" height="14.6" fill="#e0e0e0" stroke="#8c8c8c" stroke-width="0.9"/>
<text x="109.8" y="516.43" font-size="8.6" text-anchor="start" fill="#111" stroke="#111" stroke-width="0.25">AKT</text>
<text x="56.6" y="517.13" font-size="8.3" text-anchor="end" fill="#111" stroke="#111" stroke-width="0.25">60-</text>
<rect x="62.1" y="519.8" width="44.2" height="14.6" fill="#e0e0e0" stroke="#8c8c8c" stroke-width="0.9"/>
<text x="109.8" y="532.63" font-size="8.6" text-anchor="start" fill="#111" stroke="#111" stroke-width="0.25">p-ERK</text>
<text x="60.6" y="532.38" font-size="7.9" text-anchor="end" fill="#111" stroke="#111" stroke-width="0.22">44/42-</text>
<rect x="62.1" y="536.3" width="44.2" height="14.4" fill="#e0e0e0" stroke="#8c8c8c" stroke-width="0.9"/>
<text x="109.8" y="547.63" font-size="8.6" text-anchor="start" fill="#111" stroke="#111" stroke-width="0.25">ERK</text>
<text x="60.6" y="547.38" font-size="7.9" text-anchor="end" fill="#111" stroke="#111" stroke-width="0.22">44/42-</text>
<rect x="69.1" y="492.1" width="12.9" height="3" fill="#000" stroke="none" stroke-width="1" rx="1.5" opacity="0.6" filter="url(#bl)"/>
<rect x="85.8" y="491.9" width="13.8" height="2.4" fill="#000" stroke="none" stroke-width="1" rx="1.2" opacity="0.32" filter="url(#bl)"/>
<rect x="70" y="508.9" width="13.7" height="4.6" fill="#000" stroke="none" stroke-width="1" rx="2.3" opacity="1" filter="url(#bl)"/>
<rect x="85" y="508.9" width="14.1" height="4.6" fill="#000" stroke="none" stroke-width="1" rx="2.3" opacity="1" filter="url(#bl)"/>
<rect x="67" y="525.3" width="15" height="3.4" fill="#000" stroke="none" stroke-width="1" rx="1.7" opacity="0.5" filter="url(#bl)"/>
<rect x="67" y="530.6" width="13" height="1.4" fill="#000" stroke="none" stroke-width="1" rx="0.7" opacity="0.15" filter="url(#bl)"/>
<rect x="69.1" y="540.1" width="15.4" height="5.6" fill="#000" stroke="none" stroke-width="1" rx="2.8" opacity="1" filter="url(#bl)"/>
<rect x="85" y="540.1" width="16.3" height="5.6" fill="#000" stroke="none" stroke-width="1" rx="2.8" opacity="1" filter="url(#bl)"/>
<text x="217.65" y="391.7" font-size="12.9" font-weight="bold" stroke="#000" stroke-width="0.5" transform="translate(217.65 0) scale(1.03 1) translate(-217.65 0)">H</text>
<text x="289.4" y="384.75" font-size="10.9" text-anchor="middle" fill="#111" stroke="#111" stroke-width="0.2">LNCaP-ER/</text>
<text x="289.4" y="396.95" font-size="10.9" text-anchor="middle" fill="#111" stroke="#111" stroke-width="0.2">tet-MUC1shRNA</text>
<text x="209.4" y="455.25" font-size="8.3" text-anchor="middle" fill="#111" stroke="#111" stroke-width="0.25">DOX</text>
<rect x="199.2" y="460.1" width="20.5" height="91.7" fill="#fff" stroke="#aaa" stroke-width="0.8"/>
<line x1="199.2" y1="506.3" x2="219.7" y2="506.3" stroke="#aaa" stroke-width="0.8"/>
<rect x="204.9" y="481.9" width="9.2" height="2.4" fill="#111" stroke="none" stroke-width="1"/>
<rect x="204.2" y="526.85" width="10.6" height="2.3" fill="#111" stroke="none" stroke-width="1"/>
<rect x="208.35" y="522.7" width="2.3" height="10.6" fill="#111" stroke="none" stroke-width="1"/>
<rect x="223.9" y="460.1" width="46.8" height="91.7" fill="#d8d8dc" stroke="#999" stroke-width="0.5"/>
<circle cx="247" cy="480.8" r="21.4" fill="none" stroke="#c6c6cc" stroke-width="2.2" opacity="0.9"/>
<circle cx="247" cy="480.8" r="19.8" fill="url(#gH)" stroke="none" stroke-width="1"/>
<circle cx="247" cy="480.8" r="19.2" fill="none" stroke="#ececf0" stroke-width="0.8" opacity="0.7"/>
<circle cx="247.6" cy="528.6" r="21.2" fill="none" stroke="#c6c6cc" stroke-width="2.2" opacity="0.9"/>
<circle cx="247.6" cy="528.6" r="19.6" fill="url(#gH)" stroke="none" stroke-width="1"/>
<circle cx="247.6" cy="528.6" r="19" fill="none" stroke="#ececf0" stroke-width="0.8" opacity="0.7"/>
<circle cx="243.91" cy="465.26" r="0.43" fill="#3a3ae0" stroke="none" stroke-width="1" opacity="0.78"/>
<circle cx="234.12" cy="468.29" r="0.25" fill="#3a3ae0" stroke="none" stroke-width="1" opacity="0.88"/>
<circle cx="244.85" cy="463.17" r="0.39" fill="#3a3ae0" stroke="none" stroke-width="1" opacity="0.88"/>
<circle cx="251.94" cy="474.13" r="0.44" fill="#3a3ae0" stroke="none" stroke-width="1" opacity="0.57"/>
<circle cx="262.03" cy="474.83" r="0.47" fill="#3a3ae0" stroke="none" stroke-width="1" opacity="0.8"/>
<circle cx="235.52" cy="469.76" r="0.48" fill="#3a3ae0" stroke="none" stroke-width="1" opacity="0.77"/>
<circle cx="247.32" cy="468.29" r="0.39" fill="#3a3ae0" stroke="none" stroke-width="1" opacity="0.82"/>
<circle cx="262.61" cy="488.84" r="0.46" fill="#3a3ae0" stroke="none" stroke-width="1" opacity="0.91"/>
<circle cx="253.12" cy="464.18" r="0.53" fill="#3a3ae0" stroke="none" stroke-width="1" opacity="0.9"/>
<circle cx="237.15" cy="468.82" r="0.29" fill="#3a3ae0" stroke="none" stroke-width="1" opacity="0.6"/>
<circle cx="257.43" cy="491.1" r="0.34" fill="#3a3ae0" stroke="none" stroke-width="1" opacity="0.73"/>
<circle cx="252.38" cy="464.63" r="0.36" fill="#3a3ae0" stroke="none" stroke-width="1" opacity="0.76"/>
<circle cx="259.58" cy="473" r="0.53" fill="#3a3ae0" stroke="none" stroke-width="1" opacity="0.89"/>
<circle cx="257.37" cy="493.06" r="0.45" fill="#3a3ae0" stroke="none" stroke-width="1" opacity="0.57"/>
<circle cx="258.02" cy="485.62" r="0.42" fill="#3a3ae0" stroke="none" stroke-width="1" opacity="0.82"/>
<circle cx="242.06" cy="464.25" r="0.5" fill="#3a3ae0" stroke="none" stroke-width="1" opacity="0.76"/>
<circle cx="246.59" cy="467.79" r="0.55" fill="#3a3ae0" stroke="none" stroke-width="1" opacity="0.54"/>
<circle cx="263.03" cy="484.08" r="0.37" fill="#3a3ae0" stroke="none" stroke-width="1" opacity="0.57"/>
<circle cx="246.99" cy="462.77" r="0.26" fill="#3a3ae0" stroke="none" stroke-width="1" opacity="0.78"/>
<circle cx="237.55" cy="472.86" r="0.47" fill="#3a3ae0" stroke="none" stroke-width="1" opacity="0.65"/>
<circle cx="260.31" cy="487.78" r="0.55" fill="#3a3ae0" stroke="none" stroke-width="1" opacity="0.64"/>
<circle cx="234.37" cy="467.5" r="0.43" fill="#3a3ae0" stroke="none" stroke-width="1" opacity="0.51"/>
<circle cx="241.98" cy="466.54" r="0.3" fill="#3a3ae0" stroke="none" stroke-width="1" opacity="0.52"/>
<circle cx="261.86" cy="487.74" r="0.34" fill="#3a3ae0" stroke="none" stroke-width="1" opacity="0.93"/>
<circle cx="260.95" cy="489.13" r="0.41" fill="#3a3ae0" stroke="none" stroke-width="1" opacity="0.79"/>
<circle cx="261.21" cy="472.75" r="0.42" fill="#3a3ae0" stroke="none" stroke-width="1" opacity="0.78"/>
<circle cx="258.86" cy="490.63" r="0.47" fill="#3a3ae0" stroke="none" stroke-width="1" opacity="0.61"/>
<circle cx="247.46" cy="462.16" r="0.54" fill="#3a3ae0" stroke="none" stroke-width="1" opacity="0.73"/>
<circle cx="259.04" cy="471.05" r="0.42" fill="#3a3ae0" stroke="none" stroke-width="1" opacity="0.51"/>
<circle cx="263.76" cy="472.81" r="0.44" fill="#3a3ae0" stroke="none" stroke-width="1" opacity="0.53"/>
<circle cx="259.95" cy="475.26" r="0.36" fill="#3a3ae0" stroke="none" stroke-width="1" opacity="0.82"/>
<circle cx="264.78" cy="480.5" r="0.26" fill="#3a3ae0" stroke="none" stroke-width="1" opacity="0.53"/>
<circle cx="262.98" cy="476.99" r="0.39" fill="#3a3ae0" stroke="none" stroke-width="1" opacity="0.77"/>
<circle cx="248.66" cy="462.63" r="0.36" fill="#3a3ae0" stroke="none" stroke-width="1" opacity="0.64"/>
<circle cx="251.3" cy="464.8" r="0.36" fill="#3a3ae0" stroke="none" stroke-width="1" opacity="0.85"/>
<circle cx="233.1" cy="470.54" r="0.42" fill="#3a3ae0" stroke="none" stroke-width="1" opacity="0.83"/>
<circle cx="247.99" cy="463.02" r="0.32" fill="#3a3ae0" stroke="none" stroke-width="1" opacity="0.58"/>
<circle cx="253.22" cy="469.26" r="0.46" fill="#3a3ae0" stroke="none" stroke-width="1" opacity="0.55"/>
<circle cx="248.54" cy="465.12" r="0.38" fill="#3a3ae0" stroke="none" stroke-width="1" opacity="0.88"/>
<circle cx="241.26" cy="468.51" r="0.35" fill="#3a3ae0" stroke="none" stroke-width="1" opacity="0.79"/>
<circle cx="261.61" cy="488.73" r="0.29" fill="#3a3ae0" stroke="none" stroke-width="1" opacity="0.74"/>
<circle cx="240.6" cy="463.86" r="0.49" fill="#3a3ae0" stroke="none" stroke-width="1" opacity="0.88"/>
<circle cx="240.3" cy="464.35" r="0.44" fill="#3a3ae0" stroke="none" stroke-width="1" opacity="0.86"/>
<circle cx="249.33" cy="467.92" r="0.29" fill="#3a3ae0" stroke="none" stroke-width="1" opacity="0.63"/>
<circle cx="265.12" cy="484.07" r="0.38" fill="#3a3ae0" stroke="none" stroke-width="1" opacity="0.69"/>
<circle cx="253.24" cy="466.2" r="0.53" fill="#3a3ae0" stroke="none" stroke-width="1" opacity="0.57"/>
<circle cx="236.29" cy="474.12" r="0.55" fill="#3a3ae0" stroke="none" stroke-width="1" opacity="0.7"/>
<circle cx="259.34" cy="491.75" r="0.53" fill="#3a3ae0" stroke="none" stroke-width="1" opacity="0.6"/>
<circle cx="263.35" cy="480.95" r="0.41" fill="#3a3ae0" stroke="none" stroke-width="1" opacity="0.63"/>
<circle cx="249.42" cy="466.24" r="0.32" fill="#3a3ae0" stroke="none" stroke-width="1" opacity="0.53"/>
<circle cx="261.98" cy="471.83" r="0.26" fill="#3a3ae0" stroke="none" stroke-width="1" opacity="0.91"/>
<circle cx="259.93" cy="478.55" r="0.53" fill="#3a3ae0" stroke="none" stroke-width="1" opacity="0.9"/>
<circle cx="262.65" cy="490.37" r="0.47" fill="#3a3ae0" stroke="none" stroke-width="1" opacity="0.58"/>
<circle cx="247.38" cy="462.25" r="0.45" fill="#3a3ae0" stroke="none" stroke-width="1" opacity="0.74"/>
<circle cx="252.99" cy="467.36" r="0.35" fill="#3a3ae0" stroke="none" stroke-width="1" opacity="0.61"/>
<circle cx="262.69" cy="487.73" r="0.39" fill="#3a3ae0" stroke="none" stroke-width="1" opacity="0.85"/>
<circle cx="250.52" cy="463.64" r="0.5" fill="#3a3ae0" stroke="none" stroke-width="1" opacity="0.58"/>
<circle cx="261.84" cy="483.36" r="0.53" fill="#3a3ae0" stroke="none" stroke-width="1" opacity="0.86"/>
<circle cx="260.74" cy="484.78" r="0.51" fill="#3a3ae0" stroke="none" stroke-width="1" opacity="0.52"/>
<circle cx="245.53" cy="462.27" r="0.33" fill="#3a3ae0" stroke="none" stroke-width="1" opacity="0.74"/>
<circle cx="252.82" cy="468.79" r="0.25" fill="#3a3ae0" stroke="none" stroke-width="1" opacity="0.52"/>
<circle cx="237.13" cy="465.91" r="0.29" fill="#3a3ae0" stroke="none" stroke-width="1" opacity="0.53"/>
<circle cx="259.37" cy="493.83" r="0.4" fill="#3a3ae0" stroke="none" stroke-width="1" opacity="0.64"/>
<circle cx="248.27" cy="463.12" r="0.36" fill="#3a3ae0" stroke="none" stroke-width="1" opacity="0.79"/>
<circle cx="261.92" cy="471.72" r="0.35" fill="#3a3ae0" stroke="none" stroke-width="1" opacity="0.56"/>
<circle cx="260.63" cy="470.31" r="0.46" fill="#3a3ae0" stroke="none" stroke-width="1" opacity="0.67"/>
<circle cx="235.11" cy="468.02" r="0.43" fill="#3a3ae0" stroke="none" stroke-width="1" opacity="0.85"/>
<circle cx="251.76" cy="465.51" r="0.49" fill="#3a3ae0" stroke="none" stroke-width="1" opacity="0.78"/>
<circle cx="254.5" cy="466.45" r="0.46" fill="#3a3ae0" stroke="none" stroke-width="1" opacity="0.69"/>
<circle cx="262.87" cy="478.07" r="0.39" fill="#3a3ae0" stroke="none" stroke-width="1" opacity="0.61"/>
<circle cx="260.77" cy="468.62" r="0.38" fill="#3a3ae0" stroke="none" stroke-width="1" opacity="0.69"/>
<circle cx="262.66" cy="488.93" r="0.53" fill="#3a3ae0" stroke="none" stroke-width="1" opacity="0.67"/>
<circle cx="262.56" cy="490.18" r="0.39" fill="#3a3ae0" stroke="none" stroke-width="1" opacity="0.56"/>
<circle cx="262.89" cy="484.79" r="0.45" fill="#3a3ae0" stroke="none" stroke-width="1" opacity="0.9"/>
<circle cx="262.98" cy="483.6" r="0.42" fill="#3a3ae0" stroke="none" stroke-width="1" opacity="0.55"/>
<circle cx="259.22" cy="473.42" r="0.25" fill="#3a3ae0" stroke="none" stroke-width="1" opacity="0.56"/>
<circle cx="264.34" cy="482.72" r="0.28" fill="#3a3ae0" stroke="none" stroke-width="1" opacity="0.9"/>
<circle cx="239.79" cy="463.86" r="0.26" fill="#3a3ae0" stroke="none" stroke-width="1" opacity="0.88"/>
<circle cx="237.83" cy="467.53" r="0.5" fill="#3a3ae0" stroke="none" stroke-width="1" opacity="0.93"/>
<circle cx="259.45" cy="472.76" r="0.49" fill="#3a3ae0" stroke="none" stroke-width="1" opacity="0.52"/>
<circle cx="260.69" cy="481.98" r="0.28" fill="#3a3ae0" stroke="none" stroke-width="1" opacity="0.84"/>
<circle cx="261.44" cy="492.26" r="0.27" fill="#3a3ae0" stroke="none" stroke-width="1" opacity="0.65"/>
<circle cx="261.32" cy="470.44" r="0.3" fill="#3a3ae0" stroke="none" stroke-width="1" opacity="0.61"/>
<circle cx="262.08" cy="473.63" r="0.48" fill="#3a3ae0" stroke="none" stroke-width="1" opacity="0.68"/>
<circle cx="251.18" cy="464.91" r="0.38" fill="#3a3ae0" stroke="none" stroke-width="1" opacity="0.54"/>
<circle cx="258.24" cy="468.04" r="0.54" fill="#3a3ae0" stroke="none" stroke-width="1" opacity="0.69"/>
<circle cx="263.19" cy="481.06" r="0.48" fill="#3a3ae0" stroke="none" stroke-width="1" opacity="0.8"/>
<circle cx="257.31" cy="470.39" r="0.4" fill="#3a3ae0" stroke="none" stroke-width="1" opacity="0.79"/>
<circle cx="262.39" cy="490.04" r="0.47" fill="#3a3ae0" stroke="none" stroke-width="1" opacity="0.91"/>
<circle cx="259.42" cy="468.27" r="0.38" fill="#3a3ae0" stroke="none" stroke-width="1" opacity="0.82"/>
<circle cx="240.15" cy="463.54" r="0.43" fill="#3a3ae0" stroke="none" stroke-width="1" opacity="0.64"/>
<circle cx="243.42" cy="464.51" r="0.46" fill="#3a3ae0" stroke="none" stroke-width="1" opacity="0.93"/>
<circle cx="247.11" cy="462.92" r="0.51" fill="#3a3ae0" stroke="none" stroke-width="1" opacity="0.76"/>
<circle cx="245.53" cy="465.24" r="0.32" fill="#3a3ae0" stroke="none" stroke-width="1" opacity="0.51"/>
<circle cx="257.48" cy="466.98" r="0.36" fill="#3a3ae0" stroke="none" stroke-width="1" opacity="0.64"/>
<circle cx="264.37" cy="482.71" r="0.29" fill="#3a3ae0" stroke="none" stroke-width="1" opacity="0.95"/>
<circle cx="256.6" cy="468.15" r="0.5" fill="#3a3ae0" stroke="none" stroke-width="1" opacity="0.87"/>
<circle cx="260.3" cy="470.69" r="0.39" fill="#3a3ae0" stroke="none" stroke-width="1" opacity="0.82"/>
<circle cx="260.44" cy="486.46" r="0.54" fill="#3a3ae0" stroke="none" stroke-width="1" opacity="0.71"/>
<circle cx="243.48" cy="465.45" r="0.32" fill="#3a3ae0" stroke="none" stroke-width="1" opacity="0.82"/>
<circle cx="259.38" cy="477.82" r="0.32" fill="#3a3ae0" stroke="none" stroke-width="1" opacity="0.59"/>
<circle cx="244.87" cy="463.74" r="0.31" fill="#3a3ae0" stroke="none" stroke-width="1" opacity="0.82"/>
<circle cx="262.45" cy="487.43" r="0.51" fill="#3a3ae0" stroke="none" stroke-width="1" opacity="0.64"/>
<circle cx="254.58" cy="465.19" r="0.47" fill="#3a3ae0" stroke="none" stroke-width="1" opacity="0.54"/>
<circle cx="235.68" cy="467.5" r="0.36" fill="#3a3ae0" stroke="none" stroke-width="1" opacity="0.76"/>
<circle cx="263.05" cy="476.95" r="0.25" fill="#3a3ae0" stroke="none" stroke-width="1" opacity="0.65"/>
<circle cx="254.93" cy="466.2" r="0.43" fill="#3a3ae0" stroke="none" stroke-width="1" opacity="0.93"/>
<circle cx="253.19" cy="463.25" r="0.41" fill="#3a3ae0" stroke="none" stroke-width="1" opacity="0.55"/>
<circle cx="245.78" cy="462.83" r="0.52" fill="#3a3ae0" stroke="none" stroke-width="1" opacity="0.91"/>
<circle cx="235.89" cy="467.34" r="0.53" fill="#3a3ae0" stroke="none" stroke-width="1" opacity="0.67"/>
<circle cx="265.58" cy="482.73" r="0.45" fill="#3a3ae0" stroke="none" stroke-width="1" opacity="0.79"/>
<circle cx="262.73" cy="484.34" r="0.33" fill="#3a3ae0" stroke="none" stroke-width="1" opacity="0.84"/>
<circle cx="259.23" cy="492.53" r="0.28" fill="#3a3ae0" stroke="none" stroke-width="1" opacity="0.72"/>
<circle cx="250.09" cy="465.82" r="0.47" fill="#3a3ae0" stroke="none" stroke-width="1" opacity="0.81"/>
<circle cx="260.77" cy="471.02" r="0.44" fill="#3a3ae0" stroke="none" stroke-width="1" opacity="0.58"/>
<circle cx="259.71" cy="487.99" r="0.45" fill="#3a3ae0" stroke="none" stroke-width="1" opacity="0.56"/>
<circle cx="260.41" cy="491.24" r="0.47" fill="#3a3ae0" stroke="none" stroke-width="1" opacity="0.77"/>
<circle cx="260.11" cy="470.67" r="0.44" fill="#3a3ae0" stroke="none" stroke-width="1" opacity="0.71"/>
<circle cx="248.17" cy="462.58" r="0.46" fill="#3a3ae0" stroke="none" stroke-width="1" opacity="0.84"/>
<circle cx="260.56" cy="469.4" r="0.47" fill="#3a3ae0" stroke="none" stroke-width="1" opacity="0.66"/>
<circle cx="245.62" cy="466.9" r="0.26" fill="#3a3ae0" stroke="none" stroke-width="1" opacity="0.73"/>
<circle cx="244.64" cy="466.54" r="0.48" fill="#3a3ae0" stroke="none" stroke-width="1" opacity="0.66"/>
<circle cx="249.1" cy="465.42" r="0.48" fill="#3a3ae0" stroke="none" stroke-width="1" opacity="0.66"/>
<circle cx="262.44" cy="486.68" r="0.28" fill="#3a3ae0" stroke="none" stroke-width="1" opacity="0.62"/>
<circle cx="237.83" cy="469.47" r="0.47" fill="#3a3ae0" stroke="none" stroke-width="1" opacity="0.58"/>
<circle cx="241.55" cy="466.63" r="0.37" fill="#3a3ae0" stroke="none" stroke-width="1" opacity="0.83"/>
<circle cx="265.16" cy="485.54" r="0.29" fill="#3a3ae0" stroke="none" stroke-width="1" opacity="0.68"/>
<circle cx="242" cy="467.17" r="0.41" fill="#3a3ae0" stroke="none" stroke-width="1" opacity="0.76"/>
<circle cx="241.05" cy="462.97" r="0.26" fill="#3a3ae0" stroke="none" stroke-width="1" opacity="0.86"/>
<circle cx="258.48" cy="487.36" r="0.53" fill="#3a3ae0" stroke="none" stroke-width="1" opacity="0.67"/>
<circle cx="258.69" cy="471.61" r="0.54" fill="#3a3ae0" stroke="none" stroke-width="1" opacity="0.81"/>
<circle cx="247.31" cy="464.26" r="0.51" fill="#3a3ae0" stroke="none" stroke-width="1" opacity="0.72"/>
<circle cx="263.51" cy="471.88" r="0.48" fill="#3a3ae0" stroke="none" stroke-width="1" opacity="0.8"/>
<circle cx="258.86" cy="466.5" r="0.41" fill="#3a3ae0" stroke="none" stroke-width="1" opacity="0.71"/>
<circle cx="240.81" cy="463.97" r="0.4" fill="#3a3ae0" stroke="none" stroke-width="1" opacity="0.79"/>
<circle cx="256.35" cy="464.68" r="0.42" fill="#3a3ae0" stroke="none" stroke-width="1" opacity="0.93"/>
<circle cx="260.06" cy="488.31" r="0.44" fill="#3a3ae0" stroke="none" stroke-width="1" opacity="0.52"/>
<circle cx="250.32" cy="466.65" r="0.32" fill="#3a3ae0" stroke="none" stroke-width="1" opacity="0.54"/>
<circle cx="259.28" cy="470.16" r="0.51" fill="#3a3ae0" stroke="none" stroke-width="1" opacity="0.81"/>
<circle cx="237.67" cy="465.88" r="0.51" fill="#3a3ae0" stroke="none" stroke-width="1" opacity="0.77"/>
<circle cx="261.14" cy="491.42" r="0.35" fill="#3a3ae0" stroke="none" stroke-width="1" opacity="0.86"/>
<circle cx="257.79" cy="489.19" r="0.51" fill="#3a3ae0" stroke="none" stroke-width="1" opacity="0.7"/>
<circle cx="264.25" cy="481.65" r="0.26" fill="#3a3ae0" stroke="none" stroke-width="1" opacity="0.54"/>
<circle cx="240.99" cy="463.14" r="0.3" fill="#3a3ae0" stroke="none" stroke-width="1" opacity="0.72"/>
<circle cx="262.36" cy="478.44" r="0.44" fill="#3a3ae0" stroke="none" stroke-width="1" opacity="0.64"/>
<circle cx="257.12" cy="465.89" r="0.48" fill="#3a3ae0" stroke="none" stroke-width="1" opacity="0.68"/>
<circle cx="241.32" cy="467.26" r="0.36" fill="#3a3ae0" stroke="none" stroke-width="1" opacity="0.67"/>
<circle cx="258.58" cy="470.07" r="0.43" fill="#3a3ae0" stroke="none" stroke-width="1" opacity="0.6"/>
<circle cx="232.2" cy="471.7" r="0.29" fill="#3a3ae0" stroke="none" stroke-width="1" opacity="0.71"/>
<circle cx="242.46" cy="468.2" r="0.31" fill="#3a3ae0" stroke="none" stroke-width="1" opacity="0.58"/>
<circle cx="253.9" cy="463.71" r="0.28" fill="#3a3ae0" stroke="none" stroke-width="1" opacity="0.58"/>
<circle cx="258.5" cy="466.77" r="0.27" fill="#3a3ae0" stroke="none" stroke-width="1" opacity="0.51"/>
<circle cx="254.51" cy="468.25" r="0.27" fill="#3a3ae0" stroke="none" stroke-width="1" opacity="0.68"/>
<circle cx="252.64" cy="465.76" r="0.26" fill="#3a3ae0" stroke="none" stroke-width="1" opacity="0.93"/>
<circle cx="242.9" cy="465.55" r="0.3" fill="#3a3ae0" stroke="none" stroke-width="1" opacity="0.78"/>
<circle cx="250.05" cy="464.31" r="0.29" fill="#3a3ae0" stroke="none" stroke-width="1" opacity="0.52"/>
<circle cx="264.89" cy="479.85" r="0.39" fill="#3a3ae0" stroke="none" stroke-width="1" opacity="0.92"/>
<circle cx="247.3" cy="467.57" r="0.32" fill="#3a3ae0" stroke="none" stroke-width="1" opacity="0.62"/>
<circle cx="263.25" cy="484.97" r="0.28" fill="#3a3ae0" stroke="none" stroke-width="1" opacity="0.81"/>
<circle cx="258.7" cy="492.67" r="0.43" fill="#3a3ae0" stroke="none" stroke-width="1" opacity="0.5"/>
<circle cx="233.32" cy="470.45" r="0.26" fill="#3a3ae0" stroke="none" stroke-width="1" opacity="0.52"/>
<circle cx="263.9" cy="475.39" r="0.52" fill="#3a3ae0" stroke="none" stroke-width="1" opacity="0.59"/>
<circle cx="256.04" cy="490.27" r="0.53" fill="#3a3ae0" stroke="none" stroke-width="1" opacity="0.92"/>
<circle cx="232.82" cy="469.77" r="0.34" fill="#3a3ae0" stroke="none" stroke-width="1" opacity="0.77"/>
<circle cx="259.5" cy="491.61" r="0.5" fill="#3a3ae0" stroke="none" stroke-width="1" opacity="0.55"/>
<circle cx="252.73" cy="464.37" r="0.35" fill="#3a3ae0" stroke="none" stroke-width="1" opacity="0.81"/>
<circle cx="260.06" cy="490.73" r="0.47" fill="#3a3ae0" stroke="none" stroke-width="1" opacity="0.88"/>
<circle cx="258.13" cy="472.1" r="0.53" fill="#3a3ae0" stroke="none" stroke-width="1" opacity="0.66"/>
<circle cx="254.41" cy="464.31" r="0.39" fill="#3a3ae0" stroke="none" stroke-width="1" opacity="0.62"/>
<circle cx="241.4" cy="468.76" r="0.47" fill="#3a3ae0" stroke="none" stroke-width="1" opacity="0.77"/>
<circle cx="244.41" cy="470.55" r="0.37" fill="#5050e0" stroke="none" stroke-width="1" opacity="0.6"/>
<circle cx="255.14" cy="492.6" r="0.26" fill="#5050e0" stroke="none" stroke-width="1" opacity="0.6"/>
<circle cx="232.51" cy="483.85" r="0.42" fill="#5050e0" stroke="none" stroke-width="1" opacity="0.6"/>
<circle cx="253.79" cy="485.54" r="0.46" fill="#5050e0" stroke="none" stroke-width="1" opacity="0.6"/>
<circle cx="237.03" cy="468.37" r="0.47" fill="#5050e0" stroke="none" stroke-width="1" opacity="0.6"/>
<circle cx="231.69" cy="485.78" r="0.43" fill="#5050e0" stroke="none" stroke-width="1" opacity="0.6"/>
<circle cx="241.81" cy="489.74" r="0.27" fill="#5050e0" stroke="none" stroke-width="1" opacity="0.6"/>
<circle cx="233.6" cy="490.62" r="0.28" fill="#5050e0" stroke="none" stroke-width="1" opacity="0.6"/>
<circle cx="241.88" cy="478.43" r="0.27" fill="#5050e0" stroke="none" stroke-width="1" opacity="0.6"/>
<circle cx="242.06" cy="474.08" r="0.26" fill="#5050e0" stroke="none" stroke-width="1" opacity="0.6"/>
<circle cx="254.84" cy="491.97" r="0.4" fill="#5050e0" stroke="none" stroke-width="1" opacity="0.6"/>
<circle cx="255.13" cy="481.4" r="0.49" fill="#5050e0" stroke="none" stroke-width="1" opacity="0.6"/>
<circle cx="249.38" cy="493.32" r="0.35" fill="#5050e0" stroke="none" stroke-width="1" opacity="0.6"/>
<circle cx="249.57" cy="467.84" r="0.45" fill="#5050e0" stroke="none" stroke-width="1" opacity="0.6"/>
<circle cx="239.81" cy="479.18" r="0.29" fill="#5050e0" stroke="none" stroke-width="1" opacity="0.6"/>
<circle cx="260.58" cy="488.17" r="0.28" fill="#5050e0" stroke="none" stroke-width="1" opacity="0.6"/>
<circle cx="263.52" cy="483.31" r="0.3" fill="#5050e0" stroke="none" stroke-width="1" opacity="0.6"/>
<circle cx="250.9" cy="477.71" r="0.37" fill="#5050e0" stroke="none" stroke-width="1" opacity="0.6"/>
<circle cx="249.64" cy="496.06" r="0.4" fill="#5050e0" stroke="none" stroke-width="1" opacity="0.6"/>
<circle cx="237.67" cy="469.26" r="0.47" fill="#5050e0" stroke="none" stroke-width="1" opacity="0.6"/>
<circle cx="239.51" cy="491.67" r="0.36" fill="#5050e0" stroke="none" stroke-width="1" opacity="0.6"/>
<circle cx="258.91" cy="490.78" r="0.4" fill="#5050e0" stroke="none" stroke-width="1" opacity="0.6"/>
<circle cx="250.06" cy="473.72" r="0.38" fill="#5050e0" stroke="none" stroke-width="1" opacity="0.6"/>
<circle cx="232.86" cy="484.04" r="0.27" fill="#5050e0" stroke="none" stroke-width="1" opacity="0.6"/>
<circle cx="240.28" cy="490.54" r="0.27" fill="#5050e0" stroke="none" stroke-width="1" opacity="0.6"/>
<circle cx="233.21" cy="476.06" r="0.36" fill="#5050e0" stroke="none" stroke-width="1" opacity="0.6"/>
<circle cx="239.12" cy="470.17" r="0.3" fill="#5050e0" stroke="none" stroke-width="1" opacity="0.6"/>
<circle cx="236.98" cy="494.49" r="0.33" fill="#5050e0" stroke="none" stroke-width="1" opacity="0.6"/>
<circle cx="242.53" cy="482.88" r="0.3" fill="#5050e0" stroke="none" stroke-width="1" opacity="0.6"/>
<circle cx="255.32" cy="494.93" r="0.43" fill="#5050e0" stroke="none" stroke-width="1" opacity="0.6"/>
<circle cx="258.92" cy="468.84" r="0.4" fill="#5050e0" stroke="none" stroke-width="1" opacity="0.6"/>
<circle cx="258.3" cy="475.6" r="0.35" fill="#5050e0" stroke="none" stroke-width="1" opacity="0.6"/>
<circle cx="262.3" cy="475.62" r="0.49" fill="#5050e0" stroke="none" stroke-width="1" opacity="0.6"/>
<circle cx="232.12" cy="482.28" r="0.35" fill="#5050e0" stroke="none" stroke-width="1" opacity="0.6"/>
<circle cx="263.31" cy="480.52" r="0.32" fill="#5050e0" stroke="none" stroke-width="1" opacity="0.6"/>
<circle cx="253.69" cy="477.87" r="0.27" fill="#5050e0" stroke="none" stroke-width="1" opacity="0.6"/>
<circle cx="245.41" cy="471.72" r="0.38" fill="#5050e0" stroke="none" stroke-width="1" opacity="0.6"/>
<circle cx="244.81" cy="478.17" r="0.44" fill="#5050e0" stroke="none" stroke-width="1" opacity="0.6"/>
<circle cx="245.18" cy="491.83" r="0.34" fill="#5050e0" stroke="none" stroke-width="1" opacity="0.6"/>
<circle cx="246.27" cy="466.13" r="0.32" fill="#5050e0" stroke="none" stroke-width="1" opacity="0.6"/>
<circle cx="239.5" cy="477.3" r="0.9" fill="#2424c8" stroke="none" stroke-width="1"/>
<circle cx="241.5" cy="481.3" r="0.8" fill="#2424c8" stroke="none" stroke-width="1"/>
<circle cx="241.5" cy="483.8" r="0.9" fill="#2424c8" stroke="none" stroke-width="1"/>
<circle cx="249.5" cy="481.3" r="1.2" fill="#2424c8" stroke="none" stroke-width="1"/>
<circle cx="250.5" cy="479.3" r="0.8" fill="#2424c8" stroke="none" stroke-width="1"/>
<circle cx="253.5" cy="485.3" r="0.9" fill="#2424c8" stroke="none" stroke-width="1"/>
<circle cx="247.5" cy="475.3" r="0.7" fill="#2424c8" stroke="none" stroke-width="1"/>
<circle cx="245" cy="477.8" r="0.6" fill="#2424c8" stroke="none" stroke-width="1"/>
<circle cx="252" cy="476.8" r="0.7" fill="#2424c8" stroke="none" stroke-width="1"/>
<circle cx="249.1" cy="526.6" r="0.8" fill="#2828d0" stroke="none" stroke-width="1"/>
<circle cx="245.1" cy="529.1" r="0.6" fill="#2828d0" stroke="none" stroke-width="1"/>
<circle cx="246.1" cy="531.1" r="0.8" fill="#2828d0" stroke="none" stroke-width="1"/>
<circle cx="248.4" cy="531.1" r="0.9" fill="#2828d0" stroke="none" stroke-width="1"/>
<circle cx="249.6" cy="533.4" r="0.9" fill="#2828d0" stroke="none" stroke-width="1"/>
<circle cx="247.1" cy="532.6" r="0.6" fill="#2828d0" stroke="none" stroke-width="1"/>
<circle cx="242.6" cy="533.8" r="0.6" fill="#2828d0" stroke="none" stroke-width="1"/>
<circle cx="254.1" cy="528.6" r="0.5" fill="#2828d0" stroke="none" stroke-width="1"/>
<circle cx="243.8" cy="524.6" r="0.4" fill="#2828d0" stroke="none" stroke-width="1"/>
<circle cx="251.6" cy="537.1" r="0.4" fill="#2828d0" stroke="none" stroke-width="1"/>
<rect x="305.2" y="430.4" width="55.2" height="19.9" fill="#fff" stroke="#aaa" stroke-width="0.8"/>
<line x1="332.4" y1="430.4" x2="332.4" y2="450.3" stroke="#aaa" stroke-width="0.8"/>
<rect x="316" y="439.2" width="5.6" height="2" fill="#111" stroke="none" stroke-width="1"/>
<rect x="342.2" y="439.45" width="8.4" height="1.9" fill="#111" stroke="none" stroke-width="1"/>
<rect x="345.45" y="436.2" width="1.9" height="8.4" fill="#111" stroke="none" stroke-width="1"/>
<text x="363.8" y="442.83" font-size="8.3" text-anchor="start" fill="#111" stroke="#111" stroke-width="0.25">DOX</text>
<line x1="301" y1="455.9" x2="301" y2="550.4" stroke="#8a8a8a" stroke-width="0.9"/>
<line x1="301" y1="550.4" x2="366" y2="550.4" stroke="#8a8a8a" stroke-width="0.9"/>
<line x1="298.6" y1="550.4" x2="301" y2="550.4" stroke="#8a8a8a" stroke-width="0.9"/>
<text x="298" y="552.52" font-size="7.2" text-anchor="end" fill="#333" stroke="#333" stroke-width="0.16">0.0</text>
<line x1="298.6" y1="518.9" x2="301" y2="518.9" stroke="#8a8a8a" stroke-width="0.9"/>
<text x="298" y="521.02" font-size="7.2" text-anchor="end" fill="#333" stroke="#333" stroke-width="0.16">0.5</text>
<line x1="298.6" y1="487.4" x2="301" y2="487.4" stroke="#8a8a8a" stroke-width="0.9"/>
<text x="298" y="489.52" font-size="7.2" text-anchor="end" fill="#333" stroke="#333" stroke-width="0.16">1.0</text>
<line x1="298.6" y1="455.9" x2="301" y2="455.9" stroke="#8a8a8a" stroke-width="0.9"/>
<text x="298" y="458.02" font-size="7.2" text-anchor="end" fill="#333" stroke="#333" stroke-width="0.16">1.5</text>
<rect x="314.8" y="489.99" width="11.8" height="60.41" fill="#d83a3e" stroke="#dc0a14" stroke-width="1.4"/>
<line x1="320.7" y1="550.4" x2="320.7" y2="552.6" stroke="#8a8a8a" stroke-width="0.8"/>
<line x1="320.7" y1="486.77" x2="320.7" y2="489.29" stroke="#dc0a14" stroke-width="0.9"/>
<line x1="317.9" y1="486.77" x2="323.5" y2="486.77" stroke="#dc0a14" stroke-width="0.9"/>
<line x1="320.7" y1="489.29" x2="320.7" y2="491.81" stroke="#fff" stroke-width="0.6" opacity="0.6"/>
<circle cx="320.7" cy="487.4" r="0.8" fill="#fff" stroke="#dc0a14" stroke-width="0.4"/>
<circle cx="320.7" cy="490.55" r="0.8" fill="#fff" stroke="#dc0a14" stroke-width="0.4"/>
<rect x="340.7" y="532.83" width="11.4" height="17.57" fill="#ee9ea2" stroke="#e04850" stroke-width="1.4"/>
<line x1="346.4" y1="550.4" x2="346.4" y2="552.6" stroke="#8a8a8a" stroke-width="0.8"/>
<line x1="346.4" y1="531.5" x2="346.4" y2="532.13" stroke="#e04850" stroke-width="0.9"/>
<line x1="343.6" y1="531.5" x2="349.2" y2="531.5" stroke="#e04850" stroke-width="0.9"/>
<line x1="346.4" y1="532.13" x2="346.4" y2="532.76" stroke="#fff" stroke-width="0.6" opacity="0.6"/>
<circle cx="346.4" cy="531.5" r="0.8" fill="#fff" stroke="#e04850" stroke-width="0.4"/>
<path d="M320.6 486 L320.6 474.7 L346.4 474.7 L346.4 530" fill="none" stroke="#666" stroke-width="0.8"/>
<path d="M326.25 468.35 L326.87 469.95 L328.58 470.04 L327.25 471.12 L327.69 472.78 L326.25 471.85 L324.81 472.78 L325.25 471.12 L323.92 470.04 L325.63 469.95Z" fill="#111" stroke="#111" stroke-width="0.35"/>
<path d="M331.35 468.35 L331.97 469.95 L333.68 470.04 L332.35 471.12 L332.79 472.78 L331.35 471.85 L329.91 472.78 L330.35 471.12 L329.02 470.04 L330.73 469.95Z" fill="#111" stroke="#111" stroke-width="0.35"/>
<path d="M336.45 468.35 L337.07 469.95 L338.78 470.04 L337.45 471.12 L337.89 472.78 L336.45 471.85 L335.01 472.78 L335.45 471.12 L334.12 470.04 L335.83 469.95Z" fill="#111" stroke="#111" stroke-width="0.35"/>
<path d="M341.55 468.35 L342.17 469.95 L343.88 470.04 L342.55 471.12 L342.99 472.78 L341.55 471.85 L340.11 472.78 L340.55 471.12 L339.22 470.04 L340.93 469.95Z" fill="#111" stroke="#111" stroke-width="0.35"/>
<text x="282.6" y="504.5" font-size="8.3" text-anchor="middle" fill="#333" stroke="#333" stroke-width="0.25" transform="rotate(-90 282.6 504.5)">Relative colony formation</text>
<text x="399.65" y="391.5" font-size="12.9" font-weight="bold" stroke="#000" stroke-width="0.5" transform="translate(399.65 0) scale(1.03 1) translate(-399.65 0)">I</text>
<text x="426.4" y="392.02" font-size="11" text-anchor="start" fill="#111" stroke="#111" stroke-width="0.2">LNCaP-ER/tet-MUC1shRNA</text>
<text x="417.3" y="418.45" font-size="8.3" text-anchor="middle" fill="#111" stroke="#111" stroke-width="0.25">DOX</text>
<rect x="407.3" y="425.1" width="21.6" height="137.1" fill="#fff" stroke="#aaa" stroke-width="0.8"/>
<line x1="407.3" y1="493.3" x2="428.9" y2="493.3" stroke="#aaa" stroke-width="0.8"/>
<rect x="413.9" y="457.8" width="8.9" height="2.8" fill="#111" stroke="none" stroke-width="1"/>
<rect x="410.9" y="523.5" width="11.9" height="2.6" fill="#111" stroke="none" stroke-width="1"/>
<rect x="415.55" y="517.8" width="2.6" height="13.9" fill="#111" stroke="none" stroke-width="1"/>
<rect x="431.8" y="422.2" width="96" height="70.7" fill="#dcdcdc" stroke="none" stroke-width="1"/>
<path d="M457.84 428.07 Q457.81 429.2 457.54 430.13 Q457.26 431.07 456.43 431.79 Q455.6 432.51 454.35 432.66 Q453.1 432.81 452.31 431.95 Q451.51 431.09 451.19 430.14 Q450.87 429.2 451.14 428.23 Q451.42 427.25 452.25 426.38 Q453.07 425.51 454.29 425.82 Q455.51 426.14 456.69 426.53 Q457.87 426.93 457.84 428.07 Z" fill="#6a6a6a" stroke="#3a3a3a" stroke-width="0.7" filter="url(#bl2)"/>
<path d="M482.98 450.84 Q483.09 452.2 482.83 453.44 Q482.56 454.67 481.66 455.49 Q480.76 456.32 479.49 456.71 Q478.22 457.1 477.29 456 Q476.37 454.9 475.85 453.55 Q475.34 452.2 476.04 451.01 Q476.75 449.82 477.56 448.82 Q478.36 447.81 479.66 447.59 Q480.96 447.37 481.91 448.43 Q482.86 449.48 482.98 450.84 Z" fill="#6a6a6a" stroke="#3a3a3a" stroke-width="0.7" filter="url(#bl2)"/>
<path d="M493.33 460.45 Q493.66 461.6 493.33 462.75 Q493 463.9 492.1 464.7 Q491.2 465.49 490.07 465.25 Q488.95 465.02 487.96 464.47 Q486.98 463.91 486.52 462.76 Q486.06 461.6 486.43 460.37 Q486.8 459.15 487.89 458.7 Q488.97 458.26 490.06 458.06 Q491.15 457.85 492.07 458.58 Q492.99 459.3 493.33 460.45 Z" fill="#6e6e6e" stroke="#3a3a3a" stroke-width="0.7" filter="url(#bl2)"/>
<path d="M440.61 469.42 Q441.24 470.5 440.86 471.77 Q440.49 473.03 439.46 473.97 Q438.43 474.91 436.99 474.94 Q435.55 474.97 434.38 474.11 Q433.21 473.25 433.09 471.88 Q432.97 470.5 433.06 469.1 Q433.14 467.7 434.44 467.15 Q435.73 466.6 436.98 466.67 Q438.22 466.74 439.1 467.53 Q439.98 468.33 440.61 469.42 Z" fill="#646464" stroke="#383838" stroke-width="0.7" filter="url(#bl2)"/>
<path d="M440.16 476.31 Q440.36 477.5 440.08 478.64 Q439.81 479.78 438.78 480.48 Q437.76 481.18 436.48 481.24 Q435.2 481.3 434.41 480.39 Q433.62 479.48 432.9 478.49 Q432.17 477.5 432.77 476.42 Q433.36 475.34 434.3 474.58 Q435.24 473.82 436.5 473.82 Q437.76 473.81 438.87 474.46 Q439.97 475.11 440.16 476.31 Z" fill="#646464" stroke="#383838" stroke-width="0.7" filter="url(#bl2)"/>
<circle cx="505" cy="437" r="0.55" fill="#555" stroke="none" stroke-width="1"/>
<circle cx="515" cy="450" r="0.55" fill="#555" stroke="none" stroke-width="1"/>
<circle cx="460" cy="460" r="0.55" fill="#555" stroke="none" stroke-width="1"/>
<circle cx="500" cy="470" r="0.55" fill="#555" stroke="none" stroke-width="1"/>
<circle cx="470" cy="485" r="0.55" fill="#555" stroke="none" stroke-width="1"/>
<line x1="518.8" y1="487.9" x2="524.8" y2="487.9" stroke="#444" stroke-width="0.5"/>
<text x="521.8" y="485.4" font-size="2.2" text-anchor="middle" fill="#444">100μM</text>
<rect x="431.8" y="422.2" width="96" height="70.7" fill="none" stroke="#e0606e" stroke-width="1"/>
<rect x="431.8" y="494" width="96" height="71.6" fill="#dcdcdc" stroke="none" stroke-width="1"/>
<g opacity="1" filter="url(#bl2)"><circle cx="487.8" cy="524.6" r="1.6" fill="#666"/><circle cx="487.8" cy="526.8" r="1.5" fill="#666"/></g>
<g opacity="1" filter="url(#bl2)"><circle cx="469.7" cy="544.4" r="1.8" fill="#6a6a6a"/><circle cx="471.7" cy="544.4" r="1.7" fill="#6a6a6a"/></g>
<g opacity="1" filter="url(#bl2)"><circle cx="473" cy="533" r="1.5" fill="#aaa"/></g>
<circle cx="450" cy="505" r="0.55" fill="#555" stroke="none" stroke-width="1"/>
<circle cx="500" cy="515" r="0.55" fill="#555" stroke="none" stroke-width="1"/>
<circle cx="460" cy="520" r="0.55" fill="#555" stroke="none" stroke-width="1"/>
<line x1="518.8" y1="560.6" x2="524.8" y2="560.6" stroke="#444" stroke-width="0.5"/>
<text x="521.8" y="558.1" font-size="2.2" text-anchor="middle" fill="#444">100μM</text>
<rect x="431.8" y="494" width="96" height="71.6" fill="none" stroke="#e4a8d8" stroke-width="1"/>
<rect x="563.1" y="428.3" width="55.5" height="20.1" fill="#fff" stroke="#aaa" stroke-width="0.8"/>
<line x1="590.5" y1="428.3" x2="590.5" y2="448.4" stroke="#aaa" stroke-width="0.8"/>
<rect x="575.7" y="438.3" width="4.9" height="1.9" fill="#111" stroke="none" stroke-width="1"/>
<rect x="600.7" y="438.3" width="7.8" height="1.8" fill="#111" stroke="none" stroke-width="1"/>
<rect x="603.7" y="435.3" width="1.8" height="7.8" fill="#111" stroke="none" stroke-width="1"/>
<text x="621.6" y="441.33" font-size="8.3" text-anchor="start" fill="#111" stroke="#111" stroke-width="0.25">DOX</text>
<line x1="561" y1="452.7" x2="561" y2="548.7" stroke="#8a8a8a" stroke-width="0.9"/>
<line x1="561" y1="548.7" x2="625.1" y2="548.7" stroke="#8a8a8a" stroke-width="0.9"/>
<line x1="558.6" y1="548.7" x2="561" y2="548.7" stroke="#8a8a8a" stroke-width="0.9"/>
<text x="558" y="550.97" font-size="7.6" text-anchor="end" fill="#333" stroke="#333" stroke-width="0.19">0</text>
<line x1="558.6" y1="516.7" x2="561" y2="516.7" stroke="#8a8a8a" stroke-width="0.9"/>
<text x="558" y="518.97" font-size="7.6" text-anchor="end" fill="#333" stroke="#333" stroke-width="0.19">10</text>
<line x1="558.6" y1="484.7" x2="561" y2="484.7" stroke="#8a8a8a" stroke-width="0.9"/>
<text x="558" y="486.97" font-size="7.6" text-anchor="end" fill="#333" stroke="#333" stroke-width="0.19">20</text>
<line x1="558.6" y1="452.7" x2="561" y2="452.7" stroke="#8a8a8a" stroke-width="0.9"/>
<text x="558" y="454.97" font-size="7.6" text-anchor="end" fill="#333" stroke="#333" stroke-width="0.19">30</text>
<rect x="569.4" y="484.44" width="14.9" height="64.26" fill="#d83a3e" stroke="#dc0a14" stroke-width="1.4"/>
<line x1="576.85" y1="548.7" x2="576.85" y2="550.9" stroke="#8a8a8a" stroke-width="0.8"/>
<line x1="576.85" y1="472.54" x2="576.85" y2="483.74" stroke="#dc0a14" stroke-width="0.9"/>
<line x1="574.05" y1="472.54" x2="579.65" y2="472.54" stroke="#dc0a14" stroke-width="0.9"/>
<line x1="576.85" y1="483.74" x2="576.85" y2="494.94" stroke="#fff" stroke-width="0.6" opacity="0.6"/>
<circle cx="576.85" cy="479.9" r="0.8" fill="#fff" stroke="#dc0a14" stroke-width="0.4"/>
<circle cx="576.85" cy="486.3" r="0.8" fill="#fff" stroke="#dc0a14" stroke-width="0.4"/>
<circle cx="576.85" cy="491.1" r="0.8" fill="#fff" stroke="#dc0a14" stroke-width="0.4"/>
<rect x="601.4" y="539.8" width="14.6" height="8.9" fill="#ee9ea2" stroke="#e04850" stroke-width="1.4"/>
<line x1="608.7" y1="548.7" x2="608.7" y2="550.9" stroke="#8a8a8a" stroke-width="0.8"/>
<line x1="608.7" y1="535.26" x2="608.7" y2="539.1" stroke="#e04850" stroke-width="0.9"/>
<line x1="605.9" y1="535.26" x2="611.5" y2="535.26" stroke="#e04850" stroke-width="0.9"/>
<line x1="608.7" y1="539.1" x2="608.7" y2="542.94" stroke="#fff" stroke-width="0.6" opacity="0.6"/>
<circle cx="608.7" cy="536.54" r="0.8" fill="#fff" stroke="#e04850" stroke-width="0.4"/>
<circle cx="608.7" cy="540.7" r="0.8" fill="#fff" stroke="#e04850" stroke-width="0.4"/>
<path d="M576.6 467.6 L576.6 460.6 L608.9 460.6 L608.9 530.4" fill="none" stroke="#666" stroke-width="0.8"/>
<path d="M588 452.75 L588.62 454.35 L590.33 454.44 L589 455.52 L589.44 457.18 L588 456.25 L586.56 457.18 L587 455.52 L585.67 454.44 L587.38 454.35Z" fill="#111" stroke="#111" stroke-width="0.35"/>
<path d="M593.1 452.75 L593.72 454.35 L595.43 454.44 L594.1 455.52 L594.54 457.18 L593.1 456.25 L591.66 457.18 L592.1 455.52 L590.77 454.44 L592.48 454.35Z" fill="#111" stroke="#111" stroke-width="0.35"/>
<path d="M598.2 452.75 L598.82 454.35 L600.53 454.44 L599.2 455.52 L599.64 457.18 L598.2 456.25 L596.76 457.18 L597.2 455.52 L595.87 454.44 L597.58 454.35Z" fill="#111" stroke="#111" stroke-width="0.35"/>
<text x="543.3" y="504.6" font-size="8.2" text-anchor="middle" fill="#333" stroke="#333" stroke-width="0.24" transform="rotate(-90 543.3 504.6)">Tumorsphere formation</text>
<text x="2.45" y="585.7" font-size="12.9" font-weight="bold" stroke="#000" stroke-width="0.5" transform="translate(2.45 0) scale(1.03 1) translate(-2.45 0)">J</text>
<text x="36" y="584.75" font-size="10.9" text-anchor="start" fill="#111" stroke="#111" stroke-width="0.2">LNCaP/MUC1-C OE</text>
<text x="36" y="607.85" font-size="8.3" text-anchor="start" fill="#111" stroke="#111" stroke-width="0.25">kDa</text>
<text x="67" y="606.75" font-size="8.3" text-anchor="middle" fill="#111" stroke="#111" stroke-width="0.25">WT</text>
<text x="90" y="606.75" font-size="8.3" text-anchor="middle" fill="#111" stroke="#111" stroke-width="0.25">OE</text>
<rect x="57.1" y="609.7" width="48" height="32.3" fill="#e0e0e0" stroke="#8c8c8c" stroke-width="0.9"/>
<text x="108" y="619.53" font-size="8.6" text-anchor="start" fill="#111" stroke="#111" stroke-width="0.25">MUC1-C</text>
<text x="50.2" y="621.21" font-size="8.8" text-anchor="end" fill="#111" stroke="#111" stroke-width="0.25">25-</text>
<rect x="57.1" y="644.1" width="48" height="15.7" fill="#e0e0e0" stroke="#8c8c8c" stroke-width="0.9"/>
<text x="108" y="655.53" font-size="8.6" text-anchor="start" fill="#111" stroke="#111" stroke-width="0.25">p-AKT</text>
<text x="50.2" y="657.21" font-size="8.8" text-anchor="end" fill="#111" stroke="#111" stroke-width="0.25">60-</text>
<rect x="57.1" y="662.7" width="48" height="15.9" fill="#e0e0e0" stroke="#8c8c8c" stroke-width="0.9"/>
<text x="108" y="673.33" font-size="8.6" text-anchor="start" fill="#111" stroke="#111" stroke-width="0.25">AKT</text>
<text x="50.2" y="673.91" font-size="8.8" text-anchor="end" fill="#111" stroke="#111" stroke-width="0.25">60-</text>
<rect x="57.1" y="681.2" width="48" height="15.9" fill="#e0e0e0" stroke="#8c8c8c" stroke-width="0.9"/>
<text x="108" y="692.13" font-size="8.6" text-anchor="start" fill="#111" stroke="#111" stroke-width="0.25">p-ERK</text>
<text x="54.7" y="692.71" font-size="8.8" text-anchor="end" fill="#111" stroke="#111" stroke-width="0.25">44/42-</text>
<rect x="57.1" y="699.7" width="48" height="16" fill="#e0e0e0" stroke="#8c8c8c" stroke-width="0.9"/>
<text x="108" y="710.03" font-size="8.6" text-anchor="start" fill="#111" stroke="#111" stroke-width="0.25">ERK</text>
<text x="54.7" y="710.61" font-size="8.8" text-anchor="end" fill="#111" stroke="#111" stroke-width="0.25">44/42-</text>
<rect x="57.1" y="718.3" width="48" height="14.8" fill="#e0e0e0" stroke="#8c8c8c" stroke-width="0.9"/>
<text x="108" y="727.43" font-size="8.6" text-anchor="start" fill="#111" stroke="#111" stroke-width="0.25">β-actin</text>
<text x="50.2" y="728.01" font-size="8.8" text-anchor="end" fill="#111" stroke="#111" stroke-width="0.25">42-</text>
<path d="M80.5 614.5 Q80 613.5 83 613.5 L94.5 613.5 Q96.5 613.5 96.8 616 L97.8 630.5 Q98 634 94.5 634 L84 634 Q81 634 81 631 Z" fill="#000" stroke="none" stroke-width="1" filter="url(#bl)"/>
<rect x="63.5" y="650.3" width="15" height="2.6" fill="#000" stroke="none" stroke-width="1" rx="1.3" opacity="0.5" filter="url(#bl)"/>
<rect x="83" y="650" width="16.5" height="3.6" fill="#000" stroke="none" stroke-width="1" rx="1.8" opacity="1" filter="url(#bl)"/>
<rect x="62" y="667.5" width="15.7" height="4.6" fill="#000" stroke="none" stroke-width="1" rx="2.3" opacity="1" filter="url(#bl)"/>
<rect x="80.7" y="667" width="17.3" height="4.6" fill="#000" stroke="none" stroke-width="1" rx="2.3" opacity="1" filter="url(#bl)"/>
<rect x="63" y="687.7" width="14" height="3" fill="#000" stroke="none" stroke-width="1" rx="1.5" opacity="0.14" filter="url(#bl)"/>
<rect x="82.2" y="686.9" width="15" height="4.2" fill="#000" stroke="none" stroke-width="1" rx="2.1" opacity="1" filter="url(#bl)"/>
<rect x="64.2" y="705.1" width="16.5" height="5" fill="#000" stroke="none" stroke-width="1" rx="2.5" opacity="1" filter="url(#bl)"/>
<rect x="83.7" y="705.1" width="16.5" height="5" fill="#000" stroke="none" stroke-width="1" rx="2.5" opacity="1" filter="url(#bl)"/>
<rect x="62" y="722.8" width="17.2" height="4.4" fill="#000" stroke="none" stroke-width="1" rx="2.2" opacity="1" filter="url(#bl)"/>
<rect x="80.7" y="723.2" width="18" height="4" fill="#000" stroke="none" stroke-width="1" rx="2" opacity="1" filter="url(#bl)"/>
<text x="217.45" y="585.2" font-size="12.9" font-weight="bold" stroke="#000" stroke-width="0.5" transform="translate(217.45 0) scale(1.03 1) translate(-217.45 0)">K</text>
<text x="239.6" y="584.45" font-size="10.9" text-anchor="start" fill="#111" stroke="#111" stroke-width="0.2">LNCaP/MUC1-C OE</text>
<text x="210.4" y="669.13" font-size="8.3" text-anchor="middle" fill="#111" stroke="#111" stroke-width="0.25">WT</text>
<text x="210.4" y="713.93" font-size="8.3" text-anchor="middle" fill="#111" stroke="#111" stroke-width="0.25">OE</text>
<rect x="224.7" y="636.7" width="46.8" height="95.3" fill="#cfcfdc" stroke="#999" stroke-width="0.5"/>
<circle cx="247.2" cy="660.5" r="21" fill="none" stroke="#ececf2" stroke-width="2.2" opacity="0.9"/>
<circle cx="247.2" cy="660.5" r="19.4" fill="url(#gK1)" stroke="none" stroke-width="1"/>
<circle cx="247.2" cy="660.5" r="18.8" fill="none" stroke="#b8b8cc" stroke-width="0.8" opacity="0.7"/>
<circle cx="247.4" cy="708.4" r="21" fill="none" stroke="#e4e4ee" stroke-width="2.2" opacity="0.9"/>
<circle cx="247.4" cy="708.4" r="19.4" fill="url(#gK2)" stroke="none" stroke-width="1"/>
<circle cx="247.4" cy="708.4" r="18.8" fill="none" stroke="#b8b8cc" stroke-width="0.8" opacity="0.7"/>
<g opacity="1" filter="url(#bl2)"><circle cx="246.8" cy="661" r="1.8" fill="#4a38b8"/><circle cx="248.3" cy="660" r="1.5" fill="#4a38b8"/><circle cx="245.8" cy="662.5" r="1.2" fill="#4a38b8"/></g>
<circle cx="236.1" cy="711.07" r="0.5" fill="#c8c0f0" stroke="none" stroke-width="1" opacity="0.55"/>
<circle cx="258.8" cy="721.92" r="0.5" fill="#c8c0f0" stroke="none" stroke-width="1" opacity="0.55"/>
<circle cx="260.86" cy="708.94" r="0.5" fill="#c8c0f0" stroke="none" stroke-width="1" opacity="0.55"/>
<circle cx="251.74" cy="705.18" r="0.5" fill="#c8c0f0" stroke="none" stroke-width="1" opacity="0.55"/>
<circle cx="233.34" cy="703.41" r="0.5" fill="#c8c0f0" stroke="none" stroke-width="1" opacity="0.55"/>
<circle cx="258.71" cy="711.37" r="0.5" fill="#c8c0f0" stroke="none" stroke-width="1" opacity="0.55"/>
<circle cx="243.72" cy="696.17" r="0.5" fill="#c8c0f0" stroke="none" stroke-width="1" opacity="0.55"/>
<circle cx="246.22" cy="700.96" r="0.5" fill="#c8c0f0" stroke="none" stroke-width="1" opacity="0.55"/>
<circle cx="247.88" cy="714.71" r="0.5" fill="#c8c0f0" stroke="none" stroke-width="1" opacity="0.55"/>
<circle cx="229.15" cy="707.68" r="0.5" fill="#c8c0f0" stroke="none" stroke-width="1" opacity="0.55"/>
<circle cx="233.31" cy="699.4" r="0.5" fill="#c8c0f0" stroke="none" stroke-width="1" opacity="0.55"/>
<circle cx="235.18" cy="719.36" r="0.5" fill="#c8c0f0" stroke="none" stroke-width="1" opacity="0.55"/>
<circle cx="255.63" cy="714.51" r="0.5" fill="#c8c0f0" stroke="none" stroke-width="1" opacity="0.55"/>
<circle cx="239.98" cy="694.01" r="0.5" fill="#c8c0f0" stroke="none" stroke-width="1" opacity="0.55"/>
<circle cx="242.44" cy="711.06" r="0.5" fill="#c8c0f0" stroke="none" stroke-width="1" opacity="0.55"/>
<circle cx="246.49" cy="717.06" r="0.5" fill="#c8c0f0" stroke="none" stroke-width="1" opacity="0.55"/>
<circle cx="244.07" cy="725.17" r="0.5" fill="#c8c0f0" stroke="none" stroke-width="1" opacity="0.55"/>
<circle cx="252.98" cy="725.39" r="0.5" fill="#c8c0f0" stroke="none" stroke-width="1" opacity="0.55"/>
<circle cx="250.63" cy="705.34" r="0.5" fill="#c8c0f0" stroke="none" stroke-width="1" opacity="0.55"/>
<circle cx="237.76" cy="717.59" r="0.5" fill="#c8c0f0" stroke="none" stroke-width="1" opacity="0.55"/>
<circle cx="259.65" cy="710.22" r="0.5" fill="#c8c0f0" stroke="none" stroke-width="1" opacity="0.55"/>
<circle cx="252.69" cy="704.87" r="0.5" fill="#c8c0f0" stroke="none" stroke-width="1" opacity="0.55"/>
<circle cx="241.97" cy="704.62" r="0.5" fill="#c8c0f0" stroke="none" stroke-width="1" opacity="0.55"/>
<circle cx="231.58" cy="699.87" r="0.5" fill="#c8c0f0" stroke="none" stroke-width="1" opacity="0.55"/>
<circle cx="247.9" cy="710.05" r="0.5" fill="#c8c0f0" stroke="none" stroke-width="1" opacity="0.55"/>
<circle cx="259.48" cy="715.39" r="0.5" fill="#c8c0f0" stroke="none" stroke-width="1" opacity="0.55"/>
<circle cx="252.9" cy="709.01" r="0.5" fill="#c8c0f0" stroke="none" stroke-width="1" opacity="0.55"/>
<circle cx="229.17" cy="708.77" r="0.5" fill="#c8c0f0" stroke="none" stroke-width="1" opacity="0.55"/>
<circle cx="236.89" cy="714.17" r="0.5" fill="#c8c0f0" stroke="none" stroke-width="1" opacity="0.55"/>
<circle cx="243.66" cy="703.96" r="0.5" fill="#c8c0f0" stroke="none" stroke-width="1" opacity="0.55"/>
<circle cx="240.48" cy="704.61" r="0.5" fill="#c8c0f0" stroke="none" stroke-width="1" opacity="0.55"/>
<circle cx="232.99" cy="696.64" r="0.5" fill="#c8c0f0" stroke="none" stroke-width="1" opacity="0.55"/>
<circle cx="260.74" cy="713.13" r="0.5" fill="#c8c0f0" stroke="none" stroke-width="1" opacity="0.55"/>
<circle cx="241.64" cy="703.85" r="0.5" fill="#c8c0f0" stroke="none" stroke-width="1" opacity="0.55"/>
<circle cx="245.22" cy="727.23" r="0.5" fill="#c8c0f0" stroke="none" stroke-width="1" opacity="0.55"/>
<circle cx="254.02" cy="708.32" r="0.5" fill="#c8c0f0" stroke="none" stroke-width="1" opacity="0.55"/>
<circle cx="242.28" cy="690.59" r="0.5" fill="#c8c0f0" stroke="none" stroke-width="1" opacity="0.55"/>
<circle cx="248.63" cy="723.2" r="0.5" fill="#c8c0f0" stroke="none" stroke-width="1" opacity="0.55"/>
<circle cx="258.48" cy="711.47" r="0.5" fill="#c8c0f0" stroke="none" stroke-width="1" opacity="0.55"/>
<circle cx="240.7" cy="695.43" r="0.5" fill="#c8c0f0" stroke="none" stroke-width="1" opacity="0.55"/>
<circle cx="248.26" cy="702.87" r="0.5" fill="#c8c0f0" stroke="none" stroke-width="1" opacity="0.55"/>
<circle cx="237.27" cy="722.87" r="0.5" fill="#c8c0f0" stroke="none" stroke-width="1" opacity="0.55"/>
<circle cx="236.38" cy="701.96" r="0.5" fill="#c8c0f0" stroke="none" stroke-width="1" opacity="0.55"/>
<circle cx="231.99" cy="719.28" r="0.5" fill="#c8c0f0" stroke="none" stroke-width="1" opacity="0.55"/>
<circle cx="245.1" cy="707.24" r="0.5" fill="#c8c0f0" stroke="none" stroke-width="1" opacity="0.55"/>
<circle cx="250.73" cy="698.03" r="0.5" fill="#c8c0f0" stroke="none" stroke-width="1" opacity="0.55"/>
<circle cx="239.38" cy="711.96" r="0.5" fill="#c8c0f0" stroke="none" stroke-width="1" opacity="0.55"/>
<circle cx="237.24" cy="712.13" r="0.5" fill="#c8c0f0" stroke="none" stroke-width="1" opacity="0.55"/>
<circle cx="260.19" cy="716.38" r="0.5" fill="#c8c0f0" stroke="none" stroke-width="1" opacity="0.55"/>
<circle cx="260.82" cy="718.55" r="0.5" fill="#c8c0f0" stroke="none" stroke-width="1" opacity="0.55"/>
<circle cx="263.97" cy="711.07" r="0.5" fill="#c8c0f0" stroke="none" stroke-width="1" opacity="0.55"/>
<circle cx="252.14" cy="695.87" r="0.5" fill="#c8c0f0" stroke="none" stroke-width="1" opacity="0.55"/>
<circle cx="245.01" cy="699.24" r="0.5" fill="#c8c0f0" stroke="none" stroke-width="1" opacity="0.55"/>
<circle cx="246.44" cy="696.05" r="0.5" fill="#c8c0f0" stroke="none" stroke-width="1" opacity="0.55"/>
<circle cx="249.63" cy="726.92" r="0.5" fill="#c8c0f0" stroke="none" stroke-width="1" opacity="0.55"/>
<circle cx="237.97" cy="715.17" r="0.5" fill="#c8c0f0" stroke="none" stroke-width="1" opacity="0.55"/>
<circle cx="254.75" cy="699.5" r="0.5" fill="#c8c0f0" stroke="none" stroke-width="1" opacity="0.55"/>
<circle cx="243.51" cy="701.57" r="0.5" fill="#c8c0f0" stroke="none" stroke-width="1" opacity="0.55"/>
<circle cx="252.75" cy="700.35" r="0.5" fill="#c8c0f0" stroke="none" stroke-width="1" opacity="0.55"/>
<circle cx="265.23" cy="714.25" r="0.5" fill="#c8c0f0" stroke="none" stroke-width="1" opacity="0.55"/>
<circle cx="256.02" cy="724.75" r="0.5" fill="#c8c0f0" stroke="none" stroke-width="1" opacity="0.55"/>
<circle cx="262.14" cy="707.12" r="0.5" fill="#c8c0f0" stroke="none" stroke-width="1" opacity="0.55"/>
<circle cx="252.08" cy="708.75" r="0.5" fill="#c8c0f0" stroke="none" stroke-width="1" opacity="0.55"/>
<circle cx="250.45" cy="719.85" r="0.5" fill="#c8c0f0" stroke="none" stroke-width="1" opacity="0.55"/>
<circle cx="233.12" cy="696.35" r="0.5" fill="#c8c0f0" stroke="none" stroke-width="1" opacity="0.55"/>
<circle cx="243.05" cy="714.04" r="0.5" fill="#c8c0f0" stroke="none" stroke-width="1" opacity="0.55"/>
<circle cx="240.89" cy="705.73" r="0.5" fill="#c8c0f0" stroke="none" stroke-width="1" opacity="0.55"/>
<circle cx="259.52" cy="715.73" r="0.5" fill="#c8c0f0" stroke="none" stroke-width="1" opacity="0.55"/>
<circle cx="245.78" cy="703.81" r="0.5" fill="#c8c0f0" stroke="none" stroke-width="1" opacity="0.55"/>
<circle cx="232.2" cy="713.19" r="0.5" fill="#c8c0f0" stroke="none" stroke-width="1" opacity="0.55"/>
<circle cx="248.45" cy="696.69" r="0.5" fill="#c8c0f0" stroke="none" stroke-width="1" opacity="0.55"/>
<circle cx="253.33" cy="703.31" r="0.5" fill="#c8c0f0" stroke="none" stroke-width="1" opacity="0.55"/>
<circle cx="243.81" cy="692.1" r="0.5" fill="#c8c0f0" stroke="none" stroke-width="1" opacity="0.55"/>
<circle cx="257.15" cy="699.27" r="0.5" fill="#c8c0f0" stroke="none" stroke-width="1" opacity="0.55"/>
<circle cx="250.8" cy="710.84" r="0.5" fill="#c8c0f0" stroke="none" stroke-width="1" opacity="0.55"/>
<circle cx="239.62" cy="706.97" r="0.5" fill="#c8c0f0" stroke="none" stroke-width="1" opacity="0.55"/>
<circle cx="243.62" cy="704.39" r="0.5" fill="#c8c0f0" stroke="none" stroke-width="1" opacity="0.55"/>
<circle cx="249.09" cy="699.6" r="0.5" fill="#c8c0f0" stroke="none" stroke-width="1" opacity="0.55"/>
<circle cx="255.34" cy="709.05" r="0.5" fill="#c8c0f0" stroke="none" stroke-width="1" opacity="0.55"/>
<circle cx="233.71" cy="712.22" r="0.5" fill="#c8c0f0" stroke="none" stroke-width="1" opacity="0.55"/>
<circle cx="241.36" cy="713.5" r="0.5" fill="#c8c0f0" stroke="none" stroke-width="1" opacity="0.55"/>
<circle cx="229.03" cy="710.48" r="0.5" fill="#c8c0f0" stroke="none" stroke-width="1" opacity="0.55"/>
<circle cx="229.42" cy="704.33" r="0.5" fill="#c8c0f0" stroke="none" stroke-width="1" opacity="0.55"/>
<circle cx="266.03" cy="711.8" r="0.5" fill="#c8c0f0" stroke="none" stroke-width="1" opacity="0.55"/>
<circle cx="258.14" cy="699.4" r="0.5" fill="#c8c0f0" stroke="none" stroke-width="1" opacity="0.55"/>
<circle cx="233.63" cy="706.35" r="0.5" fill="#c8c0f0" stroke="none" stroke-width="1" opacity="0.55"/>
<circle cx="251.5" cy="705.78" r="0.5" fill="#c8c0f0" stroke="none" stroke-width="1" opacity="0.55"/>
<circle cx="238.67" cy="697.46" r="0.5" fill="#c8c0f0" stroke="none" stroke-width="1" opacity="0.55"/>
<circle cx="242.37" cy="723.78" r="0.5" fill="#c8c0f0" stroke="none" stroke-width="1" opacity="0.55"/>
<circle cx="246.28" cy="702.4" r="0.5" fill="#c8c0f0" stroke="none" stroke-width="1" opacity="0.55"/>
<line x1="308.7" y1="638.2" x2="308.7" y2="733.3" stroke="#8a8a8a" stroke-width="0.9"/>
<line x1="308.7" y1="733.3" x2="371" y2="733.3" stroke="#8a8a8a" stroke-width="0.9"/>
<line x1="306.3" y1="733.3" x2="308.7" y2="733.3" stroke="#8a8a8a" stroke-width="0.9"/>
<text x="305.7" y="735.42" font-size="7.2" text-anchor="end" fill="#333" stroke="#333" stroke-width="0.16">0</text>
<line x1="306.3" y1="701.6" x2="308.7" y2="701.6" stroke="#8a8a8a" stroke-width="0.9"/>
<text x="305.7" y="703.72" font-size="7.2" text-anchor="end" fill="#333" stroke="#333" stroke-width="0.16">5</text>
<line x1="306.3" y1="669.9" x2="308.7" y2="669.9" stroke="#8a8a8a" stroke-width="0.9"/>
<text x="305.7" y="672.02" font-size="7.2" text-anchor="end" fill="#333" stroke="#333" stroke-width="0.16">10</text>
<line x1="306.3" y1="638.2" x2="308.7" y2="638.2" stroke="#8a8a8a" stroke-width="0.9"/>
<text x="305.7" y="640.32" font-size="7.2" text-anchor="end" fill="#333" stroke="#333" stroke-width="0.16">15</text>
<rect x="321.9" y="727.66" width="12.3" height="5.64" fill="#ee9ea2" stroke="#e04850" stroke-width="1.4"/>
<line x1="328.05" y1="733.3" x2="328.05" y2="735.5" stroke="#8a8a8a" stroke-width="0.8"/>
<circle cx="328.05" cy="726.96" r="0.8" fill="#fff" stroke="#e04850" stroke-width="0.4"/>
<rect x="347.8" y="664.26" width="11.3" height="69.04" fill="#d41c7c" stroke="#c8106e" stroke-width="1.4"/>
<line x1="353.45" y1="733.3" x2="353.45" y2="735.5" stroke="#8a8a8a" stroke-width="0.8"/>
<line x1="353.45" y1="661.66" x2="353.45" y2="663.56" stroke="#c8106e" stroke-width="0.9"/>
<line x1="350.65" y1="661.66" x2="356.25" y2="661.66" stroke="#c8106e" stroke-width="0.9"/>
<line x1="353.45" y1="663.56" x2="353.45" y2="665.46" stroke="#fff" stroke-width="0.6" opacity="0.6"/>
<circle cx="353.45" cy="662.29" r="0.8" fill="#fff" stroke="#c8106e" stroke-width="0.4"/>
<circle cx="353.45" cy="666.1" r="0.8" fill="#fff" stroke="#c8106e" stroke-width="0.4"/>
<path d="M327.9 725 L327.9 649.4 L353.4 649.4 L353.4 661" fill="none" stroke="#666" stroke-width="0.8"/>
<path d="M333.15 641.85 L333.77 643.45 L335.48 643.54 L334.15 644.62 L334.59 646.28 L333.15 645.35 L331.71 646.28 L332.15 644.62 L330.82 643.54 L332.53 643.45Z" fill="#111" stroke="#111" stroke-width="0.35"/>
<path d="M338.25 641.85 L338.87 643.45 L340.58 643.54 L339.25 644.62 L339.69 646.28 L338.25 645.35 L336.81 646.28 L337.25 644.62 L335.92 643.54 L337.63 643.45Z" fill="#111" stroke="#111" stroke-width="0.35"/>
<path d="M343.35 641.85 L343.97 643.45 L345.68 643.54 L344.35 644.62 L344.79 646.28 L343.35 645.35 L341.91 646.28 L342.35 644.62 L341.02 643.54 L342.73 643.45Z" fill="#111" stroke="#111" stroke-width="0.35"/>
<path d="M348.45 641.85 L349.07 643.45 L350.78 643.54 L349.45 644.62 L349.89 646.28 L348.45 645.35 L347.01 646.28 L347.45 644.62 L346.12 643.54 L347.83 643.45Z" fill="#111" stroke="#111" stroke-width="0.35"/>
<text x="327.7" y="744.43" font-size="7.5" text-anchor="middle" fill="#222" stroke="#222" stroke-width="0.18">WT</text>
<text x="353.2" y="744.43" font-size="7.5" text-anchor="middle" fill="#222" stroke="#222" stroke-width="0.18">OE</text>
<text x="291.8" y="688" font-size="8.3" text-anchor="middle" fill="#333" stroke="#333" stroke-width="0.25" transform="rotate(-90 291.8 688)">Relative colony formation</text>
<text x="399.65" y="584.6" font-size="12.9" font-weight="bold" stroke="#000" stroke-width="0.5" transform="translate(399.65 0) scale(1.03 1) translate(-399.65 0)">L</text>
<text x="426" y="583.85" font-size="10.9" text-anchor="start" fill="#111" stroke="#111" stroke-width="0.2">LNCaP/MUC1-C OE</text>
<text x="419" y="635.53" font-size="8.3" text-anchor="middle" fill="#111" stroke="#111" stroke-width="0.25">WT</text>
<text x="419" y="709.03" font-size="8.3" text-anchor="middle" fill="#111" stroke="#111" stroke-width="0.25">OE</text>
<rect x="430.5" y="599.3" width="96" height="70.8" fill="url(#gLw)" stroke="none" stroke-width="1"/>
<path d="M474.07 619.01 Q473.65 619.5 473.75 619.86 Q473.85 620.23 473.58 620.64 Q473.31 621.05 472.65 621.13 Q472 621.22 471.36 621.11 Q470.72 621.01 470.45 620.61 Q470.18 620.22 469.76 619.86 Q469.34 619.5 469.69 619.12 Q470.05 618.73 470.64 618.66 Q471.22 618.58 471.61 618.31 Q472 618.05 472.38 618.33 Q472.75 618.61 473.62 618.57 Q474.48 618.52 474.07 619.01 Z" fill="#8a8a8a" stroke="#666" stroke-width="0.6" filter="url(#bl2)"/>
<path d="M477.49 616.53 Q477.4 617 477.06 617.28 Q476.73 617.55 476.71 618.08 Q476.69 618.61 476.1 618.71 Q475.5 618.82 475.06 618.5 Q474.62 618.18 474.19 617.98 Q473.76 617.78 473.91 617.39 Q474.06 617 474.15 616.72 Q474.24 616.44 474.49 616.2 Q474.73 615.97 475.12 615.69 Q475.5 615.41 475.86 615.72 Q476.22 616.03 476.9 616.05 Q477.57 616.07 477.49 616.53 Z" fill="#8a8a8a" stroke="#666" stroke-width="0.6" filter="url(#bl2)"/>
<path d="M485.82 612.15 Q485.75 612.5 485.85 612.88 Q485.94 613.26 485.66 613.34 Q485.38 613.43 485.19 613.77 Q485 614.11 484.73 613.96 Q484.46 613.8 484.33 613.47 Q484.2 613.14 484.06 612.82 Q483.92 612.5 484.01 612.13 Q484.09 611.77 484.38 611.72 Q484.66 611.68 484.83 611.37 Q485 611.07 485.27 611.13 Q485.54 611.19 485.71 611.49 Q485.88 611.79 485.82 612.15 Z" fill="#8a8a8a" stroke="#666" stroke-width="0.6" filter="url(#bl2)"/>
<path d="M487.18 615.78 Q487.6 616 487.3 616.29 Q487.01 616.58 486.85 616.89 Q486.69 617.2 486.35 617.3 Q486 617.4 485.76 617.11 Q485.52 616.83 485.39 616.63 Q485.27 616.42 484.99 616.21 Q484.71 616 484.97 615.78 Q485.24 615.56 485.34 615.3 Q485.45 615.05 485.72 614.76 Q486 614.47 486.38 614.58 Q486.76 614.69 486.76 615.13 Q486.76 615.56 487.18 615.78 Z" fill="#8a8a8a" stroke="#666" stroke-width="0.6" filter="url(#bl2)"/>
<path d="M443.78 631.56 Q444.14 632 443.91 632.5 Q443.68 633.01 443.17 633.31 Q442.66 633.61 442.08 633.45 Q441.5 633.29 441.06 633.26 Q440.62 633.22 440.06 633.07 Q439.51 632.92 439.29 632.46 Q439.07 632 439.71 631.74 Q440.35 631.47 440.54 631.2 Q440.73 630.94 441.12 630.45 Q441.5 629.96 441.87 630.47 Q442.23 630.98 442.83 631.05 Q443.42 631.11 443.78 631.56 Z" fill="#8a8a8a" stroke="#666" stroke-width="0.6" filter="url(#bl2)"/>
<path d="M471.06 649 Q471.27 649.5 470.93 649.9 Q470.58 650.3 470.46 650.84 Q470.34 651.38 469.92 651.62 Q469.5 651.87 469.2 651.36 Q468.89 650.85 468.48 650.71 Q468.06 650.57 468.16 650.03 Q468.26 649.5 468.42 649.16 Q468.57 648.81 468.72 648.46 Q468.87 648.11 469.19 647.75 Q469.5 647.38 469.76 647.85 Q470.03 648.33 470.44 648.41 Q470.85 648.5 471.06 649 Z" fill="#8a8a8a" stroke="#666" stroke-width="0.6" filter="url(#bl2)"/>
<path d="M471.79 654.11 Q472.07 654.5 472.03 655.01 Q472 655.52 471.3 655.47 Q470.6 655.42 470.3 656.01 Q470 656.6 469.45 656.4 Q468.9 656.2 468.91 655.62 Q468.92 655.05 468.37 654.78 Q467.81 654.5 467.96 654.01 Q468.11 653.53 468.7 653.47 Q469.3 653.42 469.65 652.89 Q470 652.37 470.41 652.81 Q470.81 653.25 471.16 653.49 Q471.51 653.73 471.79 654.11 Z" fill="#8a8a8a" stroke="#666" stroke-width="0.6" filter="url(#bl2)"/>
<line x1="517.5" y1="665.1" x2="523.5" y2="665.1" stroke="#444" stroke-width="0.5"/>
<text x="520.5" y="662.6" font-size="2.2" text-anchor="middle" fill="#444">100μM</text>
<rect x="430.5" y="599.3" width="96" height="70.8" fill="none" stroke="#e2a6d6" stroke-width="1"/>
<rect x="430.5" y="671.2" width="96" height="71.1" fill="url(#gL)" stroke="none" stroke-width="1"/>
<path d="M463.05 687.15 Q462.73 688 462.74 688.69 Q462.74 689.39 462.52 690.43 Q462.29 691.47 461.15 691.05 Q460 690.62 458.75 691.21 Q457.5 691.79 457.3 690.63 Q457.1 689.46 457.23 688.73 Q457.37 688 457.02 687.16 Q456.68 686.32 457.57 686 Q458.47 685.68 459.23 685.68 Q460 685.69 460.84 685.56 Q461.69 685.44 462.53 685.87 Q463.37 686.3 463.05 687.15 Z" fill="#939393" stroke="#727272" stroke-width="0.6" filter="url(#bl2)"/>
<path d="M469.53 690.25 Q469.64 691 469.78 691.88 Q469.92 692.76 468.94 693.01 Q467.97 693.26 467.23 693.83 Q466.5 694.39 465.18 694.73 Q463.85 695.08 462.96 694.17 Q462.07 693.27 462.08 692.14 Q462.09 691 462 689.82 Q461.91 688.64 463.12 688.15 Q464.33 687.65 465.41 686.82 Q466.5 685.98 467.71 686.62 Q468.92 687.27 469.17 688.39 Q469.41 689.5 469.53 690.25 Z" fill="#939393" stroke="#727272" stroke-width="0.6" filter="url(#bl2)"/>
<path d="M473.16 685.5 Q473.58 686 473.28 686.55 Q472.98 687.1 472.35 687.36 Q471.72 687.62 471.11 687.6 Q470.5 687.58 469.77 687.76 Q469.04 687.95 468.27 687.64 Q467.51 687.33 467.77 686.66 Q468.03 686 467.86 685.38 Q467.7 684.75 468.66 684.79 Q469.62 684.83 470.06 684.4 Q470.5 683.96 471.01 684.3 Q471.53 684.63 472.14 684.82 Q472.74 685 473.16 685.5 Z" fill="#939393" stroke="#727272" stroke-width="0.6" filter="url(#bl2)"/>
<path d="M460.83 683.55 Q460.93 684 461.29 684.77 Q461.65 685.55 461.11 685.93 Q460.57 686.32 460.04 686.16 Q459.5 686 458.9 686.29 Q458.3 686.59 457.98 685.96 Q457.65 685.33 457.35 684.67 Q457.04 684 457.34 683.33 Q457.63 682.65 457.99 682.07 Q458.34 681.5 458.92 681.26 Q459.5 681.02 459.95 681.54 Q460.39 682.07 460.57 682.59 Q460.74 683.1 460.83 683.55 Z" fill="#939393" stroke="#727272" stroke-width="0.6" filter="url(#bl2)"/>
<path d="M483.04 680.33 Q482.97 681 482.47 681.43 Q481.97 681.85 481.83 682.53 Q481.69 683.2 480.85 682.99 Q480 682.78 479.21 682.92 Q478.42 683.05 477.99 682.56 Q477.55 682.06 476.96 681.53 Q476.36 681 477.13 680.54 Q477.89 680.09 477.88 679.16 Q477.88 678.24 478.94 678.78 Q480 679.32 480.56 679.43 Q481.12 679.55 482.11 679.6 Q483.11 679.65 483.04 680.33 Z" fill="#939393" stroke="#727272" stroke-width="0.6" filter="url(#bl2)"/>
<path d="M489.58 682.5 Q489.24 683.5 489.33 684.37 Q489.41 685.24 488.58 685.7 Q487.74 686.16 486.87 686.33 Q486 686.49 484.95 686.59 Q483.91 686.7 483.77 685.7 Q483.62 684.71 482.55 684.11 Q481.47 683.5 482.24 682.74 Q483.02 681.98 483.9 681.81 Q484.78 681.63 485.39 680.82 Q486 680 486.69 680.7 Q487.38 681.4 488.65 681.45 Q489.92 681.5 489.58 682.5 Z" fill="#939393" stroke="#727272" stroke-width="0.6" filter="url(#bl2)"/>
<path d="M473.25 703.68 Q472.45 705 472.66 705.97 Q472.87 706.94 472.49 708.24 Q472.12 709.54 470.81 710.06 Q469.5 710.58 468.06 710.28 Q466.63 709.98 465.47 708.99 Q464.31 707.99 465.15 706.5 Q465.99 705 466.13 704.06 Q466.26 703.13 466.73 702.08 Q467.21 701.03 468.35 700.53 Q469.5 700.03 470.38 700.98 Q471.27 701.94 472.66 702.15 Q474.06 702.37 473.25 703.68 Z" fill="#939393" stroke="#727272" stroke-width="0.6" filter="url(#bl2)"/>
<path d="M471.26 699.07 Q471.51 699.5 471.48 700.12 Q471.45 700.73 471.19 701.3 Q470.94 701.88 470.47 701.57 Q470 701.27 469.71 701.11 Q469.43 700.95 468.99 700.84 Q468.54 700.73 468.6 700.12 Q468.66 699.5 468.59 698.87 Q468.52 698.25 468.8 697.69 Q469.07 697.13 469.53 697.55 Q470 697.98 470.34 697.88 Q470.68 697.77 470.84 698.21 Q471.01 698.65 471.26 699.07 Z" fill="#939393" stroke="#727272" stroke-width="0.6" filter="url(#bl2)"/>
<path d="M486.73 702.5 Q486.88 703.5 487.26 704.85 Q487.64 706.19 486.26 706.19 Q484.88 706.19 484.19 707.56 Q483.5 708.94 482.67 707.83 Q481.84 706.73 480.86 706.29 Q479.88 705.85 479.23 704.68 Q478.58 703.5 479.6 702.57 Q480.63 701.63 480.94 700.37 Q481.25 699.11 482.37 698.32 Q483.5 697.53 484.59 698.38 Q485.69 699.24 486.14 700.37 Q486.59 701.5 486.73 702.5 Z" fill="#939393" stroke="#727272" stroke-width="0.6" filter="url(#bl2)"/>
<path d="M494.45 699.44 Q495.37 700 494.4 700.53 Q493.42 701.07 493.6 702.37 Q493.78 703.67 492.39 703.2 Q491 702.72 489.85 702.88 Q488.69 703.05 488.43 702.15 Q488.17 701.24 487.68 700.62 Q487.2 700 487.01 699.08 Q486.82 698.16 487.55 697.28 Q488.27 696.4 489.63 696.8 Q491 697.2 491.83 697.5 Q492.66 697.81 493.1 698.34 Q493.54 698.88 494.45 699.44 Z" fill="#939393" stroke="#727272" stroke-width="0.6" filter="url(#bl2)"/>
<path d="M500.49 698.69 Q500.26 699.5 500.34 700.23 Q500.43 700.96 499.83 701.54 Q499.24 702.11 498.37 702.02 Q497.5 701.93 496.92 701.58 Q496.35 701.23 496.06 700.8 Q495.77 700.36 495.36 699.93 Q494.94 699.5 495.34 699.06 Q495.74 698.62 496.06 698.22 Q496.38 697.82 496.94 697.32 Q497.5 696.83 498.24 697.05 Q498.98 697.27 499.86 697.58 Q500.73 697.88 500.49 698.69 Z" fill="#939393" stroke="#727272" stroke-width="0.6" filter="url(#bl2)"/>
<path d="M488.04 708.81 Q488.09 709.5 488.06 710.2 Q488.02 710.9 487.34 710.89 Q486.66 710.88 486.33 711.71 Q486 712.54 485.45 712.16 Q484.91 711.77 484.5 711.3 Q484.08 710.83 483.8 710.16 Q483.52 709.5 483.99 708.97 Q484.46 708.43 484.62 707.71 Q484.79 706.99 485.4 706.89 Q486 706.8 486.37 707.38 Q486.74 707.96 487.36 708.04 Q487.98 708.13 488.04 708.81 Z" fill="#939393" stroke="#727272" stroke-width="0.6" filter="url(#bl2)"/>
<path d="M523.33 703.98 Q523.84 704.5 524.25 705.44 Q524.67 706.37 523.61 706.82 Q522.56 707.27 521.53 706.86 Q520.5 706.44 519.56 706.73 Q518.63 707.02 518.38 706.29 Q518.13 705.56 518.09 705.03 Q518.04 704.5 517.36 703.64 Q516.67 702.78 517.38 702.02 Q518.09 701.25 519.29 701.45 Q520.5 701.66 521.49 701.75 Q522.48 701.84 522.65 702.65 Q522.82 703.46 523.33 703.98 Z" fill="#939393" stroke="#727272" stroke-width="0.6" filter="url(#bl2)"/>
<path d="M525.6 701.51 Q525.51 702 525.45 702.4 Q525.39 702.8 525.03 702.98 Q524.66 703.15 524.33 703.52 Q524 703.88 523.5 703.81 Q522.99 703.75 522.75 703.31 Q522.5 702.87 522.36 702.43 Q522.21 702 522.23 701.49 Q522.24 700.99 522.72 700.8 Q523.2 700.61 523.6 700.42 Q524 700.23 524.52 700.22 Q525.04 700.21 525.36 700.62 Q525.69 701.02 525.6 701.51 Z" fill="#939393" stroke="#727272" stroke-width="0.6" filter="url(#bl2)"/>
<path d="M472.85 737.05 Q473.56 738 472.98 739.01 Q472.39 740.02 471.52 740.69 Q470.65 741.35 469.57 741.99 Q468.5 742.63 467.3 742.18 Q466.1 741.74 465.56 740.77 Q465.02 739.81 465.06 738.9 Q465.1 738 465.08 737.1 Q465.05 736.21 465.16 734.59 Q465.27 732.97 466.89 732.57 Q468.5 732.17 469.91 732.9 Q471.31 733.62 471.73 734.86 Q472.14 736.11 472.85 737.05 Z" fill="#939393" stroke="#727272" stroke-width="0.6" filter="url(#bl2)"/>
<path d="M479.8 733.86 Q479.72 735 480.6 736.78 Q481.48 738.56 479.96 738.49 Q478.44 738.43 477.72 739.05 Q477 739.68 476.29 739.03 Q475.58 738.38 475.12 737.62 Q474.65 736.86 474 735.93 Q473.35 735 473.23 733.46 Q473.11 731.91 473.84 730.56 Q474.56 729.2 475.78 729.17 Q477 729.14 478.23 729.14 Q479.46 729.15 479.67 730.93 Q479.88 732.72 479.8 733.86 Z" fill="#939393" stroke="#727272" stroke-width="0.6" filter="url(#bl2)"/>
<path d="M482.9 725.92 Q483.13 727 482.75 727.96 Q482.38 728.92 481.91 729.7 Q481.43 730.47 480.72 730.46 Q480 730.44 479.43 730.11 Q478.86 729.77 478.29 729.31 Q477.72 728.84 477.82 727.92 Q477.92 727 477.57 725.87 Q477.21 724.75 477.96 724.31 Q478.71 723.88 479.36 723.29 Q480 722.7 480.61 723.37 Q481.22 724.05 481.95 724.44 Q482.68 724.83 482.9 725.92 Z" fill="#939393" stroke="#727272" stroke-width="0.6" filter="url(#bl2)"/>
<path d="M479.03 740.6 Q480.61 741 479.07 741.41 Q477.53 741.81 476.8 742.12 Q476.07 742.43 475.03 742.54 Q474 742.65 472.89 742.59 Q471.78 742.54 471.07 742.19 Q470.37 741.84 469.99 741.42 Q469.62 741 469.23 740.41 Q468.85 739.81 470.24 739.59 Q471.63 739.36 472.82 739.12 Q474 738.88 475.44 738.95 Q476.88 739.01 477.17 739.6 Q477.46 740.2 479.03 740.6 Z" fill="#939393" stroke="#727272" stroke-width="0.6" filter="url(#bl2)"/>
<path d="M510.33 738.88 Q510.73 739.5 510.1 740.04 Q509.46 740.59 509.54 741.75 Q509.61 742.91 507.81 742.55 Q506 742.18 504.91 741.87 Q503.82 741.56 501.84 741.5 Q499.87 741.43 501.05 740.47 Q502.24 739.5 501.34 738.63 Q500.44 737.75 501.99 737.46 Q503.54 737.18 504.77 737.16 Q506 737.14 507.21 737.17 Q508.42 737.21 509.18 737.74 Q509.93 738.26 510.33 738.88 Z" fill="#939393" stroke="#727272" stroke-width="0.6" filter="url(#bl2)"/>
<path d="M519.81 737.21 Q520.69 738 519.77 738.78 Q518.85 739.55 517.77 739.8 Q516.7 740.06 515.85 741.04 Q515 742.02 514.1 741.11 Q513.19 740.19 512.26 739.84 Q511.32 739.49 510.94 738.74 Q510.56 738 509.89 736.83 Q509.22 735.66 511.26 735.8 Q513.3 735.94 514.15 735.77 Q515 735.59 516.5 734.98 Q517.99 734.37 518.46 735.39 Q518.92 736.42 519.81 737.21 Z" fill="#939393" stroke="#727272" stroke-width="0.6" filter="url(#bl2)"/>
<path d="M525.28 732.12 Q526.02 733 525.32 733.91 Q524.61 734.83 524.17 735.52 Q523.74 736.21 523.12 736.51 Q522.5 736.8 521.8 736.71 Q521.1 736.63 520.51 735.93 Q519.92 735.23 519.49 734.12 Q519.06 733 519.72 732.08 Q520.38 731.17 520.48 729.59 Q520.58 728.02 521.54 728.43 Q522.5 728.84 523.19 729.13 Q523.88 729.42 524.21 730.32 Q524.54 731.23 525.28 732.12 Z" fill="#939393" stroke="#727272" stroke-width="0.6" filter="url(#bl2)"/>
<path d="M525.27 725.68 Q525.14 726.5 524.94 727.04 Q524.74 727.57 524.54 728.14 Q524.35 728.7 523.92 729.44 Q523.5 730.18 523.09 729.39 Q522.69 728.61 522.07 728.44 Q521.45 728.28 521.58 727.39 Q521.7 726.5 521.77 725.78 Q521.83 725.05 522.09 724.29 Q522.36 723.53 522.93 723.97 Q523.5 724.41 524.13 723.83 Q524.75 723.25 525.07 724.06 Q525.39 724.87 525.27 725.68 Z" fill="#939393" stroke="#727272" stroke-width="0.6" filter="url(#bl2)"/>
<line x1="517.5" y1="737.3" x2="523.5" y2="737.3" stroke="#444" stroke-width="0.5"/>
<text x="520.5" y="734.8" font-size="2.2" text-anchor="middle" fill="#444">100μM</text>
<rect x="430.5" y="671.2" width="96" height="71.1" fill="none" stroke="#d84aa6" stroke-width="1"/>
<line x1="561.8" y1="636.6" x2="561.8" y2="723.4" stroke="#8a8a8a" stroke-width="0.9"/>
<line x1="561.8" y1="723.4" x2="620.3" y2="723.4" stroke="#8a8a8a" stroke-width="0.9"/>
<line x1="559.4" y1="723.4" x2="561.8" y2="723.4" stroke="#8a8a8a" stroke-width="0.9"/>
<text x="558.8" y="725.67" font-size="7.6" text-anchor="end" fill="#333" stroke="#333" stroke-width="0.19">0</text>
<line x1="559.4" y1="694.47" x2="561.8" y2="694.47" stroke="#8a8a8a" stroke-width="0.9"/>
<text x="558.8" y="696.74" font-size="7.6" text-anchor="end" fill="#333" stroke="#333" stroke-width="0.19">20</text>
<line x1="559.4" y1="665.54" x2="561.8" y2="665.54" stroke="#8a8a8a" stroke-width="0.9"/>
<text x="558.8" y="667.81" font-size="7.6" text-anchor="end" fill="#333" stroke="#333" stroke-width="0.19">40</text>
<line x1="559.4" y1="636.61" x2="561.8" y2="636.61" stroke="#8a8a8a" stroke-width="0.9"/>
<text x="558.8" y="638.88" font-size="7.6" text-anchor="end" fill="#333" stroke="#333" stroke-width="0.19">60</text>
<rect x="570.4" y="713.97" width="13.5" height="9.43" fill="#ee9ea2" stroke="#e04850" stroke-width="1.4"/>
<line x1="577.15" y1="723.4" x2="577.15" y2="725.6" stroke="#8a8a8a" stroke-width="0.8"/>
<line x1="577.15" y1="710.96" x2="577.15" y2="713.27" stroke="#e04850" stroke-width="0.9"/>
<line x1="574.35" y1="710.96" x2="579.95" y2="710.96" stroke="#e04850" stroke-width="0.9"/>
<line x1="577.15" y1="713.27" x2="577.15" y2="715.59" stroke="#fff" stroke-width="0.6" opacity="0.6"/>
<circle cx="577.15" cy="711.1" r="0.8" fill="#fff" stroke="#e04850" stroke-width="0.4"/>
<circle cx="577.15" cy="714.72" r="0.8" fill="#fff" stroke="#e04850" stroke-width="0.4"/>
<rect x="599.4" y="650.33" width="13.4" height="73.07" fill="#d41c7c" stroke="#c8106e" stroke-width="1.4"/>
<line x1="606.1" y1="723.4" x2="606.1" y2="725.6" stroke="#8a8a8a" stroke-width="0.8"/>
<line x1="606.1" y1="643.12" x2="606.1" y2="649.63" stroke="#c8106e" stroke-width="0.9"/>
<line x1="603.3" y1="643.12" x2="608.9" y2="643.12" stroke="#c8106e" stroke-width="0.9"/>
<line x1="606.1" y1="649.63" x2="606.1" y2="656.14" stroke="#fff" stroke-width="0.6" opacity="0.6"/>
<circle cx="606.1" cy="643.84" r="0.8" fill="#fff" stroke="#c8106e" stroke-width="0.4"/>
<circle cx="606.1" cy="649.63" r="0.8" fill="#fff" stroke="#c8106e" stroke-width="0.4"/>
<circle cx="606.1" cy="655.41" r="0.8" fill="#fff" stroke="#c8106e" stroke-width="0.4"/>
<path d="M576.2 703 L576.2 631.2 L606.2 631.2 L606.2 644" fill="none" stroke="#666" stroke-width="0.8"/>
<path d="M586.8 624.25 L587.42 625.85 L589.13 625.94 L587.8 627.02 L588.24 628.68 L586.8 627.75 L585.36 628.68 L585.8 627.02 L584.47 625.94 L586.18 625.85Z" fill="#111" stroke="#111" stroke-width="0.35"/>
<path d="M591.9 624.25 L592.52 625.85 L594.23 625.94 L592.9 627.02 L593.34 628.68 L591.9 627.75 L590.46 628.68 L590.9 627.02 L589.57 625.94 L591.28 625.85Z" fill="#111" stroke="#111" stroke-width="0.35"/>
<path d="M597 624.25 L597.62 625.85 L599.33 625.94 L598 627.02 L598.44 628.68 L597 627.75 L595.56 628.68 L596 627.02 L594.67 625.94 L596.38 625.85Z" fill="#111" stroke="#111" stroke-width="0.35"/>
<text x="577" y="732.87" font-size="7.6" text-anchor="middle" fill="#222" stroke="#222" stroke-width="0.19">WT</text>
<text x="606" y="732.87" font-size="7.6" text-anchor="middle" fill="#222" stroke="#222" stroke-width="0.19">OE</text>
<text x="542.6" y="680" font-size="8.2" text-anchor="middle" fill="#333" stroke="#333" stroke-width="0.24" transform="rotate(-90 542.6 680)">Tumorsphere formation</text>
<text x="2.85" y="764.5" font-size="12.9" font-weight="bold" stroke="#000" stroke-width="0.5" transform="translate(2.85 0) scale(1.03 1) translate(-2.85 0)">M</text>
<text x="69.8" y="766.92" font-size="11" text-anchor="start" fill="#111" stroke="#111" stroke-width="0.2">LNCaP-ER/tet-MUC1shRNA</text>
<line x1="87.2" y1="777.4" x2="87.2" y2="874.1" stroke="#8a8a8a" stroke-width="0.9"/>
<line x1="87.2" y1="874.1" x2="232" y2="874.1" stroke="#8a8a8a" stroke-width="0.9"/>
<line x1="84.2" y1="874.1" x2="87.2" y2="874.1" stroke="#8a8a8a" stroke-width="0.9"/>
<text x="82.8" y="876.37" font-size="7.6" text-anchor="end" fill="#333" stroke="#333" stroke-width="0.19">0</text>
<line x1="84.2" y1="841.9" x2="87.2" y2="841.9" stroke="#8a8a8a" stroke-width="0.9"/>
<text x="82.8" y="844.17" font-size="7.6" text-anchor="end" fill="#333" stroke="#333" stroke-width="0.19">50</text>
<line x1="84.2" y1="809.7" x2="87.2" y2="809.7" stroke="#8a8a8a" stroke-width="0.9"/>
<text x="82.8" y="811.97" font-size="7.6" text-anchor="end" fill="#333" stroke="#333" stroke-width="0.19">100</text>
<line x1="84.2" y1="777.5" x2="87.2" y2="777.5" stroke="#8a8a8a" stroke-width="0.9"/>
<text x="82.8" y="779.77" font-size="7.6" text-anchor="end" fill="#333" stroke="#333" stroke-width="0.19">150</text>
<line x1="141.2" y1="874.1" x2="141.2" y2="878.5" stroke="#333" stroke-width="1.1"/>
<text x="141.2" y="885.97" font-size="7.6" text-anchor="middle" fill="#333" stroke="#333" stroke-width="0.19">1</text>
<line x1="186.5" y1="874.1" x2="186.5" y2="878.5" stroke="#333" stroke-width="1.1"/>
<text x="186.5" y="885.97" font-size="7.6" text-anchor="middle" fill="#333" stroke="#333" stroke-width="0.19">10</text>
<line x1="231.8" y1="874.1" x2="231.8" y2="878.5" stroke="#333" stroke-width="1.1"/>
<text x="231.8" y="885.97" font-size="7.6" text-anchor="middle" fill="#333" stroke="#333" stroke-width="0.19">100</text>
<text x="159" y="897.68" font-size="7.9" text-anchor="middle" fill="#222" stroke="#222" stroke-width="0.22">ENZ (μM)</text>
<text x="59.4" y="821.6" font-size="8.2" text-anchor="middle" fill="#333" stroke="#333" stroke-width="0.24" transform="rotate(-90 59.4 821.6)">Relative cell number</text>
<text x="67.2" y="821.6" font-size="8.2" text-anchor="middle" fill="#333" stroke="#333" stroke-width="0.24" transform="rotate(-90 67.2 821.6)">(% Control)</text>
<path d="M91.01 809.7 L92.1 809.7 L93.19 809.7 L94.29 809.7 L95.38 809.7 L96.47 809.7 L97.56 809.7 L98.65 809.7 L99.74 809.7 L100.83 809.7 L101.92 809.7 L103.02 809.7 L104.11 809.7 L105.2 809.7 L106.29 809.7 L107.38 809.7 L108.47 809.7 L109.56 809.7 L110.65 809.7 L111.75 809.71 L112.84 809.71 L113.93 809.71 L115.02 809.71 L116.11 809.71 L117.2 809.71 L118.29 809.71 L119.38 809.71 L120.48 809.72 L121.57 809.72 L122.66 809.72 L123.75 809.73 L124.84 809.73 L125.93 809.73 L127.02 809.74 L128.11 809.75 L129.21 809.75 L130.3 809.76 L131.39 809.77 L132.48 809.78 L133.57 809.8 L134.66 809.81 L135.75 809.83 L136.84 809.85 L137.94 809.87 L139.03 809.9 L140.12 809.93 L141.21 809.96 L142.3 810 L143.39 810.05 L144.48 810.1 L145.57 810.16 L146.67 810.23 L147.76 810.31 L148.85 810.41 L149.94 810.52 L151.03 810.64 L152.12 810.79 L153.21 810.95 L154.3 811.14 L155.4 811.36 L156.49 811.61 L157.58 811.9 L158.67 812.22 L159.76 812.6 L160.85 813.02 L161.94 813.51 L163.03 814.06 L164.13 814.68 L165.22 815.39 L166.31 816.18 L167.4 817.07 L168.49 818.07 L169.58 819.17 L170.67 820.4 L171.76 821.75 L172.86 823.22 L173.95 824.83 L175.04 826.56 L176.13 828.42 L177.22 830.39 L178.31 832.46 L179.4 834.63 L180.49 836.86 L181.59 839.15 L182.68 841.46 L183.77 843.78 L184.86 846.08 L185.95 848.34 L187.04 850.54 L188.13 852.65 L189.22 854.66 L190.32 856.56 L191.41 858.34 L192.5 859.99 L193.59 861.51 L194.68 862.91 L195.77 864.18 L196.86 865.33 L197.95 866.37 L199.05 867.3 L200.14 868.13" fill="none" stroke="#dc3a48" stroke-width="1"/>
<line x1="91.04" y1="807.12" x2="91.04" y2="827.73" stroke="#e36a74" stroke-width="0.9"/>
<line x1="88.84" y1="807.12" x2="93.24" y2="807.12" stroke="#e36a74" stroke-width="0.9"/>
<line x1="88.84" y1="827.73" x2="93.24" y2="827.73" stroke="#e36a74" stroke-width="0.9"/>
<rect x="88.74" y="815.13" width="4.6" height="4.6" fill="#dc3a48" stroke="none" stroke-width="1"/>
<line x1="104.68" y1="796.82" x2="104.68" y2="831.6" stroke="#e36a74" stroke-width="0.9"/>
<line x1="102.48" y1="796.82" x2="106.88" y2="796.82" stroke="#e36a74" stroke-width="0.9"/>
<line x1="102.48" y1="831.6" x2="106.88" y2="831.6" stroke="#e36a74" stroke-width="0.9"/>
<rect x="102.38" y="811.91" width="4.6" height="4.6" fill="#dc3a48" stroke="none" stroke-width="1"/>
<line x1="118.32" y1="809.06" x2="118.32" y2="834.82" stroke="#e36a74" stroke-width="0.9"/>
<line x1="116.12" y1="809.06" x2="120.52" y2="809.06" stroke="#e36a74" stroke-width="0.9"/>
<line x1="116.12" y1="834.82" x2="120.52" y2="834.82" stroke="#e36a74" stroke-width="0.9"/>
<rect x="116.02" y="819.64" width="4.6" height="4.6" fill="#dc3a48" stroke="none" stroke-width="1"/>
<line x1="131.95" y1="790.38" x2="131.95" y2="829.02" stroke="#e36a74" stroke-width="0.9"/>
<line x1="129.75" y1="790.38" x2="134.15" y2="790.38" stroke="#e36a74" stroke-width="0.9"/>
<line x1="129.75" y1="829.02" x2="134.15" y2="829.02" stroke="#e36a74" stroke-width="0.9"/>
<rect x="129.65" y="807.4" width="4.6" height="4.6" fill="#dc3a48" stroke="none" stroke-width="1"/>
<line x1="145.59" y1="801.97" x2="145.59" y2="830.31" stroke="#e36a74" stroke-width="0.9"/>
<line x1="143.39" y1="801.97" x2="147.79" y2="801.97" stroke="#e36a74" stroke-width="0.9"/>
<line x1="143.39" y1="830.31" x2="147.79" y2="830.31" stroke="#e36a74" stroke-width="0.9"/>
<rect x="143.29" y="813.84" width="4.6" height="4.6" fill="#dc3a48" stroke="none" stroke-width="1"/>
<line x1="159.23" y1="806.48" x2="159.23" y2="818.07" stroke="#e36a74" stroke-width="0.9"/>
<line x1="157.03" y1="806.48" x2="161.43" y2="806.48" stroke="#e36a74" stroke-width="0.9"/>
<line x1="157.03" y1="818.07" x2="161.43" y2="818.07" stroke="#e36a74" stroke-width="0.9"/>
<rect x="156.93" y="809.98" width="4.6" height="4.6" fill="#dc3a48" stroke="none" stroke-width="1"/>
<line x1="172.86" y1="809.7" x2="172.86" y2="841.9" stroke="#e36a74" stroke-width="0.9"/>
<line x1="170.66" y1="809.7" x2="175.06" y2="809.7" stroke="#e36a74" stroke-width="0.9"/>
<line x1="170.66" y1="841.9" x2="175.06" y2="841.9" stroke="#e36a74" stroke-width="0.9"/>
<rect x="170.56" y="823.5" width="4.6" height="4.6" fill="#dc3a48" stroke="none" stroke-width="1"/>
<line x1="186.5" y1="832.24" x2="186.5" y2="858" stroke="#e36a74" stroke-width="0.9"/>
<line x1="184.3" y1="832.24" x2="188.7" y2="832.24" stroke="#e36a74" stroke-width="0.9"/>
<line x1="184.3" y1="858" x2="188.7" y2="858" stroke="#e36a74" stroke-width="0.9"/>
<rect x="184.2" y="842.82" width="4.6" height="4.6" fill="#dc3a48" stroke="none" stroke-width="1"/>
<path d="M91.01 809.84 L92.1 809.85 L93.19 809.87 L94.29 809.89 L95.38 809.9 L96.47 809.93 L97.56 809.95 L98.65 809.98 L99.74 810 L100.83 810.04 L101.92 810.07 L103.02 810.11 L104.11 810.15 L105.2 810.2 L106.29 810.25 L107.38 810.31 L108.47 810.37 L109.56 810.44 L110.65 810.52 L111.75 810.61 L112.84 810.7 L113.93 810.8 L115.02 810.92 L116.11 811.04 L117.2 811.18 L118.29 811.33 L119.38 811.5 L120.48 811.68 L121.57 811.88 L122.66 812.1 L123.75 812.34 L124.84 812.61 L125.93 812.9 L127.02 813.21 L128.11 813.56 L129.21 813.94 L130.3 814.36 L131.39 814.81 L132.48 815.3 L133.57 815.83 L134.66 816.41 L135.75 817.03 L136.84 817.71 L137.94 818.44 L139.03 819.22 L140.12 820.06 L141.21 820.97 L142.3 821.93 L143.39 822.95 L144.48 824.04 L145.57 825.19 L146.67 826.4 L147.76 827.68 L148.85 829.01 L149.94 830.4 L151.03 831.84 L152.12 833.33 L153.21 834.86 L154.3 836.43 L155.4 838.02 L156.49 839.64 L157.58 841.27 L158.67 842.91 L159.76 844.55 L160.85 846.18 L161.94 847.79 L163.03 849.37 L164.13 850.92 L165.22 852.43 L166.31 853.9 L167.4 855.32 L168.49 856.68 L169.58 857.99 L170.67 859.24 L171.76 860.42 L172.86 861.54 L173.95 862.6 L175.04 863.6 L176.13 864.54 L177.22 865.41 L178.31 866.23 L179.4 866.99 L180.49 867.69 L181.59 868.34 L182.68 868.95 L183.77 869.5 L184.86 870.02 L185.95 870.49 L187.04 870.92 L188.13 871.32 L189.22 871.69 L190.32 872.02 L191.41 872.32 L192.5 872.6 L193.59 872.86 L194.68 873.09 L195.77 873.3 L196.86 873.49 L197.95 873.67 L199.05 873.83 L200.14 873.97" fill="none" stroke="#ea8c92" stroke-width="1"/>
<line x1="91.04" y1="800.04" x2="91.04" y2="820.65" stroke="#eaa0a6" stroke-width="0.9"/>
<line x1="88.84" y1="800.04" x2="93.24" y2="800.04" stroke="#eaa0a6" stroke-width="0.9"/>
<line x1="88.84" y1="820.65" x2="93.24" y2="820.65" stroke="#eaa0a6" stroke-width="0.9"/>
<circle cx="91.04" cy="810.34" r="2.3" fill="#ea8c92" stroke="none" stroke-width="1"/>
<line x1="104.68" y1="801.33" x2="104.68" y2="819.36" stroke="#eaa0a6" stroke-width="0.9"/>
<line x1="102.48" y1="801.33" x2="106.88" y2="801.33" stroke="#eaa0a6" stroke-width="0.9"/>
<line x1="102.48" y1="819.36" x2="106.88" y2="819.36" stroke="#eaa0a6" stroke-width="0.9"/>
<circle cx="104.68" cy="810.34" r="2.3" fill="#ea8c92" stroke="none" stroke-width="1"/>
<line x1="118.32" y1="799.4" x2="118.32" y2="820" stroke="#eaa0a6" stroke-width="0.9"/>
<line x1="116.12" y1="799.4" x2="120.52" y2="799.4" stroke="#eaa0a6" stroke-width="0.9"/>
<line x1="116.12" y1="820" x2="120.52" y2="820" stroke="#eaa0a6" stroke-width="0.9"/>
<circle cx="118.32" cy="809.7" r="2.3" fill="#ea8c92" stroke="none" stroke-width="1"/>
<line x1="131.95" y1="809.06" x2="131.95" y2="824.51" stroke="#eaa0a6" stroke-width="0.9"/>
<line x1="129.75" y1="809.06" x2="134.15" y2="809.06" stroke="#eaa0a6" stroke-width="0.9"/>
<line x1="129.75" y1="824.51" x2="134.15" y2="824.51" stroke="#eaa0a6" stroke-width="0.9"/>
<circle cx="131.95" cy="816.78" r="2.3" fill="#ea8c92" stroke="none" stroke-width="1"/>
<line x1="145.59" y1="818.07" x2="145.59" y2="843.83" stroke="#eaa0a6" stroke-width="0.9"/>
<line x1="143.39" y1="818.07" x2="147.79" y2="818.07" stroke="#eaa0a6" stroke-width="0.9"/>
<line x1="143.39" y1="843.83" x2="147.79" y2="843.83" stroke="#eaa0a6" stroke-width="0.9"/>
<circle cx="145.59" cy="830.95" r="2.3" fill="#ea8c92" stroke="none" stroke-width="1"/>
<line x1="159.23" y1="827.09" x2="159.23" y2="850.27" stroke="#eaa0a6" stroke-width="0.9"/>
<line x1="157.03" y1="827.09" x2="161.43" y2="827.09" stroke="#eaa0a6" stroke-width="0.9"/>
<line x1="157.03" y1="850.27" x2="161.43" y2="850.27" stroke="#eaa0a6" stroke-width="0.9"/>
<circle cx="159.23" cy="838.68" r="2.3" fill="#ea8c92" stroke="none" stroke-width="1"/>
<line x1="172.86" y1="851.56" x2="172.86" y2="864.44" stroke="#eaa0a6" stroke-width="0.9"/>
<line x1="170.66" y1="851.56" x2="175.06" y2="851.56" stroke="#eaa0a6" stroke-width="0.9"/>
<line x1="170.66" y1="864.44" x2="175.06" y2="864.44" stroke="#eaa0a6" stroke-width="0.9"/>
<circle cx="172.86" cy="858" r="2.3" fill="#ea8c92" stroke="none" stroke-width="1"/>
<line x1="186.5" y1="872.17" x2="186.5" y2="876.03" stroke="#eaa0a6" stroke-width="0.9"/>
<line x1="184.3" y1="872.17" x2="188.7" y2="872.17" stroke="#eaa0a6" stroke-width="0.9"/>
<line x1="184.3" y1="876.03" x2="188.7" y2="876.03" stroke="#eaa0a6" stroke-width="0.9"/>
<circle cx="186.5" cy="874.1" r="2.3" fill="#ea8c92" stroke="none" stroke-width="1"/>
<circle cx="200.14" cy="872.81" r="2.3" fill="#ea8c92" stroke="none" stroke-width="1"/>
<line x1="140.8" y1="784.3" x2="150.2" y2="784.3" stroke="#dc3a48" stroke-width="1"/>
<rect x="143.4" y="782.2" width="4.2" height="4.2" fill="#dc3a48" stroke="none" stroke-width="1"/>
<text x="157.6" y="786.64" font-size="7.8" text-anchor="start" fill="#222" stroke="#222" stroke-width="0.21">LNCap-ER: DOX-</text>
<text x="225" y="786.64" font-size="7.8" text-anchor="start" fill="#222" stroke="#222" stroke-width="0.21">IC50: 8.32 μM</text>
<line x1="140.8" y1="797.2" x2="150.2" y2="797.2" stroke="#ea8c92" stroke-width="1"/>
<circle cx="145.5" cy="797.2" r="2.1" fill="#ea8c92" stroke="none" stroke-width="1"/>
<text x="157.6" y="799.54" font-size="7.8" text-anchor="start" fill="#222" stroke="#222" stroke-width="0.21">LNCap-ER: DOX+</text>
<text x="225" y="799.54" font-size="7.8" text-anchor="start" fill="#222" stroke="#222" stroke-width="0.21">IC50: 2.40 μM</text>
<text x="400.25" y="764.5" font-size="12.9" font-weight="bold" stroke="#000" stroke-width="0.5" transform="translate(400.25 0) scale(1.03 1) translate(-400.25 0)">N</text>
<text x="442.4" y="766.85" font-size="10.9" text-anchor="start" fill="#111" stroke="#111" stroke-width="0.2">LNCaP/MUC1-C OE</text>
<line x1="437.1" y1="779.4" x2="437.1" y2="875.2" stroke="#8a8a8a" stroke-width="0.9"/>
<line x1="437.1" y1="875.2" x2="580.8" y2="875.2" stroke="#8a8a8a" stroke-width="0.9"/>
<line x1="434.1" y1="875.2" x2="437.1" y2="875.2" stroke="#8a8a8a" stroke-width="0.9"/>
<text x="432.7" y="877.47" font-size="7.6" text-anchor="end" fill="#333" stroke="#333" stroke-width="0.19">0</text>
<line x1="434.1" y1="843.2" x2="437.1" y2="843.2" stroke="#8a8a8a" stroke-width="0.9"/>
<text x="432.7" y="845.47" font-size="7.6" text-anchor="end" fill="#333" stroke="#333" stroke-width="0.19">50</text>
<line x1="434.1" y1="811.2" x2="437.1" y2="811.2" stroke="#8a8a8a" stroke-width="0.9"/>
<text x="432.7" y="813.47" font-size="7.6" text-anchor="end" fill="#333" stroke="#333" stroke-width="0.19">100</text>
<line x1="434.1" y1="779.2" x2="437.1" y2="779.2" stroke="#8a8a8a" stroke-width="0.9"/>
<text x="432.7" y="781.47" font-size="7.6" text-anchor="end" fill="#333" stroke="#333" stroke-width="0.19">150</text>
<line x1="443.6" y1="875.2" x2="443.6" y2="879.6" stroke="#333" stroke-width="1.1"/>
<text x="443.6" y="887.07" font-size="7.6" text-anchor="middle" fill="#333" stroke="#333" stroke-width="0.19">0.1</text>
<line x1="489.3" y1="875.2" x2="489.3" y2="879.6" stroke="#333" stroke-width="1.1"/>
<text x="489.3" y="887.07" font-size="7.6" text-anchor="middle" fill="#333" stroke="#333" stroke-width="0.19">1</text>
<line x1="535" y1="875.2" x2="535" y2="879.6" stroke="#333" stroke-width="1.1"/>
<text x="535" y="887.07" font-size="7.6" text-anchor="middle" fill="#333" stroke="#333" stroke-width="0.19">10</text>
<line x1="580.7" y1="875.2" x2="580.7" y2="879.6" stroke="#333" stroke-width="1.1"/>
<text x="580.7" y="887.07" font-size="7.6" text-anchor="middle" fill="#333" stroke="#333" stroke-width="0.19">100</text>
<text x="509" y="898.18" font-size="7.9" text-anchor="middle" fill="#222" stroke="#222" stroke-width="0.22">ENZ (μM)</text>
<text x="406.6" y="828" font-size="8.2" text-anchor="middle" fill="#333" stroke="#333" stroke-width="0.24" transform="rotate(-90 406.6 828)">Relative cell number</text>
<text x="416" y="828" font-size="8.2" text-anchor="middle" fill="#333" stroke="#333" stroke-width="0.24" transform="rotate(-90 416 828)">(% Control)</text>
<path d="M438.67 819.13 L439.77 819.15 L440.87 819.16 L441.97 819.18 L443.07 819.2 L444.17 819.22 L445.27 819.24 L446.37 819.26 L447.48 819.28 L448.58 819.3 L449.68 819.33 L450.78 819.35 L451.88 819.38 L452.98 819.41 L454.08 819.45 L455.18 819.48 L456.28 819.51 L457.38 819.55 L458.48 819.59 L459.59 819.63 L460.69 819.68 L461.79 819.73 L462.89 819.78 L463.99 819.83 L465.09 819.89 L466.19 819.95 L467.29 820.01 L468.39 820.08 L469.49 820.15 L470.59 820.22 L471.7 820.3 L472.8 820.39 L473.9 820.48 L475 820.57 L476.1 820.67 L477.2 820.78 L478.3 820.89 L479.4 821.01 L480.5 821.13 L481.6 821.26 L482.7 821.4 L483.8 821.55 L484.91 821.71 L486.01 821.87 L487.11 822.04 L488.21 822.23 L489.31 822.42 L490.41 822.63 L491.51 822.84 L492.61 823.07 L493.71 823.31 L494.81 823.57 L495.91 823.84 L497.02 824.12 L498.12 824.42 L499.22 824.73 L500.32 825.06 L501.42 825.41 L502.52 825.78 L503.62 826.16 L504.72 826.57 L505.82 826.99 L506.92 827.44 L508.02 827.91 L509.13 828.41 L510.23 828.92 L511.33 829.47 L512.43 830.03 L513.53 830.63 L514.63 831.25 L515.73 831.91 L516.83 832.59 L517.93 833.3 L519.03 834.04 L520.13 834.82 L521.23 835.62 L522.34 836.46 L523.44 837.34 L524.54 838.25 L525.64 839.19 L526.74 840.16 L527.84 841.18 L528.94 842.22 L530.04 843.3 L531.14 844.42 L532.24 845.57 L533.34 846.76 L534.45 847.98 L535.55 849.23 L536.65 850.52 L537.75 851.83 L538.85 853.18 L539.95 854.55 L541.05 855.95 L542.15 857.38 L543.25 858.83 L544.35 860.3 L545.45 861.8 L546.56 863.31 L547.66 864.83 L548.76 866.37" fill="none" stroke="#c06868" stroke-width="1"/>
<line x1="438.7" y1="814.08" x2="438.7" y2="820.48" stroke="#c89090" stroke-width="0.9"/>
<line x1="436.5" y1="814.08" x2="440.9" y2="814.08" stroke="#c89090" stroke-width="0.9"/>
<line x1="436.5" y1="820.48" x2="440.9" y2="820.48" stroke="#c89090" stroke-width="0.9"/>
<rect x="436.4" y="814.98" width="4.6" height="4.6" fill="#8c1a1a" stroke="none" stroke-width="1"/>
<line x1="452.46" y1="814.66" x2="452.46" y2="832.58" stroke="#c89090" stroke-width="0.9"/>
<line x1="450.26" y1="814.66" x2="454.66" y2="814.66" stroke="#c89090" stroke-width="0.9"/>
<line x1="450.26" y1="832.58" x2="454.66" y2="832.58" stroke="#c89090" stroke-width="0.9"/>
<rect x="450.16" y="821.32" width="4.6" height="4.6" fill="#8c1a1a" stroke="none" stroke-width="1"/>
<line x1="466.21" y1="815.87" x2="466.21" y2="827.39" stroke="#c89090" stroke-width="0.9"/>
<line x1="464.01" y1="815.87" x2="468.41" y2="815.87" stroke="#c89090" stroke-width="0.9"/>
<line x1="464.01" y1="827.39" x2="468.41" y2="827.39" stroke="#c89090" stroke-width="0.9"/>
<rect x="463.91" y="819.33" width="4.6" height="4.6" fill="#8c1a1a" stroke="none" stroke-width="1"/>
<line x1="479.97" y1="824" x2="479.97" y2="831.68" stroke="#c89090" stroke-width="0.9"/>
<line x1="477.77" y1="824" x2="482.17" y2="824" stroke="#c89090" stroke-width="0.9"/>
<line x1="477.77" y1="831.68" x2="482.17" y2="831.68" stroke="#c89090" stroke-width="0.9"/>
<rect x="477.67" y="825.54" width="4.6" height="4.6" fill="#8c1a1a" stroke="none" stroke-width="1"/>
<line x1="493.73" y1="814.53" x2="493.73" y2="835.01" stroke="#c89090" stroke-width="0.9"/>
<line x1="491.53" y1="814.53" x2="495.93" y2="814.53" stroke="#c89090" stroke-width="0.9"/>
<line x1="491.53" y1="835.01" x2="495.93" y2="835.01" stroke="#c89090" stroke-width="0.9"/>
<rect x="491.43" y="822.47" width="4.6" height="4.6" fill="#8c1a1a" stroke="none" stroke-width="1"/>
<line x1="507.49" y1="822.08" x2="507.49" y2="838.72" stroke="#c89090" stroke-width="0.9"/>
<line x1="505.29" y1="822.08" x2="509.69" y2="822.08" stroke="#c89090" stroke-width="0.9"/>
<line x1="505.29" y1="838.72" x2="509.69" y2="838.72" stroke="#c89090" stroke-width="0.9"/>
<rect x="505.19" y="828.1" width="4.6" height="4.6" fill="#8c1a1a" stroke="none" stroke-width="1"/>
<line x1="521.24" y1="837.63" x2="521.24" y2="850.43" stroke="#c89090" stroke-width="0.9"/>
<line x1="519.04" y1="837.63" x2="523.44" y2="837.63" stroke="#c89090" stroke-width="0.9"/>
<line x1="519.04" y1="850.43" x2="523.44" y2="850.43" stroke="#c89090" stroke-width="0.9"/>
<rect x="518.94" y="841.73" width="4.6" height="4.6" fill="#8c1a1a" stroke="none" stroke-width="1"/>
<line x1="535" y1="843.39" x2="535" y2="851.07" stroke="#c89090" stroke-width="0.9"/>
<line x1="532.8" y1="843.39" x2="537.2" y2="843.39" stroke="#c89090" stroke-width="0.9"/>
<line x1="532.8" y1="851.07" x2="537.2" y2="851.07" stroke="#c89090" stroke-width="0.9"/>
<rect x="532.7" y="844.93" width="4.6" height="4.6" fill="#8c1a1a" stroke="none" stroke-width="1"/>
<rect x="546.46" y="866.5" width="4.6" height="4.6" fill="#8c1a1a" stroke="none" stroke-width="1"/>
<path d="M438.67 828.87 L439.77 829.13 L440.87 829.41 L441.97 829.69 L443.07 829.99 L444.17 830.31 L445.27 830.64 L446.37 830.98 L447.48 831.33 L448.58 831.7 L449.68 832.09 L450.78 832.49 L451.88 832.91 L452.98 833.34 L454.08 833.79 L455.18 834.26 L456.28 834.74 L457.38 835.23 L458.48 835.75 L459.59 836.28 L460.69 836.82 L461.79 837.38 L462.89 837.96 L463.99 838.55 L465.09 839.15 L466.19 839.77 L467.29 840.4 L468.39 841.04 L469.49 841.7 L470.59 842.36 L471.7 843.04 L472.8 843.72 L473.9 844.42 L475 845.12 L476.1 845.82 L477.2 846.53 L478.3 847.25 L479.4 847.96 L480.5 848.68 L481.6 849.4 L482.7 850.11 L483.8 850.83 L484.91 851.54 L486.01 852.24 L487.11 852.94 L488.21 853.63 L489.31 854.32 L490.41 854.99 L491.51 855.66 L492.61 856.31 L493.71 856.95 L494.81 857.58 L495.91 858.2 L497.02 858.8 L498.12 859.39 L499.22 859.96 L500.32 860.52 L501.42 861.06 L502.52 861.59 L503.62 862.1 L504.72 862.6 L505.82 863.08 L506.92 863.54 L508.02 863.99 L509.13 864.42 L510.23 864.83 L511.33 865.23 L512.43 865.62 L513.53 865.99 L514.63 866.34 L515.73 866.68 L516.83 867.01 L517.93 867.32 L519.03 867.62 L520.13 867.9 L521.23 868.18 L522.34 868.44 L523.44 868.68 L524.54 868.92 L525.64 869.15 L526.74 869.36 L527.84 869.57 L528.94 869.76 L530.04 869.95 L531.14 870.12 L532.24 870.29 L533.34 870.45 L534.45 870.6 L535.55 870.75 L536.65 870.88 L537.75 871.01 L538.85 871.14 L539.95 871.25 L541.05 871.36 L542.15 871.47 L543.25 871.57 L544.35 871.66 L545.45 871.75 L546.56 871.83 L547.66 871.91 L548.76 871.99" fill="none" stroke="#4a4af0" stroke-width="1"/>
<line x1="438.7" y1="827.97" x2="438.7" y2="835.65" stroke="#9090f0" stroke-width="0.9"/>
<line x1="436.5" y1="827.97" x2="440.9" y2="827.97" stroke="#9090f0" stroke-width="0.9"/>
<line x1="436.5" y1="835.65" x2="440.9" y2="835.65" stroke="#9090f0" stroke-width="0.9"/>
<circle cx="438.7" cy="831.81" r="2.3" fill="#2020e8" stroke="none" stroke-width="1"/>
<line x1="452.46" y1="828.93" x2="452.46" y2="836.61" stroke="#9090f0" stroke-width="0.9"/>
<line x1="450.26" y1="828.93" x2="454.66" y2="828.93" stroke="#9090f0" stroke-width="0.9"/>
<line x1="450.26" y1="836.61" x2="454.66" y2="836.61" stroke="#9090f0" stroke-width="0.9"/>
<circle cx="452.46" cy="832.77" r="2.3" fill="#2020e8" stroke="none" stroke-width="1"/>
<line x1="466.21" y1="831.04" x2="466.21" y2="845.12" stroke="#9090f0" stroke-width="0.9"/>
<line x1="464.01" y1="831.04" x2="468.41" y2="831.04" stroke="#9090f0" stroke-width="0.9"/>
<line x1="464.01" y1="845.12" x2="468.41" y2="845.12" stroke="#9090f0" stroke-width="0.9"/>
<circle cx="466.21" cy="838.08" r="2.3" fill="#2020e8" stroke="none" stroke-width="1"/>
<line x1="479.97" y1="848.96" x2="479.97" y2="855.36" stroke="#9090f0" stroke-width="0.9"/>
<line x1="477.77" y1="848.96" x2="482.17" y2="848.96" stroke="#9090f0" stroke-width="0.9"/>
<line x1="477.77" y1="855.36" x2="482.17" y2="855.36" stroke="#9090f0" stroke-width="0.9"/>
<circle cx="479.97" cy="852.16" r="2.3" fill="#2020e8" stroke="none" stroke-width="1"/>
<line x1="493.73" y1="854.08" x2="493.73" y2="861.76" stroke="#9090f0" stroke-width="0.9"/>
<line x1="491.53" y1="854.08" x2="495.93" y2="854.08" stroke="#9090f0" stroke-width="0.9"/>
<line x1="491.53" y1="861.76" x2="495.93" y2="861.76" stroke="#9090f0" stroke-width="0.9"/>
<circle cx="493.73" cy="857.92" r="2.3" fill="#2020e8" stroke="none" stroke-width="1"/>
<line x1="507.49" y1="855.36" x2="507.49" y2="868.16" stroke="#9090f0" stroke-width="0.9"/>
<line x1="505.29" y1="855.36" x2="509.69" y2="855.36" stroke="#9090f0" stroke-width="0.9"/>
<line x1="505.29" y1="868.16" x2="509.69" y2="868.16" stroke="#9090f0" stroke-width="0.9"/>
<circle cx="507.49" cy="861.76" r="2.3" fill="#2020e8" stroke="none" stroke-width="1"/>
<line x1="521.24" y1="865.98" x2="521.24" y2="869.82" stroke="#9090f0" stroke-width="0.9"/>
<line x1="519.04" y1="865.98" x2="523.44" y2="865.98" stroke="#9090f0" stroke-width="0.9"/>
<line x1="519.04" y1="869.82" x2="523.44" y2="869.82" stroke="#9090f0" stroke-width="0.9"/>
<circle cx="521.24" cy="867.9" r="2.3" fill="#2020e8" stroke="none" stroke-width="1"/>
<circle cx="535" cy="872.9" r="2.3" fill="#2020e8" stroke="none" stroke-width="1"/>
<circle cx="548.76" cy="872.64" r="2.3" fill="#2020e8" stroke="none" stroke-width="1"/>
<line x1="488.6" y1="787" x2="498.5" y2="787" stroke="#2020e8" stroke-width="1"/>
<circle cx="493.55" cy="787" r="2.1" fill="#2020e8" stroke="none" stroke-width="1"/>
<text x="505" y="789.6" font-size="8.5" text-anchor="start" fill="#222" stroke="#222" stroke-width="0.25">LNCaP-WT</text>
<text x="553.3" y="789.6" font-size="8.5" text-anchor="start" fill="#222" stroke="#222" stroke-width="0.25">IC50:0.35</text>
<text x="594.5" y="789.6" font-size="8.5" text-anchor="start" fill="#222" stroke="#222" stroke-width="0.25">μM</text>
<line x1="488.6" y1="799.5" x2="498.5" y2="799.5" stroke="#8c1a1a" stroke-width="1"/>
<rect x="491.45" y="797.4" width="4.2" height="4.2" fill="#8c1a1a" stroke="none" stroke-width="1"/>
<text x="505" y="802.1" font-size="8.5" text-anchor="start" fill="#222" stroke="#222" stroke-width="0.25">LNCaP-OE</text>
<text x="554.7" y="802.1" font-size="8.5" text-anchor="start" fill="#222" stroke="#222" stroke-width="0.25">IC50:4.85</text>
<text x="594.5" y="802.1" font-size="8.5" text-anchor="start" fill="#222" stroke="#222" stroke-width="0.25">μM</text></g></svg></body></html>
